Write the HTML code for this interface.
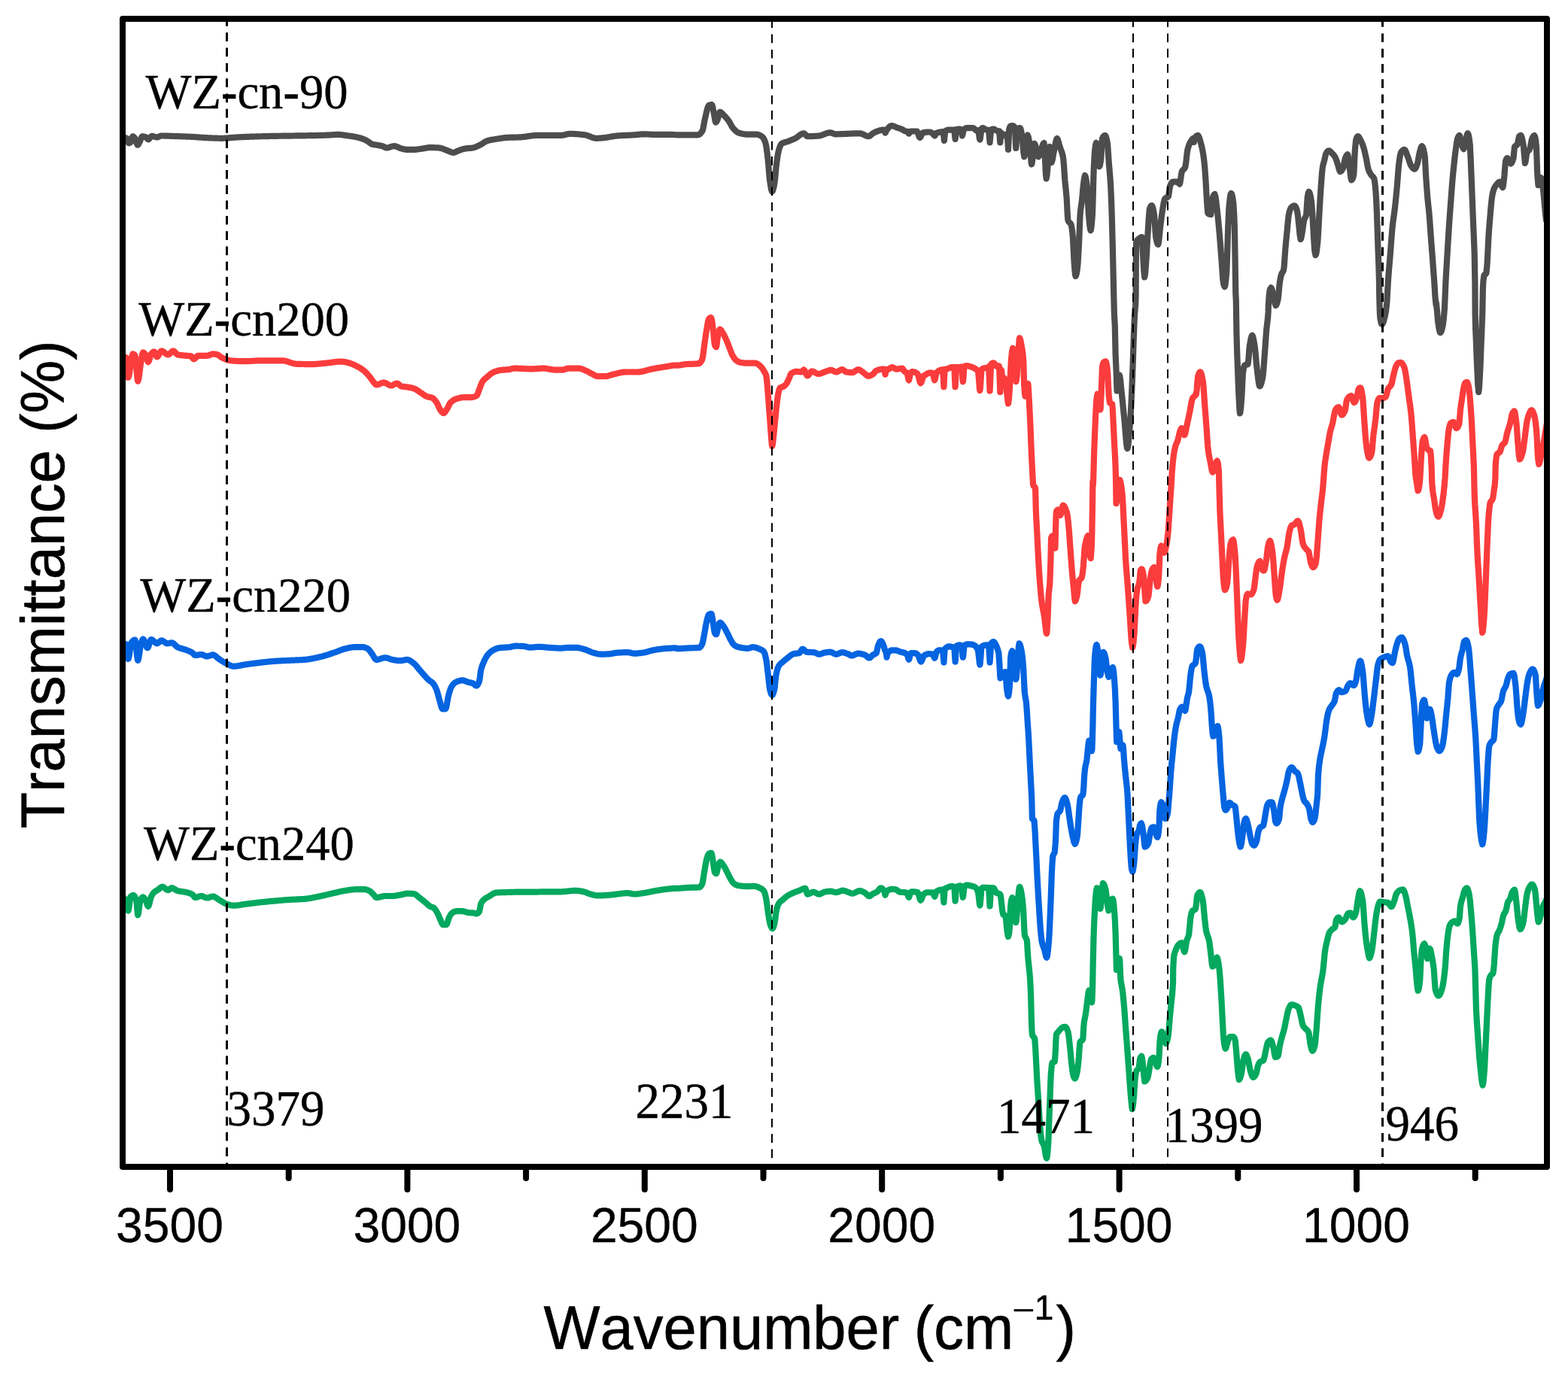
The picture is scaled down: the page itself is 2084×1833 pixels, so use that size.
<!DOCTYPE html>
<html lang="en"><head><meta charset="utf-8"><title>FTIR spectra</title>
<style>html,body{margin:0;padding:0;background:#fff}body{width:2084px;height:1833px;overflow:hidden}svg{display:block}text{font-kerning:none;white-space:pre}.sans{font-family:"Liberation Sans",Arial,Helvetica,sans-serif}.serif{font-family:"Liberation Serif","Times New Roman",Times,serif}</style></head><body>
<svg xmlns="http://www.w3.org/2000/svg" width="2084" height="1833" viewBox="0 0 2084 1833">
<rect x="0" y="0" width="2084" height="1833" fill="#ffffff"/>
<defs><clipPath id="plot"><rect x="163.0" y="25.0" width="1893.0" height="1526.0"/></clipPath></defs>
<g clip-path="url(#plot)" fill="none" stroke-width="8.2" stroke-linejoin="round" stroke-linecap="round">
<path stroke="#4d4d4d" d="M162.70 182.80 L163.50 182.82 L164.30 182.87 L165.10 182.95 L165.90 183.08 L166.70 183.24 L167.50 183.45 L168.60 183.80 L169.10 184.59 L169.90 187.35 L170.70 189.87 L171.10 190.30 L171.50 190.26 L172.30 189.96 L173.10 189.41 L173.90 188.70 L174.70 186.55 L175.50 183.29 L176.40 181.30 L177.10 181.49 L177.90 182.09 L178.70 182.95 L179.40 183.80 L180.30 185.86 L181.10 188.57 L181.90 191.11 L182.90 192.60 L183.50 192.28 L184.30 191.14 L185.10 189.62 L185.60 188.70 L185.90 188.12 L186.70 186.09 L187.50 183.85 L188.30 182.04 L189.10 181.30 L189.90 181.34 L190.70 181.44 L191.50 181.60 L192.30 181.81 L193.10 182.07 L194.00 182.40 L194.70 182.97 L195.50 184.04 L196.30 185.03 L197.00 185.40 L197.90 185.00 L198.70 184.15 L199.50 183.08 L200.30 182.03 L201.10 181.22 L201.90 180.90 L202.70 180.96 L203.50 181.11 L204.30 181.33 L205.10 181.58 L205.90 181.85 L206.70 182.09 L207.50 182.28 L208.30 182.39 L208.70 182.40 L209.10 182.37 L209.90 182.20 L210.70 181.89 L211.50 181.52 L212.30 181.14 L213.10 180.81 L213.90 180.57 L214.60 180.50 L215.50 180.50 L216.30 180.51 L217.10 180.52 L217.90 180.54 L218.70 180.56 L219.50 180.58 L220.30 180.61 L221.10 180.63 L221.90 180.66 L222.70 180.69 L223.50 180.72 L224.30 180.75 L225.10 180.78 L225.90 180.82 L226.70 180.84 L227.50 180.87 L228.30 180.90 L229.10 180.93 L229.90 180.95 L230.70 180.98 L231.50 181.00 L232.30 181.03 L233.10 181.05 L233.90 181.08 L234.70 181.10 L235.50 181.13 L236.30 181.16 L237.10 181.18 L237.90 181.21 L238.70 181.23 L239.50 181.26 L240.30 181.29 L241.10 181.31 L241.90 181.34 L242.70 181.37 L243.50 181.40 L244.30 181.43 L245.10 181.46 L245.90 181.49 L246.70 181.52 L247.50 181.55 L248.30 181.58 L249.10 181.61 L249.90 181.64 L250.70 181.68 L251.50 181.71 L252.30 181.74 L253.10 181.78 L253.90 181.82 L254.70 181.85 L255.70 181.90 L256.30 181.93 L257.10 181.97 L257.90 182.02 L258.70 182.07 L259.50 182.12 L260.30 182.18 L261.10 182.23 L261.90 182.29 L262.70 182.35 L263.50 182.41 L264.30 182.48 L265.10 182.54 L265.90 182.60 L266.70 182.66 L267.50 182.72 L268.30 182.78 L269.10 182.84 L269.90 182.90 L270.70 182.95 L271.50 183.00 L272.30 183.05 L273.10 183.10 L273.90 183.14 L274.70 183.18 L275.20 183.20 L275.50 183.21 L276.30 183.25 L277.10 183.28 L277.90 183.32 L278.70 183.35 L279.50 183.38 L280.30 183.42 L281.10 183.45 L281.90 183.48 L282.70 183.52 L283.50 183.55 L284.30 183.58 L285.10 183.61 L285.90 183.63 L286.70 183.66 L287.50 183.68 L288.30 183.71 L289.10 183.73 L289.90 183.74 L290.70 183.76 L291.50 183.77 L292.30 183.78 L293.10 183.79 L293.90 183.80 L294.80 183.80 L295.50 183.80 L296.30 183.79 L297.10 183.77 L297.90 183.74 L298.70 183.71 L299.50 183.67 L300.30 183.62 L301.10 183.57 L301.90 183.52 L302.70 183.46 L303.50 183.40 L304.30 183.33 L305.10 183.27 L305.90 183.20 L306.70 183.13 L307.50 183.06 L308.30 182.99 L309.10 182.92 L309.90 182.85 L310.70 182.78 L311.50 182.72 L312.30 182.66 L313.10 182.60 L313.90 182.54 L314.70 182.49 L315.50 182.44 L316.30 182.40 L317.10 182.36 L317.90 182.32 L318.70 182.29 L319.50 182.25 L320.30 182.21 L321.10 182.18 L321.90 182.14 L322.70 182.11 L323.50 182.07 L324.30 182.04 L325.10 182.00 L325.90 181.97 L326.70 181.94 L327.50 181.91 L328.30 181.87 L329.10 181.84 L329.90 181.81 L330.70 181.78 L331.50 181.75 L332.30 181.72 L333.10 181.69 L333.90 181.66 L334.70 181.64 L335.50 181.61 L336.30 181.58 L337.10 181.56 L337.90 181.53 L338.70 181.50 L339.50 181.48 L340.30 181.45 L341.10 181.43 L341.90 181.41 L342.70 181.38 L343.50 181.36 L344.30 181.34 L345.10 181.32 L345.70 181.30 L346.70 181.27 L347.50 181.25 L348.30 181.23 L349.10 181.21 L349.90 181.19 L350.70 181.17 L351.50 181.16 L352.30 181.14 L353.10 181.12 L353.90 181.10 L354.70 181.08 L355.50 181.06 L356.30 181.05 L357.10 181.03 L357.90 181.01 L358.70 181.00 L359.50 180.98 L360.30 180.96 L361.10 180.95 L361.90 180.93 L362.70 180.92 L363.50 180.90 L364.30 180.89 L365.10 180.87 L365.90 180.86 L366.70 180.84 L367.50 180.83 L368.30 180.81 L369.10 180.80 L369.90 180.79 L370.70 180.77 L371.50 180.76 L372.30 180.74 L373.10 180.73 L373.90 180.72 L375.00 180.70 L375.50 180.69 L376.30 180.68 L377.10 180.67 L377.90 180.65 L378.70 180.64 L379.50 180.63 L380.30 180.62 L381.10 180.61 L381.90 180.60 L382.70 180.59 L383.50 180.58 L384.30 180.57 L385.10 180.56 L385.90 180.55 L386.70 180.54 L387.50 180.53 L388.30 180.52 L389.10 180.51 L389.90 180.50 L390.70 180.49 L391.50 180.48 L392.30 180.47 L393.10 180.46 L393.90 180.45 L394.70 180.44 L395.50 180.43 L396.30 180.42 L397.10 180.41 L397.90 180.40 L398.70 180.39 L399.50 180.37 L400.30 180.36 L401.10 180.35 L401.90 180.34 L402.70 180.33 L403.50 180.31 L404.40 180.30 L405.10 180.29 L405.90 180.28 L406.70 180.26 L407.50 180.25 L408.30 180.24 L409.10 180.22 L409.90 180.21 L410.70 180.20 L411.50 180.18 L412.30 180.17 L413.10 180.16 L413.90 180.14 L414.70 180.13 L415.50 180.12 L416.30 180.10 L417.10 180.09 L417.90 180.07 L418.70 180.06 L419.50 180.04 L420.30 180.03 L421.10 180.01 L421.90 180.00 L422.70 179.98 L423.50 179.96 L424.30 179.95 L425.10 179.93 L425.90 179.91 L426.70 179.89 L427.50 179.87 L428.30 179.85 L429.10 179.83 L429.90 179.81 L430.70 179.79 L431.50 179.77 L432.30 179.74 L433.10 179.72 L433.80 179.70 L434.70 179.67 L435.50 179.63 L436.30 179.59 L437.10 179.55 L437.90 179.50 L438.70 179.44 L439.50 179.39 L440.30 179.33 L441.10 179.28 L441.90 179.22 L442.70 179.17 L443.50 179.11 L444.30 179.07 L445.10 179.02 L445.90 178.98 L446.70 178.95 L447.50 178.93 L448.30 178.91 L449.40 178.90 L449.90 178.90 L450.70 178.93 L451.50 178.96 L452.30 179.02 L453.10 179.09 L453.90 179.17 L454.70 179.26 L455.50 179.36 L456.30 179.47 L457.10 179.59 L457.90 179.71 L458.70 179.83 L459.50 179.96 L460.30 180.08 L461.10 180.21 L461.90 180.33 L462.70 180.44 L463.10 180.50 L463.50 180.56 L464.30 180.67 L465.10 180.78 L465.90 180.90 L466.70 181.02 L467.50 181.14 L468.30 181.27 L469.10 181.40 L469.90 181.53 L470.70 181.68 L471.50 181.82 L472.30 181.98 L472.90 182.10 L473.90 182.31 L474.70 182.49 L475.50 182.67 L476.30 182.87 L477.10 183.07 L477.90 183.29 L478.70 183.51 L479.50 183.74 L480.30 183.99 L481.10 184.25 L481.90 184.52 L482.70 184.80 L483.50 185.11 L484.30 185.45 L485.10 185.83 L485.90 186.22 L486.70 186.65 L487.50 187.08 L488.60 187.70 L489.10 188.01 L489.90 188.58 L490.70 189.21 L491.50 189.85 L492.30 190.46 L493.10 191.00 L493.90 191.42 L494.40 191.60 L494.70 191.68 L495.50 191.88 L496.30 192.05 L497.10 192.20 L497.90 192.33 L498.70 192.45 L499.50 192.56 L500.30 192.67 L501.10 192.79 L501.90 192.93 L502.30 193.00 L502.70 193.08 L503.50 193.22 L504.30 193.37 L505.10 193.52 L505.90 193.68 L506.70 193.86 L507.50 194.04 L508.10 194.20 L509.10 194.56 L509.90 194.95 L510.70 195.37 L511.50 195.78 L512.30 196.13 L513.10 196.39 L514.00 196.50 L514.70 196.47 L515.50 196.35 L516.30 196.18 L517.10 195.96 L517.90 195.70 L518.70 195.42 L519.50 195.14 L520.30 194.87 L521.10 194.63 L521.90 194.43 L522.70 194.28 L523.80 194.20 L524.30 194.22 L525.10 194.32 L525.90 194.51 L526.70 194.76 L527.50 195.05 L528.30 195.39 L529.10 195.75 L529.90 196.11 L530.70 196.47 L531.50 196.81 L532.30 197.11 L533.10 197.37 L533.60 197.50 L533.90 197.57 L534.70 197.76 L535.50 197.96 L536.30 198.15 L537.10 198.34 L537.90 198.51 L538.70 198.65 L539.50 198.77 L540.30 198.86 L541.40 198.90 L541.90 198.90 L542.70 198.90 L543.50 198.90 L544.30 198.90 L545.10 198.90 L545.90 198.90 L546.70 198.90 L547.50 198.90 L548.30 198.90 L549.10 198.90 L550.00 198.90 L550.70 198.89 L551.50 198.86 L552.30 198.81 L553.10 198.74 L553.90 198.65 L554.70 198.55 L555.50 198.44 L556.30 198.32 L557.10 198.20 L557.90 198.07 L558.70 197.95 L559.50 197.82 L560.30 197.70 L561.10 197.58 L561.70 197.50 L562.70 197.35 L563.50 197.22 L564.30 197.07 L565.10 196.92 L565.90 196.77 L566.70 196.62 L567.50 196.48 L568.30 196.36 L569.10 196.25 L569.90 196.17 L570.70 196.12 L571.50 196.10 L572.30 196.10 L573.10 196.11 L573.90 196.12 L574.70 196.13 L575.50 196.15 L576.30 196.17 L577.10 196.20 L577.90 196.23 L578.70 196.26 L579.50 196.29 L580.30 196.33 L581.10 196.37 L581.90 196.42 L582.70 196.46 L583.30 196.50 L584.30 196.61 L585.10 196.75 L585.90 196.95 L586.70 197.18 L587.50 197.44 L588.30 197.72 L589.10 198.02 L589.90 198.33 L590.70 198.64 L591.50 198.94 L592.30 199.23 L593.10 199.50 L593.90 199.78 L594.70 200.10 L595.50 200.44 L596.30 200.80 L597.10 201.17 L597.90 201.52 L598.70 201.85 L599.50 202.15 L600.30 202.41 L601.10 202.61 L601.90 202.74 L602.80 202.80 L603.50 202.74 L604.30 202.53 L605.10 202.21 L605.90 201.83 L606.70 201.42 L607.50 201.01 L608.30 200.65 L608.70 200.50 L609.10 200.36 L609.90 200.08 L610.70 199.79 L611.50 199.50 L612.30 199.21 L613.10 198.93 L613.90 198.66 L614.70 198.41 L615.50 198.17 L616.30 197.96 L617.10 197.76 L617.90 197.60 L618.50 197.50 L619.50 197.36 L620.30 197.27 L621.10 197.19 L621.90 197.13 L622.70 197.06 L623.50 197.00 L624.30 196.94 L625.10 196.88 L625.90 196.80 L626.70 196.72 L627.50 196.62 L628.30 196.50 L629.10 196.34 L629.90 196.14 L630.70 195.90 L631.50 195.62 L632.30 195.31 L633.10 194.97 L633.90 194.61 L634.70 194.24 L635.50 193.85 L636.30 193.46 L637.10 193.08 L638.10 192.60 L638.70 192.30 L639.50 191.86 L640.30 191.38 L641.10 190.87 L641.90 190.34 L642.70 189.81 L643.50 189.28 L644.30 188.78 L645.10 188.30 L645.90 187.87 L646.70 187.50 L647.80 187.10 L648.30 186.96 L649.10 186.74 L649.90 186.54 L650.70 186.35 L651.50 186.17 L652.30 186.01 L653.10 185.86 L653.90 185.71 L654.70 185.57 L655.50 185.44 L656.30 185.31 L657.10 185.19 L657.90 185.06 L658.70 184.94 L659.60 184.80 L660.30 184.69 L661.10 184.56 L661.90 184.43 L662.70 184.30 L663.50 184.18 L664.30 184.05 L665.10 183.92 L665.90 183.80 L666.70 183.68 L667.50 183.56 L668.30 183.45 L669.10 183.35 L669.90 183.25 L670.70 183.16 L671.50 183.07 L672.30 182.99 L673.10 182.93 L673.90 182.87 L674.70 182.82 L675.20 182.80 L675.50 182.79 L676.30 182.76 L677.10 182.73 L677.90 182.71 L678.70 182.68 L679.50 182.66 L680.30 182.65 L681.10 182.63 L681.90 182.61 L682.70 182.60 L683.50 182.59 L684.30 182.57 L685.10 182.56 L685.90 182.54 L686.70 182.52 L687.50 182.51 L688.30 182.49 L689.10 182.46 L689.90 182.44 L690.90 182.40 L691.50 182.37 L692.30 182.33 L693.10 182.27 L693.90 182.20 L694.70 182.12 L695.50 182.03 L696.30 181.94 L697.10 181.84 L697.90 181.73 L698.70 181.62 L699.50 181.50 L700.30 181.39 L701.10 181.27 L701.90 181.15 L702.70 181.03 L703.50 180.91 L704.30 180.79 L705.10 180.68 L705.90 180.57 L706.70 180.46 L707.50 180.36 L708.30 180.27 L709.10 180.19 L709.90 180.11 L710.70 180.05 L711.50 179.99 L712.30 179.95 L713.10 179.92 L713.90 179.90 L714.40 179.90 L714.70 179.90 L715.50 179.90 L716.30 179.90 L717.10 179.90 L717.90 179.90 L718.70 179.90 L719.50 179.90 L720.30 179.90 L721.10 179.90 L721.90 179.90 L722.70 179.90 L723.50 179.90 L724.30 179.90 L725.10 179.90 L725.90 179.90 L726.70 179.90 L727.50 179.90 L728.30 179.90 L729.10 179.90 L729.90 179.90 L730.70 179.90 L731.50 179.90 L732.30 179.90 L733.10 179.90 L733.90 179.90 L734.70 179.90 L735.50 179.90 L736.30 179.90 L737.10 179.90 L737.90 179.90 L738.70 179.90 L739.50 179.90 L740.30 179.90 L741.10 179.90 L741.90 179.90 L742.70 179.90 L743.50 179.90 L744.30 179.90 L745.10 179.90 L745.70 179.90 L746.70 179.86 L747.50 179.77 L748.30 179.65 L749.10 179.49 L749.90 179.31 L750.70 179.12 L751.50 178.91 L752.30 178.71 L753.10 178.51 L753.90 178.33 L754.70 178.17 L755.50 178.04 L756.30 177.95 L757.40 177.90 L757.90 177.90 L758.70 177.91 L759.50 177.92 L760.30 177.94 L761.10 177.96 L761.90 177.99 L762.70 178.03 L763.50 178.07 L764.30 178.11 L765.10 178.16 L765.90 178.22 L766.70 178.28 L767.50 178.34 L768.30 178.40 L769.10 178.47 L769.90 178.54 L770.70 178.62 L771.50 178.70 L772.30 178.78 L773.10 178.86 L773.90 178.95 L774.70 179.04 L775.50 179.13 L776.30 179.22 L777.00 179.30 L777.90 179.44 L778.70 179.60 L779.50 179.81 L780.30 180.05 L781.10 180.32 L781.90 180.61 L782.70 180.92 L783.50 181.24 L784.30 181.56 L785.10 181.88 L785.90 182.19 L786.70 182.50 L787.50 182.78 L788.30 183.04 L789.10 183.27 L789.90 183.47 L790.70 183.63 L791.50 183.74 L792.30 183.79 L792.70 183.80 L793.10 183.80 L793.90 183.79 L794.70 183.76 L795.50 183.73 L796.30 183.68 L797.10 183.63 L797.90 183.58 L798.70 183.51 L799.50 183.45 L800.30 183.38 L801.10 183.31 L801.90 183.24 L802.40 183.20 L802.70 183.17 L803.50 183.09 L804.30 183.00 L805.10 182.89 L805.90 182.78 L806.70 182.65 L807.50 182.52 L808.30 182.38 L809.10 182.24 L809.90 182.09 L810.70 181.94 L811.50 181.79 L812.30 181.64 L813.10 181.49 L813.90 181.35 L814.70 181.21 L815.50 181.08 L816.30 180.95 L817.10 180.83 L817.90 180.73 L818.70 180.63 L819.50 180.55 L820.10 180.50 L821.10 180.42 L821.90 180.37 L822.70 180.31 L823.50 180.26 L824.30 180.22 L825.10 180.17 L825.90 180.13 L826.70 180.09 L827.50 180.05 L828.30 180.01 L829.10 179.98 L829.90 179.94 L830.70 179.91 L831.50 179.87 L832.30 179.84 L833.10 179.81 L833.90 179.78 L834.70 179.74 L835.50 179.71 L836.30 179.68 L837.10 179.64 L837.90 179.61 L838.70 179.57 L839.50 179.53 L840.30 179.49 L841.10 179.44 L841.90 179.40 L842.70 179.35 L843.50 179.30 L844.30 179.24 L845.10 179.17 L845.90 179.09 L846.70 179.01 L847.50 178.92 L848.30 178.83 L849.10 178.74 L849.90 178.65 L850.70 178.57 L851.50 178.49 L852.30 178.42 L853.10 178.37 L853.90 178.33 L854.70 178.31 L855.30 178.30 L856.30 178.31 L857.10 178.32 L857.90 178.34 L858.70 178.37 L859.50 178.41 L860.30 178.45 L861.10 178.49 L861.90 178.53 L862.70 178.58 L863.50 178.62 L864.30 178.67 L865.10 178.71 L865.90 178.75 L866.70 178.79 L867.50 178.83 L868.30 178.86 L869.10 178.88 L869.90 178.89 L870.90 178.90 L871.50 178.90 L872.30 178.90 L873.10 178.90 L873.90 178.90 L874.70 178.90 L875.50 178.90 L876.30 178.90 L877.10 178.90 L877.90 178.90 L878.70 178.90 L879.50 178.90 L880.30 178.90 L881.10 178.90 L881.90 178.90 L882.70 178.90 L883.50 178.90 L884.30 178.90 L885.10 178.90 L885.90 178.90 L886.70 178.90 L887.50 178.90 L888.30 178.90 L889.10 178.90 L889.90 178.90 L890.70 178.90 L891.50 178.90 L892.50 178.90 L893.10 178.91 L893.90 178.94 L894.70 178.98 L895.50 179.04 L896.30 179.10 L897.10 179.17 L897.90 179.22 L898.70 179.27 L899.50 179.29 L900.00 179.30 L900.30 179.30 L901.10 179.30 L901.90 179.30 L902.70 179.30 L903.50 179.30 L904.30 179.30 L905.10 179.30 L905.90 179.30 L906.70 179.30 L907.50 179.30 L908.30 179.30 L909.10 179.30 L909.90 179.30 L910.70 179.30 L911.50 179.30 L912.30 179.30 L913.10 179.30 L913.90 179.30 L914.70 179.30 L915.50 179.30 L916.30 179.30 L917.10 179.30 L917.90 179.30 L918.70 179.30 L919.50 179.30 L920.30 179.30 L921.10 179.30 L921.90 179.30 L922.70 179.30 L923.50 179.30 L924.30 179.30 L925.10 179.30 L925.90 179.30 L926.70 179.30 L927.40 179.30 L928.30 179.16 L929.10 178.83 L929.90 178.30 L930.70 177.61 L931.50 176.77 L932.30 175.79 L933.30 174.40 L933.90 172.95 L934.70 169.64 L935.50 165.41 L936.30 161.02 L937.20 156.80 L937.90 153.91 L938.70 150.39 L939.50 146.95 L940.30 143.90 L941.10 141.56 L942.10 140.10 L942.70 139.84 L943.50 139.54 L944.30 139.31 L945.10 139.16 L946.00 139.10 L946.70 140.26 L947.50 143.64 L948.30 147.91 L948.90 150.90 L949.90 156.81 L950.70 161.27 L951.30 162.60 L952.30 161.73 L953.10 160.20 L953.80 158.70 L954.70 155.66 L955.50 152.16 L956.30 149.48 L956.80 148.90 L957.10 148.92 L957.90 149.20 L958.70 149.72 L959.50 150.44 L960.30 151.28 L961.10 152.18 L961.90 153.07 L962.60 153.80 L963.50 154.71 L964.30 155.55 L965.10 156.44 L965.90 157.37 L966.70 158.35 L967.50 159.36 L968.50 160.70 L969.10 161.59 L969.90 162.93 L970.70 164.40 L971.50 165.90 L972.30 167.37 L973.10 168.73 L973.90 169.90 L974.40 170.50 L974.70 170.83 L975.50 171.68 L976.30 172.51 L977.10 173.30 L977.90 174.03 L978.70 174.71 L979.50 175.31 L980.30 175.84 L981.10 176.27 L982.20 176.70 L982.70 176.85 L983.50 177.07 L984.30 177.29 L985.10 177.49 L985.90 177.68 L986.70 177.86 L987.50 178.03 L988.30 178.17 L989.10 178.31 L989.90 178.42 L990.70 178.52 L991.50 178.60 L992.30 178.65 L993.10 178.69 L993.90 178.70 L994.70 178.70 L995.50 178.70 L996.30 178.70 L997.10 178.70 L997.90 178.70 L998.70 178.70 L999.50 178.70 L1000.30 178.70 L1001.10 178.70 L1001.90 178.70 L1002.70 178.70 L1003.50 178.70 L1004.30 178.70 L1005.10 178.70 L1005.70 178.70 L1006.70 178.77 L1007.50 178.92 L1008.30 179.15 L1009.10 179.46 L1009.90 179.83 L1010.70 180.26 L1011.50 180.76 L1012.30 181.30 L1013.10 181.89 L1013.50 182.20 L1013.90 182.57 L1014.70 183.61 L1015.50 185.06 L1016.30 186.89 L1017.40 190.00 L1017.90 191.97 L1018.70 196.56 L1019.50 202.36 L1020.40 209.60 L1021.10 216.63 L1021.90 226.45 L1022.70 235.76 L1023.30 240.90 L1024.30 247.48 L1025.10 251.88 L1026.20 254.60 L1026.70 254.21 L1027.50 252.23 L1028.30 249.06 L1029.20 244.80 L1029.90 239.77 L1030.70 231.46 L1031.50 222.74 L1032.10 217.40 L1033.10 210.15 L1033.90 204.99 L1035.00 199.80 L1035.50 198.16 L1036.30 195.77 L1037.10 193.75 L1037.90 192.18 L1038.90 191.00 L1039.50 190.62 L1040.30 190.19 L1041.10 189.83 L1041.90 189.54 L1042.70 189.29 L1043.50 189.08 L1044.30 188.87 L1045.10 188.65 L1045.90 188.41 L1046.80 188.10 L1047.50 187.83 L1048.30 187.53 L1049.10 187.22 L1049.90 186.91 L1050.70 186.60 L1051.50 186.29 L1052.30 185.97 L1053.10 185.65 L1053.90 185.31 L1054.70 184.97 L1055.50 184.61 L1056.60 184.10 L1057.10 183.85 L1057.90 183.38 L1058.70 182.85 L1059.50 182.27 L1060.30 181.66 L1061.10 181.04 L1061.90 180.42 L1062.70 179.82 L1063.50 179.24 L1064.30 178.71 L1065.10 178.24 L1065.90 177.85 L1066.70 177.56 L1067.50 177.37 L1068.30 177.30 L1069.10 177.58 L1069.90 178.28 L1070.70 179.19 L1071.50 180.12 L1072.30 180.85 L1073.20 181.20 L1073.90 181.20 L1074.70 181.19 L1075.50 181.18 L1076.30 181.17 L1077.10 181.15 L1077.90 181.13 L1078.70 181.10 L1079.50 181.07 L1080.30 181.04 L1081.10 181.01 L1081.90 180.97 L1082.70 180.93 L1083.50 180.88 L1084.30 180.84 L1085.10 180.79 L1085.90 180.74 L1086.70 180.68 L1087.50 180.63 L1087.90 180.60 L1088.30 180.56 L1089.10 180.46 L1089.90 180.30 L1090.70 180.10 L1091.50 179.87 L1092.30 179.61 L1093.10 179.32 L1093.90 179.02 L1094.70 178.71 L1095.50 178.39 L1096.30 178.08 L1097.10 177.77 L1097.90 177.47 L1098.70 177.20 L1099.50 176.95 L1100.30 176.73 L1101.10 176.55 L1101.90 176.42 L1102.70 176.33 L1103.50 176.30 L1104.30 176.37 L1105.10 176.57 L1105.90 176.86 L1106.70 177.19 L1107.50 177.54 L1108.30 177.86 L1109.10 178.11 L1109.90 178.27 L1110.40 178.30 L1110.70 178.30 L1111.50 178.30 L1112.30 178.29 L1113.10 178.28 L1113.90 178.27 L1114.70 178.25 L1115.50 178.23 L1116.30 178.21 L1117.10 178.19 L1117.90 178.16 L1118.70 178.14 L1119.50 178.11 L1120.30 178.08 L1121.10 178.04 L1121.90 178.01 L1122.70 177.98 L1123.50 177.94 L1124.30 177.90 L1125.10 177.87 L1125.90 177.83 L1126.70 177.79 L1127.50 177.76 L1128.30 177.72 L1129.10 177.68 L1129.90 177.65 L1130.70 177.61 L1131.50 177.58 L1132.30 177.54 L1133.10 177.51 L1133.90 177.48 L1134.70 177.45 L1135.50 177.43 L1136.30 177.40 L1137.10 177.38 L1137.90 177.36 L1138.70 177.34 L1139.50 177.33 L1140.30 177.32 L1141.10 177.31 L1141.90 177.30 L1142.70 177.30 L1143.50 177.35 L1144.30 177.50 L1145.10 177.72 L1145.90 178.02 L1146.70 178.36 L1147.50 178.73 L1148.30 179.13 L1149.10 179.52 L1149.90 179.91 L1150.70 180.28 L1151.50 180.60 L1152.30 180.87 L1153.10 181.07 L1153.90 181.18 L1154.40 181.20 L1154.70 181.18 L1155.50 180.92 L1156.30 180.44 L1157.10 179.81 L1157.90 179.10 L1158.70 178.39 L1159.50 177.76 L1160.00 177.44 L1160.30 177.27 L1161.10 176.80 L1161.90 176.35 L1162.70 175.91 L1163.50 175.49 L1164.30 175.11 L1165.10 174.77 L1165.87 174.50 L1166.70 174.24 L1167.50 173.98 L1168.30 173.73 L1169.10 173.49 L1169.90 173.27 L1170.70 173.07 L1171.50 172.89 L1172.30 172.74 L1173.10 172.63 L1173.90 172.56 L1174.68 172.54 L1175.43 172.87 L1176.30 175.92 L1176.63 176.56 L1177.10 175.82 L1177.83 173.90 L1178.70 172.64 L1179.50 171.53 L1180.30 170.48 L1181.10 169.54 L1181.90 168.72 L1182.70 168.04 L1183.50 167.54 L1184.30 167.24 L1184.95 167.16 L1185.90 167.24 L1186.70 167.40 L1187.50 167.64 L1188.30 167.94 L1189.10 168.27 L1189.90 168.63 L1190.70 168.98 L1191.50 169.31 L1192.29 169.61 L1193.10 169.89 L1193.90 170.15 L1194.70 170.42 L1195.50 170.69 L1196.30 170.97 L1197.10 171.25 L1197.90 171.55 L1198.70 171.87 L1199.14 172.05 L1199.50 172.22 L1200.30 172.68 L1201.10 173.21 L1201.90 173.73 L1202.70 174.17 L1203.50 174.44 L1204.03 174.50 L1205.10 174.50 L1205.65 174.50 L1206.70 175.82 L1207.50 177.23 L1207.95 177.53 L1208.30 177.34 L1209.10 176.01 L1209.90 174.69 L1210.25 174.50 L1210.88 174.50 L1211.50 174.50 L1212.30 174.50 L1213.10 174.50 L1213.90 174.50 L1214.70 174.50 L1215.50 174.50 L1216.30 174.50 L1217.10 174.50 L1217.90 174.50 L1218.62 174.50 L1219.50 175.54 L1220.30 177.71 L1221.10 180.20 L1221.90 182.20 L1222.62 182.92 L1223.50 182.16 L1224.30 180.55 L1225.10 178.69 L1225.90 177.12 L1226.62 176.45 L1227.50 176.25 L1228.30 176.09 L1229.10 175.94 L1229.90 175.82 L1230.70 175.72 L1231.50 175.63 L1232.30 175.57 L1233.10 175.52 L1233.90 175.49 L1234.85 175.48 L1235.50 175.52 L1236.30 175.69 L1237.10 175.96 L1237.90 176.32 L1238.70 176.75 L1239.69 177.34 L1240.30 178.03 L1241.10 179.37 L1242.19 180.47 L1242.70 180.13 L1243.50 178.75 L1244.30 177.33 L1244.69 176.96 L1245.10 176.76 L1245.90 176.43 L1246.70 176.16 L1247.50 175.94 L1248.30 175.77 L1249.10 175.62 L1250.02 175.48 L1250.70 175.38 L1251.50 175.27 L1252.30 175.18 L1253.10 175.12 L1253.71 175.11 L1254.91 186.83 L1255.50 180.98 L1256.11 174.56 L1257.10 173.81 L1257.90 173.36 L1258.70 173.02 L1259.50 172.78 L1260.30 172.63 L1261.10 172.56 L1261.76 172.54 L1262.70 172.54 L1263.50 172.54 L1264.30 172.54 L1265.10 172.54 L1265.90 172.54 L1266.70 172.54 L1267.63 172.54 L1268.39 172.45 L1269.10 180.35 L1269.59 184.87 L1269.90 182.78 L1270.79 172.15 L1271.50 171.96 L1272.30 171.80 L1273.10 171.69 L1273.90 171.62 L1274.70 171.58 L1275.46 171.57 L1276.30 171.71 L1277.08 172.05 L1277.90 175.83 L1278.88 180.47 L1279.50 178.55 L1280.30 173.99 L1280.68 172.81 L1281.10 172.30 L1281.90 171.47 L1282.70 170.82 L1283.50 170.37 L1284.30 170.14 L1284.76 170.10 L1285.10 170.10 L1285.90 170.10 L1286.70 170.10 L1287.50 170.10 L1288.30 170.10 L1289.10 170.10 L1289.90 170.10 L1290.70 170.10 L1291.50 170.10 L1292.30 170.10 L1293.07 170.10 L1293.90 170.31 L1294.70 170.84 L1295.50 171.56 L1296.30 172.35 L1297.10 173.10 L1297.90 173.69 L1298.94 174.01 L1299.50 173.71 L1300.07 173.41 L1301.10 178.54 L1301.90 184.25 L1302.37 185.56 L1302.70 184.78 L1303.50 178.72 L1304.30 172.22 L1304.67 170.96 L1305.10 170.59 L1305.90 170.16 L1306.28 170.10 L1306.70 170.16 L1307.50 170.51 L1308.30 171.07 L1309.10 171.69 L1309.90 172.23 L1310.68 172.54 L1311.50 172.65 L1312.30 172.71 L1313.10 172.78 L1314.08 172.97 L1314.70 179.16 L1315.58 189.47 L1316.30 181.55 L1317.08 172.41 L1317.90 172.03 L1318.70 171.77 L1319.50 171.63 L1320.47 171.57 L1321.10 171.67 L1321.90 172.02 L1322.70 172.52 L1323.50 173.08 L1324.30 173.59 L1325.36 174.01 L1325.90 174.09 L1326.70 174.15 L1327.50 174.23 L1328.08 174.35 L1329.28 189.47 L1329.90 182.56 L1330.48 176.30 L1331.50 177.60 L1332.30 179.34 L1333.19 180.37 L1333.90 180.27 L1334.70 179.96 L1335.50 179.51 L1336.30 179.02 L1337.10 178.55 L1337.90 178.19 L1338.84 178.02 L1339.50 190.00 L1340.04 198.86 L1341.24 172.21 L1341.90 169.53 L1342.97 167.65 L1343.50 167.49 L1344.30 167.30 L1345.10 167.20 L1345.91 167.16 L1346.70 167.32 L1347.50 167.86 L1348.30 168.85 L1349.11 170.37 L1349.90 189.94 L1350.31 196.91 L1350.70 190.75 L1351.51 171.77 L1352.30 171.12 L1353.10 170.65 L1353.90 170.34 L1354.70 170.17 L1355.69 170.10 L1356.30 170.88 L1357.10 173.77 L1357.90 177.84 L1358.30 180.00 L1358.70 182.98 L1359.50 192.28 L1360.30 202.15 L1361.30 208.30 L1361.90 206.91 L1362.70 201.69 L1363.50 194.43 L1364.30 187.04 L1365.10 181.47 L1365.80 179.60 L1366.70 181.62 L1367.50 185.94 L1368.30 191.46 L1368.80 195.00 L1369.10 197.65 L1369.90 207.96 L1370.70 216.83 L1371.10 218.30 L1371.50 217.41 L1372.30 211.50 L1373.10 202.88 L1373.90 194.89 L1374.80 190.80 L1375.50 191.64 L1376.30 194.21 L1377.10 197.83 L1377.90 201.76 L1378.70 205.28 L1379.50 207.68 L1380.10 208.30 L1381.10 207.42 L1381.90 205.66 L1382.70 203.25 L1383.50 200.47 L1384.30 197.57 L1385.10 194.82 L1385.90 192.48 L1386.70 190.82 L1387.60 190.10 L1388.30 196.62 L1389.10 213.75 L1389.90 230.88 L1390.60 237.40 L1391.50 232.99 L1392.30 223.82 L1393.10 212.68 L1393.90 202.44 L1394.70 195.95 L1395.10 195.00 L1395.50 196.69 L1396.30 206.24 L1397.40 216.10 L1397.90 215.52 L1398.70 212.65 L1399.50 208.32 L1400.30 203.59 L1401.10 199.50 L1401.90 195.62 L1402.70 191.32 L1403.50 187.44 L1404.30 184.79 L1404.90 184.10 L1405.90 185.44 L1406.70 187.92 L1407.50 190.98 L1408.60 195.00 L1409.10 196.47 L1409.90 198.59 L1410.70 200.69 L1411.50 203.09 L1412.30 206.12 L1413.10 210.10 L1413.90 218.32 L1414.70 230.42 L1415.40 240.10 L1416.30 249.14 L1417.10 256.83 L1417.60 262.60 L1417.90 267.36 L1418.70 283.87 L1419.40 292.60 L1420.30 294.57 L1421.10 295.49 L1421.90 296.12 L1422.70 296.92 L1423.60 298.60 L1424.30 301.52 L1425.10 307.30 L1425.90 315.20 L1426.70 330.91 L1427.40 345.20 L1428.30 357.42 L1429.10 365.32 L1429.60 367.00 L1429.90 366.77 L1430.70 364.27 L1431.50 359.82 L1431.90 357.20 L1432.30 353.56 L1433.10 341.76 L1434.10 322.70 L1434.70 307.02 L1435.60 285.10 L1436.30 278.24 L1437.10 272.91 L1437.90 267.10 L1438.70 258.65 L1439.50 249.48 L1440.20 243.10 L1441.10 236.61 L1442.00 233.30 L1442.70 234.58 L1443.50 238.59 L1444.30 244.36 L1444.70 247.60 L1445.10 252.43 L1445.90 267.71 L1446.90 285.10 L1447.50 291.70 L1448.30 299.76 L1449.10 305.12 L1449.60 306.20 L1449.90 305.72 L1450.70 300.38 L1451.50 290.81 L1451.90 285.10 L1452.30 275.51 L1453.10 244.65 L1453.70 225.10 L1454.70 205.50 L1455.20 199.50 L1455.50 197.05 L1456.30 191.68 L1457.00 189.80 L1457.90 194.72 L1458.70 203.43 L1459.40 210.10 L1460.30 217.30 L1461.20 221.30 L1461.90 219.85 L1462.70 215.42 L1463.40 210.10 L1464.30 192.89 L1464.90 184.50 L1465.90 182.35 L1466.70 181.16 L1467.50 180.41 L1468.30 180.04 L1468.70 180.00 L1469.10 180.20 L1469.90 181.72 L1470.70 184.43 L1471.70 189.00 L1472.30 194.27 L1473.10 205.72 L1473.90 217.60 L1474.70 227.21 L1475.50 236.95 L1476.20 247.60 L1477.10 267.89 L1477.70 285.10 L1478.90 330.20 L1479.50 357.14 L1479.90 375.20 L1480.30 393.54 L1481.00 420.00 L1481.80 432.60 L1482.60 470.10 L1483.80 497.10 L1484.50 519.60 L1485.10 517.77 L1485.90 511.47 L1486.70 504.04 L1487.80 498.60 L1488.30 499.77 L1489.10 505.40 L1489.90 513.53 L1490.80 522.60 L1491.50 529.03 L1492.30 536.88 L1493.10 545.02 L1493.90 553.20 L1494.60 560.20 L1495.50 570.61 L1496.30 580.89 L1497.10 589.88 L1497.90 595.41 L1498.30 596.20 L1498.70 595.58 L1499.50 591.08 L1500.30 583.29 L1501.10 573.45 L1502.10 560.20 L1502.70 551.30 L1503.50 536.52 L1504.30 519.17 L1505.10 500.10 L1505.90 476.51 L1506.60 455.10 L1507.50 430.86 L1508.10 417.50 L1509.10 406.54 L1509.60 395.00 L1509.85 345.20 L1510.10 322.70 L1510.70 320.70 L1511.50 319.09 L1512.30 318.28 L1513.10 317.80 L1513.70 317.40 L1514.70 316.57 L1515.50 315.97 L1516.30 315.50 L1517.10 315.24 L1517.50 315.20 L1517.90 318.01 L1519.00 337.70 L1519.50 346.08 L1520.30 360.41 L1521.20 368.50 L1521.90 365.23 L1522.70 356.03 L1523.50 345.20 L1524.30 332.55 L1525.10 317.73 L1525.70 307.70 L1526.70 291.59 L1527.50 280.91 L1528.00 277.60 L1528.30 276.73 L1529.10 274.80 L1529.90 273.55 L1530.70 273.10 L1531.50 274.00 L1532.30 276.44 L1533.10 280.06 L1534.00 285.10 L1534.70 293.43 L1535.50 307.15 L1536.20 315.20 L1537.10 319.68 L1537.90 322.74 L1538.70 324.56 L1539.20 324.90 L1539.50 324.45 L1540.30 319.73 L1541.10 311.93 L1541.90 303.68 L1542.30 300.20 L1542.70 297.04 L1543.50 290.52 L1544.30 284.24 L1545.30 277.60 L1545.90 274.15 L1546.70 269.71 L1547.50 266.11 L1548.30 264.10 L1549.10 263.34 L1549.90 262.91 L1550.70 262.60 L1551.50 262.25 L1552.30 261.67 L1552.80 261.10 L1553.10 260.21 L1553.90 254.71 L1555.00 247.60 L1555.50 246.32 L1556.30 244.48 L1557.10 243.01 L1557.90 242.02 L1558.80 241.60 L1559.50 241.60 L1560.30 241.60 L1561.10 241.60 L1561.90 241.60 L1562.70 241.60 L1563.50 241.60 L1564.30 241.60 L1564.80 241.60 L1565.10 241.68 L1565.90 242.51 L1566.70 243.69 L1567.80 244.60 L1568.30 243.53 L1569.10 238.70 L1569.90 232.65 L1570.80 228.10 L1571.50 226.81 L1572.30 225.85 L1573.10 225.14 L1573.90 224.39 L1574.70 223.31 L1575.30 222.10 L1576.30 216.12 L1577.10 208.58 L1577.90 201.75 L1578.30 199.50 L1578.70 197.89 L1579.50 195.05 L1580.30 192.67 L1581.10 190.73 L1582.00 189.00 L1582.70 187.83 L1583.50 186.54 L1584.30 185.40 L1585.10 184.50 L1585.90 183.94 L1586.50 183.80 L1586.75 189.00 L1587.50 184.80 L1588.30 183.24 L1589.10 181.99 L1589.90 181.04 L1590.70 180.40 L1591.50 180.06 L1592.00 180.00 L1592.30 180.08 L1593.10 181.06 L1593.90 182.92 L1594.70 185.42 L1595.50 188.28 L1596.50 192.00 L1597.10 194.33 L1597.90 197.94 L1598.70 202.20 L1599.50 207.23 L1600.30 213.10 L1601.10 221.04 L1601.90 231.42 L1602.50 240.10 L1603.50 258.71 L1604.00 267.10 L1604.30 271.40 L1605.10 281.58 L1605.50 283.60 L1605.90 283.93 L1606.70 284.45 L1607.50 284.80 L1608.30 285.01 L1609.30 285.10 L1609.90 279.41 L1610.80 267.10 L1611.50 264.20 L1612.30 261.50 L1613.10 259.52 L1613.90 258.37 L1614.50 258.10 L1615.50 261.40 L1616.30 267.33 L1617.10 274.28 L1617.50 277.60 L1617.90 280.92 L1618.70 288.40 L1619.50 296.70 L1620.50 307.70 L1621.10 314.65 L1621.90 324.56 L1622.70 334.87 L1623.50 345.20 L1624.30 357.01 L1625.10 368.76 L1625.80 375.20 L1626.70 379.21 L1627.70 381.20 L1628.30 379.79 L1629.10 374.16 L1629.90 365.38 L1630.30 360.20 L1630.70 351.56 L1631.80 315.20 L1632.30 300.67 L1633.30 277.60 L1633.90 271.01 L1634.70 263.68 L1635.50 258.72 L1636.30 256.90 L1637.10 258.00 L1637.90 261.06 L1638.70 265.74 L1639.30 270.10 L1640.30 286.35 L1640.80 300.20 L1641.10 313.85 L1641.60 345.20 L1641.90 366.65 L1642.30 390.20 L1642.80 400.00 L1643.50 445.00 L1644.30 471.83 L1645.00 490.10 L1645.90 514.36 L1646.50 527.60 L1647.50 545.79 L1648.00 549.40 L1648.30 548.83 L1649.10 542.83 L1649.90 532.95 L1650.30 527.60 L1650.70 520.18 L1651.80 497.60 L1652.30 493.56 L1653.10 488.53 L1654.10 485.60 L1654.70 485.27 L1655.50 485.01 L1656.30 484.88 L1657.10 484.74 L1657.90 484.50 L1658.60 484.10 L1659.50 476.45 L1660.30 465.03 L1660.80 460.10 L1661.10 458.26 L1661.90 453.57 L1662.70 449.59 L1663.50 446.83 L1664.30 445.80 L1665.10 447.02 L1665.90 450.19 L1666.70 454.59 L1667.60 460.10 L1668.30 465.77 L1669.10 474.46 L1669.90 483.52 L1670.60 490.10 L1671.50 497.58 L1672.30 504.21 L1673.10 509.69 L1673.90 512.94 L1674.30 513.40 L1674.70 513.23 L1675.50 511.99 L1676.30 509.72 L1677.10 506.66 L1678.10 502.10 L1678.70 497.86 L1679.50 489.02 L1680.30 478.30 L1681.10 467.60 L1681.90 456.60 L1682.70 445.13 L1683.30 437.50 L1684.30 429.07 L1685.10 422.09 L1685.60 415.00 L1685.90 405.30 L1686.70 392.79 L1687.40 387.20 L1688.30 383.92 L1689.30 382.40 L1689.90 383.01 L1690.70 385.31 L1691.50 388.59 L1692.60 393.20 L1693.10 395.44 L1693.90 399.88 L1694.70 403.94 L1695.60 406.00 L1696.30 405.41 L1697.10 403.51 L1697.90 400.66 L1698.60 397.70 L1699.50 389.96 L1700.30 380.58 L1700.90 375.20 L1701.90 369.47 L1702.70 366.01 L1703.10 364.70 L1703.50 363.71 L1704.30 362.37 L1705.10 361.20 L1706.10 358.70 L1706.70 354.02 L1707.50 342.85 L1708.40 330.20 L1709.10 322.69 L1709.90 314.65 L1710.60 307.70 L1711.50 297.69 L1712.30 289.29 L1712.90 285.10 L1713.90 280.91 L1714.70 278.36 L1715.50 276.63 L1715.90 276.10 L1716.30 275.69 L1717.10 274.95 L1717.90 274.33 L1718.70 273.85 L1719.50 273.53 L1720.40 273.40 L1721.10 273.72 L1721.90 274.79 L1722.70 276.49 L1723.50 278.69 L1724.10 280.60 L1725.10 287.51 L1725.90 295.55 L1726.40 300.20 L1726.70 302.98 L1727.50 311.50 L1728.60 318.20 L1729.10 317.39 L1729.90 313.65 L1730.90 307.70 L1731.50 303.82 L1732.30 297.80 L1733.20 292.60 L1733.90 290.63 L1734.70 289.21 L1735.50 287.59 L1736.20 285.10 L1737.10 271.27 L1737.70 262.60 L1738.70 256.91 L1739.60 254.80 L1740.30 255.51 L1741.10 257.83 L1741.90 261.42 L1742.90 267.10 L1743.50 272.90 L1744.30 285.11 L1745.20 300.20 L1745.90 312.88 L1747.00 330.20 L1747.50 334.47 L1748.50 339.20 L1749.10 338.07 L1749.90 333.69 L1750.70 327.23 L1751.20 322.70 L1751.50 319.34 L1752.30 305.97 L1753.40 285.10 L1753.90 276.59 L1754.70 262.92 L1755.70 247.60 L1756.30 239.35 L1757.10 229.16 L1757.90 222.10 L1758.70 218.32 L1759.50 215.58 L1760.20 213.10 L1761.10 208.93 L1761.90 205.44 L1762.40 204.10 L1762.70 203.60 L1763.50 202.39 L1764.30 201.39 L1765.10 200.69 L1766.20 200.30 L1766.70 200.38 L1767.50 200.80 L1768.30 201.49 L1769.10 202.33 L1769.90 203.24 L1770.70 204.10 L1771.50 204.90 L1772.30 205.75 L1773.10 206.70 L1773.90 207.80 L1774.40 208.60 L1774.70 209.15 L1775.50 211.01 L1776.30 213.28 L1777.10 215.75 L1778.20 219.10 L1778.70 220.77 L1779.50 223.91 L1780.30 226.70 L1781.20 228.10 L1781.90 227.90 L1782.70 227.24 L1783.50 226.20 L1784.30 224.90 L1785.00 223.60 L1785.90 220.28 L1786.70 215.88 L1787.50 211.79 L1788.00 210.10 L1788.30 209.39 L1789.10 207.60 L1789.90 206.16 L1791.00 205.30 L1791.50 206.31 L1792.30 211.15 L1793.10 217.95 L1794.00 225.10 L1794.70 230.62 L1795.50 236.89 L1796.20 239.30 L1797.10 238.69 L1797.90 237.12 L1798.70 234.63 L1799.20 232.60 L1799.50 229.32 L1800.30 210.58 L1800.70 202.60 L1801.10 196.89 L1802.20 186.00 L1802.70 184.43 L1803.50 182.50 L1804.30 181.40 L1804.80 181.20 L1805.10 181.26 L1805.90 181.96 L1806.70 183.20 L1807.50 184.70 L1808.20 186.00 L1809.10 187.71 L1809.90 189.45 L1810.70 191.39 L1811.50 193.54 L1812.00 195.00 L1812.30 195.94 L1813.10 198.80 L1813.90 202.06 L1814.70 205.58 L1815.70 210.10 L1816.30 213.12 L1817.10 217.64 L1817.90 221.94 L1818.70 225.10 L1819.50 227.19 L1820.30 228.93 L1821.10 230.39 L1821.90 231.69 L1822.50 232.60 L1823.50 233.77 L1824.30 234.47 L1825.10 235.28 L1826.20 237.10 L1826.70 238.98 L1827.50 244.69 L1828.50 255.10 L1829.10 264.71 L1830.00 285.10 L1830.70 304.95 L1831.50 330.20 L1832.30 350.47 L1833.00 375.20 L1833.25 395.00 L1833.90 416.23 L1834.30 422.00 L1834.70 424.63 L1835.50 428.58 L1836.30 430.72 L1836.80 431.10 L1837.10 431.00 L1837.90 429.86 L1838.70 427.74 L1839.50 425.00 L1840.30 422.00 L1841.10 418.54 L1841.90 413.99 L1842.70 408.05 L1843.30 402.50 L1844.30 384.59 L1844.80 375.30 L1845.10 370.91 L1845.90 360.36 L1846.70 350.82 L1847.80 337.70 L1848.30 331.23 L1849.10 320.45 L1849.90 310.08 L1850.80 300.20 L1851.50 294.29 L1852.30 288.60 L1853.10 283.08 L1853.80 277.60 L1854.70 269.40 L1855.50 261.44 L1856.30 253.02 L1856.80 247.60 L1857.10 244.11 L1857.90 233.58 L1858.70 223.40 L1859.30 217.60 L1860.30 210.28 L1861.10 205.58 L1862.00 202.60 L1862.70 201.59 L1863.50 200.60 L1864.30 199.82 L1865.10 199.24 L1865.90 198.90 L1866.60 198.80 L1867.50 199.47 L1868.30 200.98 L1869.10 203.03 L1869.90 205.33 L1870.70 207.59 L1871.10 208.60 L1871.50 209.62 L1872.30 211.93 L1873.10 214.40 L1873.90 216.80 L1874.70 218.90 L1875.60 220.60 L1876.30 221.56 L1877.10 222.61 L1877.90 223.53 L1878.70 224.25 L1879.50 224.69 L1880.10 224.80 L1881.10 224.07 L1881.90 222.63 L1882.70 220.68 L1883.80 217.60 L1884.30 215.75 L1885.10 211.54 L1885.90 206.87 L1886.80 202.60 L1887.50 199.99 L1888.30 197.11 L1889.10 195.00 L1889.80 194.30 L1890.70 195.10 L1891.50 197.08 L1892.30 200.13 L1893.10 204.15 L1893.60 207.10 L1893.90 210.22 L1894.70 225.34 L1895.10 232.60 L1895.50 238.61 L1896.30 250.02 L1897.30 262.60 L1897.90 268.84 L1898.70 276.16 L1899.60 285.20 L1900.30 294.07 L1901.10 305.42 L1901.80 315.20 L1902.70 326.97 L1903.50 337.30 L1904.10 345.20 L1905.10 358.87 L1905.90 369.89 L1906.30 375.30 L1906.70 381.35 L1907.50 394.94 L1908.60 405.30 L1908.85 402.50 L1909.90 412.34 L1910.90 425.10 L1911.50 429.43 L1912.30 434.91 L1913.10 439.35 L1913.90 441.94 L1914.30 442.30 L1914.70 442.11 L1915.50 440.68 L1916.30 438.16 L1917.10 434.88 L1917.60 432.60 L1917.90 430.97 L1918.70 424.53 L1919.50 415.42 L1919.90 410.00 L1920.30 402.41 L1921.40 375.30 L1921.90 365.90 L1922.70 352.36 L1923.60 337.70 L1924.30 325.94 L1925.10 312.68 L1925.90 300.20 L1926.70 288.81 L1927.50 278.06 L1928.10 270.10 L1929.10 256.57 L1929.90 246.11 L1930.40 240.10 L1930.70 236.72 L1931.50 228.25 L1932.60 217.60 L1933.10 213.00 L1933.90 205.95 L1934.90 198.10 L1935.50 193.68 L1936.30 188.16 L1937.10 184.50 L1937.90 182.43 L1938.70 180.83 L1939.70 180.00 L1940.30 181.01 L1941.10 184.47 L1941.90 188.53 L1942.40 190.50 L1942.70 191.46 L1943.50 194.17 L1944.30 196.57 L1945.40 198.10 L1945.90 197.35 L1946.70 193.82 L1947.50 189.06 L1948.40 184.50 L1949.10 181.66 L1949.90 178.64 L1950.70 177.30 L1951.50 178.53 L1952.30 181.95 L1953.10 187.16 L1953.70 192.00 L1954.70 212.27 L1955.20 225.10 L1955.50 232.30 L1956.30 252.47 L1956.70 262.60 L1957.10 272.62 L1958.20 300.20 L1958.70 311.52 L1959.70 337.70 L1960.40 375.30 L1960.65 417.50 L1961.10 436.91 L1961.90 455.10 L1962.70 476.60 L1963.40 492.60 L1964.30 511.30 L1965.20 521.20 L1965.90 516.08 L1966.70 502.25 L1967.20 492.60 L1967.50 486.36 L1968.30 465.62 L1968.70 455.10 L1969.10 445.83 L1970.20 417.50 L1970.90 382.80 L1971.50 373.01 L1972.40 366.20 L1973.10 365.21 L1973.90 364.71 L1974.70 364.20 L1975.40 363.20 L1976.30 354.48 L1976.90 345.20 L1977.90 324.87 L1978.40 315.20 L1978.70 310.56 L1979.50 299.53 L1980.30 289.82 L1980.70 285.20 L1981.10 280.53 L1981.90 271.40 L1982.90 262.60 L1983.50 259.05 L1984.30 255.16 L1985.20 252.10 L1985.90 250.43 L1986.70 248.80 L1987.50 247.43 L1988.30 246.27 L1989.10 245.27 L1989.70 244.60 L1990.70 243.49 L1991.50 242.65 L1992.30 241.99 L1993.40 241.60 L1993.90 241.96 L1994.70 243.63 L1995.50 245.94 L1996.30 248.04 L1997.20 249.10 L1997.90 246.80 L1998.70 240.31 L1999.50 232.60 L2000.30 221.84 L2001.00 214.60 L2001.90 211.81 L2002.70 210.37 L2003.20 210.10 L2003.50 210.20 L2004.30 211.23 L2005.10 212.98 L2005.90 214.96 L2006.70 216.65 L2007.70 217.60 L2008.30 217.39 L2009.10 216.49 L2009.90 214.93 L2010.70 212.78 L2011.50 210.10 L2012.30 201.56 L2013.00 195.10 L2013.90 193.98 L2014.70 193.50 L2015.50 193.12 L2016.30 192.51 L2016.70 192.00 L2017.10 190.82 L2017.90 186.35 L2019.00 181.50 L2019.50 180.95 L2020.30 180.29 L2021.20 180.00 L2021.90 180.69 L2022.70 182.97 L2023.50 186.48 L2024.30 190.85 L2025.00 195.10 L2025.90 206.65 L2026.90 216.80 L2027.50 215.10 L2028.30 209.60 L2029.10 204.10 L2029.50 202.60 L2029.90 201.87 L2030.70 200.87 L2031.50 200.18 L2032.30 199.44 L2033.20 198.10 L2033.90 195.70 L2034.70 191.39 L2035.50 187.04 L2036.20 184.50 L2037.10 182.58 L2037.90 181.16 L2038.70 180.23 L2039.30 180.00 L2040.30 182.22 L2041.10 186.97 L2042.00 195.10 L2043.00 225.10 L2043.50 234.89 L2044.50 246.10 L2045.10 245.44 L2045.90 243.09 L2046.70 240.05 L2047.50 237.42 L2048.30 236.30 L2049.10 238.33 L2049.90 243.42 L2050.70 250.05 L2051.30 255.10 L2052.30 265.43 L2053.10 274.85 L2053.50 279.10 L2053.90 282.95 L2055.00 292.70"/>
<path stroke="#fa3c3c" d="M162.70 474.40 L163.50 474.42 L164.30 474.49 L165.10 474.60 L165.90 474.77 L166.70 474.98 L167.60 475.30 L168.30 479.34 L169.10 489.37 L169.90 498.90 L170.50 501.80 L171.50 499.02 L172.30 493.92 L173.10 487.72 L173.90 481.78 L174.50 478.30 L175.50 473.03 L176.40 470.50 L177.10 470.62 L177.90 471.02 L178.70 471.67 L179.40 472.40 L180.30 477.64 L181.10 486.89 L181.90 496.98 L182.70 504.60 L183.30 506.70 L184.30 503.71 L185.10 498.26 L185.90 491.65 L186.70 485.34 L187.20 482.20 L187.50 480.50 L188.30 475.51 L189.10 471.05 L190.10 468.50 L190.70 468.63 L191.50 469.16 L192.30 470.00 L193.10 471.06 L194.00 472.40 L194.70 474.24 L195.50 477.37 L196.30 480.18 L197.00 481.20 L197.90 479.95 L198.70 477.38 L199.50 474.34 L200.30 471.70 L200.90 470.50 L201.90 469.35 L202.70 468.55 L203.50 467.93 L204.30 467.57 L204.80 467.50 L205.10 467.62 L205.90 468.84 L206.70 470.82 L207.50 472.84 L208.30 474.20 L208.70 474.40 L209.10 474.30 L209.90 473.55 L210.70 472.29 L211.50 470.75 L212.30 469.17 L213.10 467.77 L213.90 466.81 L214.60 466.50 L215.50 466.64 L216.30 466.98 L217.10 467.46 L217.90 468.05 L218.70 468.70 L219.50 469.37 L220.30 470.00 L221.10 470.57 L221.90 471.02 L222.70 471.31 L223.40 471.40 L224.30 471.17 L225.10 470.63 L225.90 469.90 L226.70 469.06 L227.50 468.20 L228.30 467.43 L229.10 466.84 L230.20 466.50 L230.70 466.59 L231.50 467.06 L232.30 467.81 L233.10 468.72 L233.90 469.67 L234.70 470.52 L235.50 471.15 L236.10 471.40 L237.10 471.61 L237.90 471.76 L238.70 471.89 L239.50 472.00 L240.30 472.10 L241.10 472.19 L241.90 472.27 L242.70 472.34 L243.50 472.41 L244.30 472.48 L245.10 472.55 L245.90 472.61 L246.70 472.69 L247.80 472.80 L248.30 472.85 L249.10 472.92 L249.90 472.97 L250.70 473.03 L251.50 473.10 L252.30 473.18 L253.10 473.29 L253.70 473.40 L254.70 474.15 L255.50 475.23 L256.30 476.35 L257.10 477.14 L257.60 477.30 L257.90 477.27 L258.70 476.89 L259.50 476.20 L260.30 475.34 L261.10 474.43 L261.90 473.61 L262.70 473.03 L263.50 472.80 L264.30 472.80 L265.10 472.80 L265.90 472.80 L266.70 472.80 L267.50 472.80 L268.30 472.80 L269.10 472.80 L269.90 472.80 L270.70 472.80 L271.50 472.80 L272.30 472.80 L273.10 472.80 L273.90 472.80 L274.70 472.80 L275.20 472.80 L275.50 472.79 L276.30 472.68 L277.10 472.46 L277.90 472.18 L278.70 471.85 L279.50 471.50 L280.30 471.16 L281.10 470.87 L281.90 470.64 L282.70 470.52 L283.10 470.50 L283.50 470.51 L284.30 470.55 L285.10 470.63 L285.90 470.75 L286.70 470.90 L287.50 471.07 L288.30 471.25 L288.90 471.40 L289.90 471.81 L290.70 472.31 L291.50 472.91 L292.30 473.56 L293.10 474.20 L293.90 474.78 L294.80 475.30 L295.50 475.63 L296.30 475.99 L297.10 476.36 L297.90 476.71 L298.70 477.06 L299.50 477.39 L300.30 477.71 L301.10 478.00 L301.90 478.28 L302.70 478.53 L303.50 478.75 L304.30 478.94 L305.10 479.10 L305.90 479.22 L306.60 479.30 L307.50 479.38 L308.30 479.44 L309.10 479.51 L309.90 479.57 L310.70 479.62 L311.50 479.68 L312.30 479.73 L313.10 479.78 L313.90 479.83 L314.70 479.88 L315.50 479.92 L316.30 479.96 L317.10 480.00 L317.90 480.03 L318.70 480.06 L319.50 480.09 L320.30 480.11 L321.10 480.14 L321.90 480.15 L322.70 480.17 L323.50 480.18 L324.30 480.19 L325.10 480.20 L326.10 480.20 L326.70 480.20 L327.50 480.19 L328.30 480.17 L329.10 480.14 L329.90 480.11 L330.70 480.07 L331.50 480.03 L332.30 479.99 L333.10 479.94 L333.90 479.89 L334.70 479.83 L335.50 479.78 L336.30 479.72 L337.10 479.67 L337.90 479.61 L338.70 479.56 L339.50 479.51 L340.30 479.47 L341.10 479.43 L341.90 479.39 L342.70 479.36 L343.50 479.33 L344.30 479.31 L345.10 479.30 L345.70 479.30 L346.70 479.30 L347.50 479.30 L348.30 479.30 L349.10 479.30 L349.90 479.30 L350.70 479.30 L351.50 479.30 L352.30 479.30 L353.10 479.30 L353.90 479.30 L354.70 479.30 L355.50 479.30 L356.30 479.30 L357.10 479.30 L357.90 479.30 L358.70 479.30 L359.50 479.30 L360.30 479.30 L361.10 479.30 L361.90 479.30 L362.70 479.30 L363.50 479.30 L364.30 479.30 L365.10 479.30 L365.90 479.30 L366.70 479.30 L367.50 479.30 L368.30 479.30 L369.10 479.30 L369.90 479.30 L370.70 479.30 L371.50 479.30 L372.30 479.30 L373.10 479.30 L373.90 479.30 L375.00 479.30 L375.50 479.31 L376.30 479.35 L377.10 479.44 L377.90 479.56 L378.70 479.70 L379.50 479.88 L380.30 480.08 L381.10 480.30 L381.90 480.54 L382.70 480.79 L383.50 481.05 L384.30 481.31 L385.10 481.58 L385.90 481.85 L386.70 482.12 L387.50 482.37 L388.30 482.62 L389.10 482.85 L389.90 483.07 L390.70 483.26 L391.50 483.43 L392.30 483.58 L393.10 483.69 L393.90 483.76 L394.60 483.80 L395.50 483.83 L396.30 483.85 L397.10 483.87 L397.90 483.89 L398.70 483.91 L399.50 483.93 L400.30 483.94 L401.10 483.96 L401.90 483.98 L402.70 483.99 L403.50 484.01 L404.30 484.02 L405.10 484.03 L405.90 484.04 L406.70 484.05 L407.50 484.06 L408.30 484.07 L409.10 484.08 L409.90 484.08 L410.70 484.09 L411.50 484.09 L412.30 484.10 L413.10 484.10 L414.20 484.10 L414.70 484.10 L415.50 484.09 L416.30 484.07 L417.10 484.04 L417.90 484.01 L418.70 483.97 L419.50 483.92 L420.30 483.87 L421.10 483.81 L421.90 483.75 L422.70 483.68 L423.50 483.61 L424.30 483.54 L425.10 483.46 L425.90 483.38 L426.70 483.30 L427.50 483.22 L428.30 483.14 L429.10 483.06 L429.90 482.97 L430.70 482.89 L431.50 482.81 L432.30 482.74 L433.10 482.66 L433.80 482.60 L434.70 482.52 L435.50 482.43 L436.30 482.34 L437.10 482.25 L437.90 482.15 L438.70 482.04 L439.50 481.94 L440.30 481.83 L441.10 481.72 L441.90 481.61 L442.70 481.50 L443.50 481.39 L444.30 481.29 L445.10 481.19 L445.90 481.09 L446.70 481.00 L447.50 480.92 L448.30 480.84 L449.10 480.78 L449.90 480.72 L450.70 480.67 L451.50 480.63 L452.30 480.61 L453.30 480.60 L453.90 480.61 L454.70 480.65 L455.50 480.72 L456.30 480.81 L457.10 480.93 L457.90 481.06 L458.70 481.21 L459.50 481.38 L460.30 481.55 L461.10 481.73 L461.90 481.92 L462.70 482.11 L463.10 482.20 L463.50 482.30 L464.30 482.51 L465.10 482.76 L465.90 483.03 L466.70 483.32 L467.50 483.64 L468.30 483.97 L469.10 484.32 L469.90 484.68 L470.70 485.05 L471.50 485.43 L472.30 485.81 L472.90 486.10 L473.90 486.59 L474.70 486.99 L475.50 487.41 L476.30 487.85 L477.10 488.30 L477.90 488.77 L478.70 489.25 L479.50 489.76 L480.30 490.29 L481.10 490.83 L481.90 491.41 L482.70 492.00 L483.50 492.63 L484.30 493.32 L485.10 494.05 L485.90 494.82 L486.70 495.63 L487.50 496.46 L488.30 497.33 L489.10 498.21 L489.90 499.12 L490.50 499.80 L491.50 501.03 L492.30 502.10 L493.10 503.22 L493.90 504.35 L494.70 505.46 L495.50 506.52 L496.40 507.60 L497.10 508.46 L497.90 509.53 L498.70 510.51 L499.50 511.22 L500.30 511.50 L501.10 511.45 L501.90 511.29 L502.70 511.06 L503.50 510.77 L504.30 510.44 L505.10 510.09 L505.90 509.74 L506.70 509.40 L507.50 509.10 L508.30 508.86 L509.10 508.68 L510.10 508.60 L510.70 508.64 L511.50 508.82 L512.30 509.10 L513.10 509.47 L513.90 509.90 L514.70 510.37 L515.50 510.85 L516.30 511.31 L517.10 511.73 L517.90 512.08 L518.70 512.34 L519.50 512.48 L519.90 512.50 L520.30 512.48 L521.10 512.32 L521.90 512.03 L522.70 511.65 L523.50 511.22 L524.30 510.77 L525.10 510.35 L525.90 509.99 L526.70 509.73 L527.70 509.60 L528.30 509.70 L529.10 510.10 L529.90 510.71 L530.70 511.43 L531.50 512.18 L532.30 512.84 L533.10 513.33 L533.60 513.50 L533.90 513.56 L534.70 513.71 L535.50 513.83 L536.30 513.93 L537.10 514.02 L537.90 514.10 L538.70 514.17 L539.50 514.25 L540.30 514.34 L541.40 514.50 L541.90 514.58 L542.70 514.72 L543.50 514.85 L544.30 515.00 L545.10 515.16 L545.90 515.32 L546.70 515.50 L547.50 515.69 L548.30 515.90 L549.10 516.12 L550.00 516.40 L550.70 516.65 L551.50 517.00 L552.30 517.40 L553.10 517.85 L553.90 518.34 L554.70 518.86 L555.50 519.39 L556.30 519.95 L557.10 520.50 L557.90 521.06 L558.70 521.60 L559.80 522.30 L560.30 522.62 L561.10 523.16 L561.90 523.73 L562.70 524.31 L563.50 524.88 L564.30 525.44 L565.10 525.96 L565.90 526.43 L566.70 526.84 L567.60 527.20 L568.30 527.41 L569.10 527.60 L569.90 527.76 L570.70 527.90 L571.50 528.03 L572.30 528.18 L573.10 528.36 L573.90 528.59 L574.50 528.80 L575.50 529.35 L576.30 530.01 L577.10 530.82 L577.90 531.76 L578.70 532.79 L579.50 533.88 L580.30 535.00 L581.10 536.34 L581.90 538.01 L582.70 539.83 L583.50 541.66 L584.30 543.33 L585.20 544.80 L585.90 545.75 L586.70 546.85 L587.50 547.83 L588.30 548.60 L589.10 549.04 L589.50 549.10 L589.90 549.03 L590.70 548.50 L591.50 547.59 L592.30 546.43 L593.10 545.17 L594.00 543.80 L594.70 542.67 L595.50 541.11 L596.30 539.43 L597.10 537.79 L597.90 536.33 L598.90 535.00 L599.50 534.44 L600.30 533.75 L601.10 533.11 L601.90 532.52 L602.70 532.00 L603.50 531.52 L604.30 531.10 L605.10 530.73 L605.90 530.40 L606.80 530.10 L607.50 529.89 L608.30 529.65 L609.10 529.42 L609.90 529.21 L610.70 529.00 L611.50 528.82 L612.30 528.65 L613.10 528.50 L613.90 528.38 L614.70 528.29 L615.50 528.23 L616.50 528.20 L617.10 528.20 L617.90 528.20 L618.70 528.20 L619.50 528.20 L620.30 528.20 L621.10 528.20 L621.90 528.20 L622.70 528.20 L623.50 528.20 L624.40 528.20 L625.10 528.19 L625.90 528.14 L626.70 528.07 L627.50 527.96 L628.30 527.81 L629.10 527.64 L629.90 527.43 L630.70 527.18 L631.50 526.91 L632.30 526.59 L633.20 526.20 L633.90 525.48 L634.70 523.88 L635.50 521.77 L636.30 519.50 L637.10 517.40 L637.90 515.32 L638.70 513.06 L639.50 510.84 L640.30 508.89 L641.00 507.60 L641.90 506.35 L642.70 505.39 L643.50 504.53 L644.30 503.76 L645.10 503.04 L645.90 502.37 L646.70 501.72 L647.80 500.80 L648.30 500.37 L649.10 499.67 L649.90 498.98 L650.70 498.29 L651.50 497.63 L652.30 497.00 L653.10 496.41 L653.90 495.87 L654.70 495.39 L655.70 494.90 L656.30 494.65 L657.10 494.32 L657.90 494.01 L658.70 493.72 L659.50 493.44 L660.30 493.18 L661.10 492.94 L661.90 492.72 L662.70 492.52 L663.50 492.34 L664.30 492.19 L665.10 492.06 L665.50 492.00 L665.90 491.95 L666.70 491.85 L667.50 491.77 L668.30 491.70 L669.10 491.64 L669.90 491.59 L670.70 491.54 L671.50 491.49 L672.30 491.44 L673.10 491.39 L673.90 491.33 L674.70 491.27 L675.50 491.19 L676.30 491.11 L677.20 491.00 L677.90 490.87 L678.70 490.66 L679.50 490.41 L680.30 490.15 L681.10 489.91 L681.90 489.72 L682.70 489.62 L683.10 489.60 L683.50 489.60 L684.30 489.61 L685.10 489.62 L685.90 489.63 L686.70 489.65 L687.50 489.67 L688.30 489.70 L689.10 489.73 L689.90 489.76 L690.70 489.80 L691.50 489.83 L692.30 489.87 L693.10 489.91 L693.90 489.95 L694.70 489.99 L695.50 490.03 L696.30 490.07 L697.10 490.11 L697.90 490.15 L698.70 490.19 L699.50 490.23 L700.30 490.26 L701.10 490.29 L701.90 490.32 L702.70 490.34 L703.50 490.36 L704.30 490.38 L705.10 490.39 L705.90 490.40 L706.60 490.40 L707.50 490.39 L708.30 490.37 L709.10 490.34 L709.90 490.31 L710.70 490.26 L711.50 490.21 L712.30 490.16 L713.10 490.10 L713.90 490.04 L714.70 489.98 L715.50 489.92 L716.30 489.86 L717.10 489.80 L717.90 489.75 L718.70 489.70 L719.50 489.66 L720.30 489.63 L721.10 489.61 L722.20 489.60 L722.70 489.61 L723.50 489.64 L724.30 489.70 L725.10 489.78 L725.90 489.88 L726.70 490.00 L727.50 490.13 L728.30 490.27 L729.10 490.42 L729.90 490.57 L730.70 490.72 L731.50 490.87 L732.30 491.02 L733.10 491.15 L733.90 491.28 L734.70 491.38 L735.50 491.47 L736.30 491.54 L737.10 491.58 L737.90 491.60 L738.70 491.60 L739.50 491.60 L740.30 491.60 L741.10 491.60 L741.90 491.60 L742.70 491.60 L743.50 491.60 L744.30 491.60 L745.10 491.60 L745.90 491.60 L746.70 491.60 L747.70 491.60 L748.30 491.57 L749.10 491.43 L749.90 491.21 L750.70 490.94 L751.50 490.64 L752.30 490.33 L753.10 490.05 L753.90 489.82 L754.70 489.66 L755.50 489.60 L756.30 489.60 L757.10 489.60 L757.90 489.60 L758.70 489.60 L759.50 489.60 L760.30 489.60 L761.10 489.60 L761.90 489.60 L762.70 489.60 L763.50 489.60 L764.30 489.60 L765.10 489.60 L765.90 489.60 L766.70 489.60 L767.50 489.60 L768.30 489.60 L769.20 489.60 L769.90 489.63 L770.70 489.73 L771.50 489.90 L772.30 490.12 L773.10 490.38 L773.90 490.68 L774.70 491.01 L775.50 491.35 L776.30 491.69 L777.10 492.03 L778.00 492.40 L778.70 492.69 L779.50 493.05 L780.30 493.45 L781.10 493.87 L781.90 494.30 L782.70 494.74 L783.50 495.18 L784.30 495.62 L785.10 496.05 L785.90 496.47 L786.80 496.90 L787.50 497.24 L788.30 497.67 L789.10 498.12 L789.90 498.57 L790.70 499.00 L791.50 499.39 L792.30 499.73 L793.10 499.99 L793.90 500.15 L794.60 500.20 L795.50 500.20 L796.30 500.20 L797.10 500.20 L797.90 500.20 L798.70 500.20 L799.50 500.20 L800.30 500.20 L801.10 500.20 L801.90 500.20 L802.70 500.20 L803.50 500.20 L804.40 500.20 L805.10 500.18 L805.90 500.09 L806.70 499.95 L807.50 499.78 L808.30 499.56 L809.10 499.33 L809.90 499.07 L810.70 498.81 L811.50 498.55 L812.30 498.30 L813.10 498.07 L814.20 497.80 L814.70 497.69 L815.50 497.51 L816.30 497.32 L817.10 497.13 L817.90 496.93 L818.70 496.73 L819.50 496.53 L820.30 496.33 L821.10 496.13 L821.90 495.93 L822.70 495.75 L823.50 495.56 L824.30 495.39 L825.10 495.23 L825.90 495.08 L826.70 494.94 L827.50 494.82 L828.30 494.72 L829.10 494.63 L829.90 494.57 L830.70 494.52 L831.80 494.50 L832.30 494.50 L833.10 494.50 L833.90 494.50 L834.70 494.50 L835.50 494.50 L836.30 494.50 L837.10 494.50 L837.90 494.50 L838.70 494.50 L839.50 494.50 L840.30 494.50 L841.10 494.50 L841.90 494.50 L842.70 494.50 L843.50 494.50 L844.30 494.50 L845.10 494.50 L845.90 494.50 L846.70 494.50 L847.50 494.50 L848.30 494.49 L849.10 494.44 L849.90 494.38 L850.70 494.29 L851.50 494.18 L852.30 494.04 L853.10 493.89 L853.90 493.73 L854.70 493.55 L855.50 493.36 L856.30 493.16 L857.10 492.95 L857.90 492.73 L858.70 492.51 L859.50 492.28 L860.30 492.06 L861.10 491.84 L861.90 491.61 L862.70 491.40 L863.50 491.19 L864.30 490.99 L865.10 490.80 L865.90 490.62 L867.00 490.40 L867.50 490.31 L868.30 490.16 L869.10 490.01 L869.90 489.87 L870.70 489.72 L871.50 489.58 L872.30 489.44 L873.10 489.29 L873.90 489.15 L874.70 489.02 L875.50 488.88 L876.30 488.74 L877.10 488.61 L877.90 488.47 L878.70 488.34 L879.50 488.21 L880.30 488.08 L881.10 487.95 L881.90 487.82 L882.70 487.70 L883.50 487.57 L884.30 487.45 L885.10 487.33 L885.90 487.21 L886.60 487.10 L887.50 486.96 L888.30 486.82 L889.10 486.68 L889.90 486.54 L890.70 486.39 L891.50 486.25 L892.30 486.11 L893.10 485.98 L893.90 485.85 L894.70 485.75 L895.50 485.65 L896.30 485.58 L897.10 485.53 L897.90 485.50 L898.30 485.50 L898.70 485.53 L899.50 485.66 L900.00 485.70 L900.30 485.70 L901.10 485.67 L901.90 485.61 L902.70 485.52 L903.50 485.41 L904.30 485.28 L905.10 485.14 L905.90 485.00 L906.70 484.85 L907.50 484.70 L908.30 484.55 L909.10 484.42 L909.90 484.30 L910.70 484.19 L911.70 484.10 L912.30 484.06 L913.10 484.01 L913.90 483.97 L914.70 483.93 L915.50 483.90 L916.30 483.88 L917.10 483.85 L917.90 483.83 L918.70 483.81 L919.50 483.79 L920.30 483.77 L921.10 483.75 L921.90 483.72 L922.70 483.70 L923.50 483.66 L924.30 483.62 L925.10 483.58 L925.90 483.52 L926.70 483.46 L927.50 483.39 L928.40 483.30 L929.10 483.11 L929.90 482.64 L930.70 481.90 L931.50 480.91 L932.30 479.67 L933.30 477.80 L933.90 475.53 L934.70 470.14 L935.50 463.61 L936.20 458.30 L937.10 452.02 L937.90 446.37 L938.70 441.09 L939.10 438.70 L939.50 436.33 L940.30 431.40 L941.10 427.06 L942.10 424.00 L942.70 423.36 L943.50 422.67 L944.30 422.23 L945.00 422.10 L945.90 424.49 L946.70 429.50 L947.50 435.66 L947.90 438.70 L948.30 442.46 L949.10 452.08 L949.90 458.30 L950.70 460.05 L951.50 461.06 L951.90 461.20 L952.30 460.07 L953.10 453.74 L953.80 448.50 L954.70 444.06 L955.50 440.50 L956.30 438.17 L956.80 437.70 L957.10 437.75 L957.90 438.31 L958.70 439.33 L959.50 440.61 L960.30 441.96 L960.70 442.60 L961.10 443.23 L961.90 444.63 L962.70 446.16 L963.50 447.80 L964.30 449.51 L965.10 451.28 L965.60 452.40 L965.90 453.08 L966.70 455.01 L967.50 457.04 L968.30 459.11 L969.10 461.18 L969.50 462.20 L969.90 463.23 L970.70 465.40 L971.50 467.58 L972.30 469.64 L973.40 472.00 L973.90 472.89 L974.70 474.26 L975.50 475.52 L976.30 476.66 L977.10 477.66 L977.90 478.47 L978.30 478.80 L978.70 479.10 L979.50 479.68 L980.30 480.20 L981.10 480.68 L981.90 481.09 L982.70 481.42 L983.50 481.67 L984.10 481.80 L985.10 481.96 L985.90 482.08 L986.70 482.19 L987.50 482.29 L988.30 482.38 L989.10 482.46 L989.90 482.53 L990.70 482.59 L991.50 482.64 L992.30 482.67 L993.10 482.69 L993.90 482.70 L994.70 482.70 L995.50 482.70 L996.30 482.70 L997.10 482.70 L997.90 482.70 L998.70 482.70 L999.50 482.70 L1000.30 482.70 L1001.10 482.70 L1001.90 482.70 L1002.70 482.70 L1003.70 482.70 L1004.30 482.75 L1005.10 482.94 L1005.90 483.26 L1006.70 483.69 L1007.50 484.22 L1008.30 484.81 L1009.10 485.45 L1009.90 486.11 L1010.60 486.70 L1011.50 487.57 L1012.30 488.53 L1013.10 489.63 L1013.90 490.84 L1014.70 492.14 L1015.50 493.50 L1016.30 494.79 L1017.10 496.18 L1017.90 498.04 L1018.50 500.00 L1019.50 508.54 L1020.40 519.60 L1021.10 528.41 L1021.90 539.10 L1022.70 549.46 L1023.40 558.70 L1024.30 571.75 L1024.80 578.30 L1025.10 582.05 L1025.90 591.33 L1026.30 593.00 L1026.70 592.02 L1027.50 585.95 L1028.30 578.30 L1029.10 570.46 L1030.20 558.70 L1030.70 553.62 L1031.50 545.57 L1032.20 539.10 L1033.10 531.33 L1034.10 524.50 L1034.70 521.61 L1035.50 518.26 L1036.60 515.70 L1037.10 515.35 L1037.90 514.94 L1038.70 514.67 L1039.50 514.45 L1040.30 514.23 L1041.10 513.91 L1041.50 513.70 L1041.90 513.45 L1042.70 512.83 L1043.50 512.08 L1044.30 511.20 L1045.40 509.80 L1045.90 509.02 L1046.70 507.45 L1047.50 505.67 L1048.30 503.90 L1049.10 501.96 L1049.90 499.81 L1050.70 497.87 L1051.70 496.40 L1052.30 496.00 L1053.10 495.52 L1053.90 495.10 L1054.70 494.73 L1055.50 494.42 L1056.30 494.19 L1057.10 494.02 L1057.90 493.92 L1058.50 493.90 L1059.50 493.93 L1060.30 494.00 L1061.10 494.09 L1061.90 494.19 L1062.70 494.30 L1063.50 494.39 L1064.30 494.46 L1065.40 494.50 L1065.90 494.26 L1066.70 493.23 L1067.50 492.06 L1068.30 491.50 L1069.10 492.06 L1069.90 493.48 L1070.70 495.33 L1071.50 497.21 L1072.30 498.70 L1073.20 499.40 L1073.90 499.17 L1074.70 498.45 L1075.50 497.41 L1076.30 496.23 L1077.10 495.07 L1077.90 494.13 L1078.70 493.58 L1079.10 493.50 L1079.50 493.52 L1080.30 493.68 L1081.10 493.96 L1081.90 494.34 L1082.70 494.78 L1083.50 495.25 L1084.30 495.72 L1085.10 496.16 L1085.90 496.54 L1086.70 496.82 L1087.50 496.98 L1087.90 497.00 L1088.30 496.99 L1089.10 496.89 L1089.90 496.71 L1090.70 496.46 L1091.50 496.17 L1092.30 495.84 L1093.10 495.50 L1093.90 495.17 L1094.70 494.85 L1095.70 494.50 L1096.30 494.31 L1097.10 494.02 L1097.90 493.71 L1098.70 493.40 L1099.50 493.09 L1100.30 492.79 L1101.10 492.52 L1101.90 492.28 L1102.70 492.09 L1103.50 491.96 L1104.50 491.90 L1105.10 491.96 L1105.90 492.18 L1106.70 492.52 L1107.50 492.95 L1108.30 493.40 L1109.10 493.83 L1109.90 494.18 L1110.70 494.43 L1111.40 494.50 L1112.30 494.38 L1113.10 494.10 L1113.90 493.70 L1114.70 493.23 L1115.50 492.72 L1116.30 492.23 L1117.10 491.79 L1117.90 491.44 L1118.70 491.24 L1119.20 491.20 L1119.50 491.22 L1120.30 491.49 L1121.10 491.97 L1121.90 492.59 L1122.70 493.24 L1123.50 493.84 L1124.30 494.29 L1125.00 494.50 L1125.90 494.62 L1126.70 494.72 L1127.50 494.81 L1128.30 494.88 L1129.10 494.95 L1129.90 495.00 L1130.70 495.05 L1131.50 495.08 L1132.30 495.10 L1132.90 495.10 L1133.90 494.92 L1134.70 494.57 L1135.50 494.09 L1136.30 493.52 L1137.10 492.93 L1137.90 492.35 L1138.70 491.84 L1139.50 491.45 L1140.30 491.23 L1140.70 491.20 L1141.10 491.23 L1141.90 491.44 L1142.70 491.81 L1143.50 492.30 L1144.30 492.86 L1145.10 493.46 L1145.90 494.04 L1146.60 494.50 L1147.50 495.13 L1148.30 495.78 L1149.10 496.49 L1149.90 497.21 L1150.70 497.92 L1151.50 498.56 L1152.30 499.11 L1153.10 499.52 L1153.90 499.76 L1154.40 499.80 L1154.70 499.79 L1155.50 499.67 L1156.30 499.44 L1157.10 499.11 L1157.90 498.71 L1158.70 498.27 L1159.50 497.80 L1160.00 497.50 L1160.30 497.30 L1161.10 496.55 L1161.90 495.61 L1162.70 494.61 L1163.50 493.67 L1164.30 492.94 L1164.89 492.60 L1165.90 492.22 L1166.70 491.95 L1167.50 491.69 L1168.30 491.46 L1169.10 491.25 L1169.90 491.07 L1170.70 490.91 L1171.50 490.79 L1172.30 490.71 L1173.10 490.66 L1173.70 490.65 L1174.70 490.69 L1175.43 490.79 L1176.30 496.34 L1176.63 497.59 L1177.10 495.35 L1177.83 490.99 L1178.70 491.07 L1179.57 491.14 L1180.30 491.03 L1181.10 490.71 L1181.90 490.25 L1182.70 489.70 L1183.50 489.16 L1184.30 488.68 L1185.10 488.34 L1185.93 488.20 L1186.70 488.34 L1187.50 488.70 L1188.30 489.21 L1189.10 489.75 L1189.90 490.23 L1190.70 490.56 L1191.31 490.65 L1192.30 490.61 L1193.10 490.52 L1193.90 490.40 L1194.70 490.26 L1195.50 490.11 L1196.30 489.96 L1197.10 489.83 L1197.90 489.74 L1198.70 489.68 L1199.14 489.67 L1199.50 489.80 L1200.30 490.77 L1201.10 492.18 L1202.07 493.58 L1202.70 494.07 L1203.50 494.50 L1204.30 494.92 L1205.10 495.49 L1205.65 496.08 L1206.70 500.53 L1207.50 504.58 L1207.95 505.42 L1208.30 504.83 L1209.10 500.66 L1209.90 496.23 L1210.25 495.37 L1210.70 494.98 L1211.50 494.45 L1212.30 494.13 L1212.84 494.07 L1213.90 494.15 L1214.70 494.32 L1215.50 494.56 L1216.30 494.89 L1217.10 495.30 L1217.90 495.78 L1218.70 496.33 L1219.60 497.03 L1220.30 498.42 L1221.10 501.40 L1221.90 504.89 L1222.70 507.87 L1223.60 509.33 L1224.30 508.65 L1225.10 506.64 L1225.90 504.02 L1226.70 501.52 L1227.60 499.77 L1228.30 499.19 L1229.10 498.69 L1229.90 498.27 L1230.45 497.98 L1231.50 497.33 L1232.30 496.79 L1233.10 496.29 L1233.90 495.88 L1234.70 495.61 L1235.34 495.54 L1236.30 495.56 L1237.10 495.62 L1237.90 495.72 L1238.70 495.85 L1239.69 496.08 L1240.30 497.57 L1241.10 501.71 L1242.19 505.42 L1242.70 504.46 L1243.50 500.53 L1244.30 496.55 L1244.69 495.57 L1245.10 495.09 L1245.90 494.28 L1246.70 493.59 L1247.50 493.02 L1248.30 492.56 L1249.10 492.19 L1249.90 491.90 L1251.00 491.62 L1251.50 491.52 L1252.30 491.38 L1253.22 491.31 L1253.90 505.05 L1254.42 514.23 L1255.62 490.96 L1256.30 490.82 L1257.10 490.74 L1257.85 490.65 L1258.70 490.44 L1259.50 490.15 L1260.30 489.81 L1261.10 489.45 L1261.90 489.09 L1262.70 488.75 L1263.50 488.48 L1264.30 488.28 L1265.19 488.20 L1265.90 488.20 L1266.70 488.20 L1267.50 488.20 L1268.39 488.20 L1269.10 504.75 L1269.59 514.23 L1269.90 509.92 L1270.79 488.20 L1271.50 488.20 L1272.30 488.20 L1273.10 488.20 L1273.90 488.20 L1274.97 488.20 L1275.50 488.15 L1276.30 487.95 L1277.10 487.72 L1278.06 487.58 L1278.70 493.31 L1279.50 505.32 L1279.86 507.38 L1280.30 504.34 L1281.10 491.70 L1281.66 486.86 L1282.70 486.50 L1283.50 486.33 L1284.30 486.25 L1284.76 486.24 L1285.10 486.25 L1285.90 486.31 L1286.70 486.44 L1287.50 486.61 L1288.30 486.82 L1289.10 487.06 L1289.90 487.32 L1290.70 487.58 L1291.12 487.71 L1291.50 487.84 L1292.30 488.13 L1293.10 488.46 L1293.90 488.83 L1294.70 489.24 L1295.50 489.69 L1296.30 490.19 L1296.99 490.65 L1297.90 491.25 L1298.70 491.87 L1299.50 492.79 L1300.07 493.73 L1301.10 505.05 L1301.90 516.52 L1302.37 519.12 L1302.70 517.64 L1303.50 506.07 L1304.30 493.74 L1304.67 491.42 L1305.10 490.83 L1305.90 490.09 L1306.77 489.67 L1307.50 489.48 L1308.30 489.34 L1309.10 489.25 L1309.90 489.18 L1310.70 489.10 L1311.50 488.98 L1312.30 488.79 L1312.64 488.69 L1313.10 488.27 L1314.08 487.25 L1314.70 499.27 L1315.58 519.61 L1316.30 503.33 L1317.08 484.45 L1317.90 483.48 L1318.70 482.85 L1319.50 482.48 L1320.47 482.33 L1321.10 482.64 L1321.90 483.67 L1322.70 484.99 L1323.50 486.16 L1324.38 486.73 L1325.10 486.66 L1325.90 486.47 L1326.70 486.30 L1327.32 486.24 L1328.08 487.47 L1329.28 521.08 L1329.90 505.48 L1330.48 491.37 L1331.23 492.60 L1332.60 513.10 L1333.10 511.72 L1333.90 506.43 L1334.80 502.60 L1335.50 503.88 L1336.30 507.75 L1337.10 512.95 L1337.80 517.60 L1338.70 526.07 L1339.50 533.95 L1340.10 536.40 L1341.10 528.81 L1341.90 516.46 L1342.30 510.10 L1342.70 502.45 L1343.80 480.10 L1344.30 474.54 L1345.10 466.99 L1346.10 462.80 L1346.70 464.84 L1347.50 471.85 L1348.30 480.10 L1349.10 490.83 L1349.90 502.51 L1350.60 507.10 L1351.50 500.03 L1352.30 487.47 L1352.80 480.10 L1353.10 475.76 L1353.90 461.87 L1354.70 451.03 L1355.10 449.30 L1355.50 449.65 L1356.30 452.13 L1357.10 456.18 L1358.10 462.00 L1358.70 465.32 L1359.50 470.86 L1360.30 480.10 L1361.10 510.10 L1361.90 522.31 L1362.60 526.60 L1363.50 524.15 L1364.30 519.35 L1365.10 514.18 L1365.90 510.64 L1366.30 510.10 L1366.70 512.71 L1367.80 532.60 L1368.30 541.72 L1369.30 562.60 L1369.90 577.44 L1370.80 600.20 L1371.50 614.86 L1372.30 630.20 L1373.10 644.50 L1373.90 646.15 L1374.70 646.70 L1375.50 647.47 L1376.10 649.00 L1376.80 677.50 L1377.10 685.05 L1377.90 700.20 L1378.30 707.60 L1378.70 715.74 L1379.80 737.60 L1380.30 746.69 L1381.40 764.60 L1381.90 771.48 L1382.70 781.83 L1383.50 790.97 L1384.40 799.20 L1385.10 804.03 L1385.90 808.52 L1386.70 812.53 L1387.50 816.65 L1388.10 820.20 L1389.10 828.70 L1389.90 836.17 L1390.70 841.24 L1391.10 842.00 L1391.50 839.68 L1392.60 820.20 L1393.10 806.17 L1393.70 790.20 L1394.70 781.23 L1395.30 775.10 L1396.40 745.10 L1397.10 715.10 L1397.90 713.23 L1398.70 712.31 L1399.40 712.10 L1400.30 715.66 L1401.10 721.99 L1401.90 727.38 L1402.40 728.60 L1402.70 719.64 L1403.10 700.10 L1403.50 687.52 L1403.90 680.50 L1404.30 679.43 L1405.10 678.05 L1406.10 677.50 L1406.70 678.28 L1407.50 680.88 L1408.30 683.68 L1409.10 685.00 L1409.90 683.49 L1410.70 679.95 L1411.50 675.85 L1412.30 672.68 L1412.90 671.80 L1413.90 672.26 L1414.70 673.23 L1415.50 674.69 L1416.30 676.56 L1417.10 678.79 L1418.10 682.00 L1418.70 685.01 L1419.50 691.35 L1420.40 700.10 L1421.10 708.51 L1421.90 720.10 L1422.60 730.10 L1423.50 742.28 L1424.30 752.83 L1424.90 760.10 L1425.90 770.83 L1426.70 778.73 L1427.10 782.60 L1427.50 787.04 L1428.30 796.19 L1428.90 799.20 L1429.90 797.66 L1430.70 794.77 L1431.70 790.20 L1432.30 785.67 L1433.10 777.39 L1433.90 772.10 L1434.70 770.77 L1435.50 770.03 L1436.30 769.46 L1437.10 768.64 L1437.70 767.60 L1438.70 762.86 L1439.50 756.35 L1439.90 752.60 L1440.30 747.21 L1441.40 730.10 L1441.90 726.50 L1442.70 722.11 L1443.70 718.10 L1444.30 715.87 L1445.10 713.24 L1445.90 712.10 L1446.70 715.53 L1447.50 723.58 L1448.30 732.88 L1449.10 740.09 L1449.70 742.10 L1450.70 728.48 L1451.20 715.10 L1451.50 702.13 L1451.90 677.50 L1452.40 640.00 L1452.70 645.20 L1453.10 639.44 L1454.20 600.20 L1454.70 586.85 L1455.70 562.60 L1456.30 548.56 L1457.20 532.60 L1457.90 526.71 L1458.70 523.60 L1459.50 526.12 L1460.30 531.98 L1461.10 538.64 L1461.90 543.55 L1462.40 544.60 L1462.70 542.84 L1463.50 527.05 L1463.90 517.60 L1464.30 505.60 L1465.00 487.60 L1465.90 483.51 L1466.90 481.60 L1467.50 481.14 L1468.30 480.68 L1469.10 480.43 L1469.50 480.40 L1469.90 480.82 L1470.70 483.85 L1471.50 489.17 L1472.20 495.10 L1473.10 513.60 L1473.70 525.10 L1474.70 533.80 L1475.20 535.60 L1475.50 535.86 L1476.30 536.24 L1477.10 536.43 L1478.20 537.10 L1478.70 541.91 L1479.70 562.60 L1480.30 574.29 L1481.20 592.70 L1481.90 605.04 L1482.70 622.70 L1483.20 645.20 L1483.50 669.20 L1484.30 666.57 L1485.10 660.09 L1485.90 651.88 L1486.70 644.07 L1487.50 638.78 L1488.00 637.70 L1488.30 637.88 L1489.10 639.93 L1489.90 643.95 L1490.70 649.51 L1491.70 658.00 L1492.30 666.74 L1493.20 685.00 L1493.90 698.84 L1494.70 715.10 L1495.50 731.90 L1496.20 745.10 L1497.10 757.77 L1497.90 767.52 L1498.50 775.10 L1499.50 788.52 L1500.30 799.53 L1500.70 805.20 L1501.10 811.06 L1502.20 827.70 L1502.70 835.81 L1503.70 850.20 L1504.30 855.96 L1505.20 860.70 L1505.90 858.43 L1506.70 851.67 L1507.50 842.70 L1508.30 827.59 L1509.00 812.70 L1509.90 797.52 L1510.50 790.20 L1511.50 783.36 L1512.00 781.10 L1512.30 780.09 L1513.10 778.29 L1514.20 775.10 L1514.70 770.06 L1515.70 758.60 L1516.30 757.43 L1517.10 756.52 L1517.50 756.40 L1517.90 756.72 L1518.70 759.03 L1519.50 763.09 L1520.20 767.60 L1521.10 780.49 L1521.70 790.20 L1522.50 799.20 L1523.50 798.70 L1524.30 797.63 L1525.10 796.06 L1526.20 793.20 L1526.70 790.36 L1527.50 782.17 L1528.50 772.10 L1529.10 767.76 L1529.90 762.47 L1530.80 758.60 L1531.50 756.97 L1532.30 755.43 L1533.10 754.41 L1533.80 754.10 L1534.70 756.74 L1535.50 761.58 L1536.00 764.60 L1536.30 766.55 L1537.10 773.26 L1537.90 778.71 L1538.30 779.60 L1538.70 778.77 L1539.50 772.89 L1540.50 760.10 L1541.30 737.60 L1541.90 732.17 L1542.70 727.32 L1543.50 725.60 L1544.30 726.63 L1545.10 729.04 L1545.90 731.84 L1546.70 734.00 L1547.30 734.60 L1548.30 732.96 L1549.10 729.90 L1549.90 726.07 L1550.30 724.10 L1550.70 721.97 L1551.50 716.57 L1552.50 707.60 L1553.10 699.60 L1554.00 685.00 L1554.70 674.49 L1555.50 662.50 L1556.30 650.77 L1557.00 640.00 L1557.70 627.70 L1558.70 615.67 L1559.50 608.21 L1559.90 605.20 L1560.30 602.54 L1561.10 597.94 L1562.20 593.20 L1562.70 591.67 L1563.50 589.74 L1564.30 588.03 L1565.20 585.70 L1565.90 583.11 L1566.70 579.54 L1567.50 576.07 L1568.20 573.70 L1569.10 571.22 L1569.90 569.56 L1570.40 569.20 L1570.70 569.36 L1571.50 571.03 L1572.30 573.70 L1573.10 576.37 L1574.20 578.20 L1574.70 577.71 L1575.50 575.24 L1576.30 571.44 L1577.10 567.15 L1577.90 563.20 L1578.70 559.61 L1579.50 555.87 L1580.30 552.03 L1581.10 548.13 L1581.70 545.20 L1582.70 539.62 L1583.50 535.00 L1584.30 531.35 L1584.70 530.20 L1585.10 529.43 L1585.90 528.26 L1586.90 527.10 L1587.50 526.52 L1588.30 525.94 L1589.10 525.26 L1589.90 524.10 L1590.70 517.37 L1591.50 506.26 L1592.20 500.10 L1593.10 497.41 L1593.90 495.62 L1594.70 494.59 L1595.20 494.40 L1595.50 494.52 L1596.30 495.86 L1597.10 498.48 L1597.90 502.10 L1598.90 507.60 L1599.50 513.09 L1600.30 524.38 L1601.20 537.70 L1601.90 546.79 L1602.70 557.17 L1603.50 567.70 L1604.30 579.55 L1605.10 591.27 L1605.70 597.70 L1606.70 604.44 L1607.50 608.56 L1608.30 612.28 L1608.70 614.20 L1609.10 616.34 L1609.90 621.09 L1610.70 625.30 L1611.70 627.70 L1612.30 627.16 L1613.10 625.20 L1613.90 622.59 L1614.70 620.20 L1615.50 617.81 L1616.30 615.20 L1617.10 613.24 L1617.70 612.70 L1618.70 615.18 L1619.50 621.44 L1620.00 627.70 L1620.25 640.00 L1621.30 677.50 L1621.90 690.85 L1622.80 707.60 L1623.50 721.61 L1624.30 737.60 L1625.10 755.35 L1625.80 767.60 L1626.70 777.15 L1627.50 782.92 L1628.00 784.10 L1628.30 783.99 L1629.10 782.76 L1629.90 780.34 L1630.70 777.02 L1631.10 775.10 L1631.50 771.83 L1632.30 760.22 L1633.30 745.10 L1633.90 737.90 L1634.70 728.76 L1635.60 722.60 L1636.30 720.73 L1637.10 719.02 L1637.90 717.86 L1638.90 717.30 L1639.50 718.68 L1640.30 724.02 L1641.10 731.98 L1641.60 737.60 L1641.90 741.85 L1642.70 758.45 L1643.10 767.60 L1643.50 777.02 L1644.60 805.20 L1645.10 818.40 L1646.10 842.70 L1646.70 853.10 L1647.60 865.20 L1648.30 873.13 L1649.10 878.00 L1649.90 875.99 L1650.70 870.78 L1651.50 863.62 L1652.10 857.70 L1653.10 842.49 L1653.90 827.13 L1654.30 820.20 L1654.70 813.31 L1655.80 797.70 L1656.30 794.83 L1657.10 791.25 L1658.10 789.40 L1658.70 789.44 L1659.50 789.58 L1660.30 789.79 L1661.10 789.99 L1661.90 790.15 L1662.60 790.20 L1663.50 789.76 L1664.30 788.71 L1665.10 787.15 L1665.90 785.20 L1666.30 784.10 L1666.70 782.41 L1667.50 776.63 L1668.60 767.60 L1669.10 763.80 L1669.90 757.49 L1670.80 752.60 L1671.50 750.62 L1672.30 748.67 L1673.10 747.15 L1673.90 746.19 L1674.60 745.90 L1675.50 748.11 L1676.30 752.15 L1677.10 755.88 L1677.60 757.10 L1677.90 757.43 L1678.70 758.16 L1679.80 758.60 L1680.30 758.05 L1681.10 755.30 L1681.90 751.06 L1682.90 745.10 L1683.50 740.52 L1684.30 732.91 L1685.10 727.10 L1685.90 723.55 L1686.70 720.60 L1687.80 718.80 L1688.30 719.27 L1689.10 721.69 L1689.90 725.64 L1690.70 730.51 L1691.10 733.10 L1691.50 736.32 L1692.30 745.48 L1693.40 760.10 L1693.90 767.28 L1694.70 779.99 L1695.60 790.20 L1696.30 794.36 L1697.40 797.70 L1697.90 797.20 L1698.70 794.67 L1699.50 790.70 L1700.30 786.05 L1700.90 782.60 L1701.90 775.80 L1702.70 769.31 L1703.50 762.94 L1703.90 760.10 L1704.30 757.45 L1705.10 752.29 L1705.90 747.45 L1706.90 742.10 L1707.50 739.40 L1708.30 736.30 L1709.10 733.41 L1709.90 730.30 L1710.60 727.10 L1711.50 721.44 L1712.30 715.52 L1713.10 710.12 L1713.60 707.60 L1713.90 706.37 L1714.70 703.23 L1715.50 700.61 L1716.60 698.60 L1717.10 698.29 L1717.90 697.96 L1718.70 697.73 L1719.50 697.49 L1720.40 697.10 L1721.10 696.50 L1721.90 695.48 L1722.70 694.31 L1723.50 693.23 L1724.30 692.49 L1724.90 692.30 L1725.90 693.45 L1726.70 695.67 L1727.50 698.61 L1728.60 703.10 L1729.10 705.69 L1729.90 711.41 L1730.70 717.45 L1731.70 722.60 L1732.30 724.11 L1733.10 725.77 L1733.90 727.12 L1734.70 728.25 L1735.50 729.25 L1736.20 730.10 L1737.10 730.98 L1737.90 731.59 L1738.70 732.38 L1739.20 733.10 L1739.50 733.85 L1740.30 737.68 L1741.10 742.69 L1742.20 748.10 L1742.70 749.54 L1743.50 751.70 L1744.30 753.34 L1745.20 754.10 L1745.90 753.86 L1746.70 753.03 L1747.50 751.65 L1748.30 749.79 L1748.90 748.10 L1749.90 739.88 L1750.70 729.18 L1751.20 722.60 L1751.50 718.74 L1752.30 707.38 L1753.40 692.60 L1753.90 687.12 L1754.70 679.14 L1755.70 670.00 L1756.30 665.04 L1757.10 658.91 L1757.90 652.00 L1758.70 642.64 L1759.50 631.73 L1760.30 621.67 L1760.70 617.70 L1761.10 614.45 L1761.90 608.91 L1762.90 602.70 L1763.50 599.01 L1764.30 594.33 L1765.20 589.20 L1765.90 585.12 L1766.70 580.42 L1767.50 576.02 L1768.20 572.70 L1769.10 569.33 L1769.90 566.76 L1770.70 564.11 L1771.20 562.20 L1771.50 560.85 L1772.30 556.50 L1773.10 551.90 L1774.20 547.10 L1774.70 545.73 L1775.50 543.88 L1776.40 542.60 L1777.10 542.05 L1777.90 541.54 L1778.70 541.20 L1779.40 541.10 L1780.30 542.60 L1781.10 545.57 L1781.90 548.83 L1782.70 551.20 L1783.20 551.70 L1783.50 551.67 L1784.30 551.27 L1785.10 550.47 L1785.90 549.30 L1786.70 547.82 L1787.70 545.60 L1788.30 542.67 L1789.10 536.52 L1789.90 532.10 L1790.70 530.36 L1791.50 529.06 L1792.30 528.12 L1792.90 527.60 L1793.90 526.88 L1794.70 526.41 L1795.50 526.14 L1795.90 526.10 L1796.30 526.38 L1797.10 528.23 L1797.90 530.95 L1798.70 533.56 L1799.70 535.10 L1800.30 534.83 L1801.10 533.74 L1801.90 532.02 L1802.70 529.90 L1803.50 527.60 L1804.30 523.76 L1805.10 519.10 L1805.70 517.10 L1806.70 515.94 L1807.50 515.40 L1808.00 515.30 L1808.30 515.47 L1809.10 517.39 L1809.90 520.99 L1811.00 527.60 L1811.50 532.32 L1812.30 543.92 L1813.20 557.70 L1813.90 567.55 L1814.70 578.72 L1815.50 587.70 L1816.30 594.28 L1817.10 599.62 L1817.70 602.70 L1818.70 607.07 L1819.50 608.70 L1820.30 608.34 L1821.10 607.32 L1821.90 605.71 L1823.00 602.70 L1823.50 599.58 L1824.30 590.48 L1825.20 580.20 L1825.90 574.58 L1826.70 568.89 L1827.50 563.23 L1828.20 557.70 L1829.10 547.91 L1829.90 539.04 L1830.50 535.10 L1831.50 532.02 L1832.30 530.23 L1833.10 529.23 L1833.50 529.10 L1833.90 529.10 L1834.70 529.10 L1835.50 529.10 L1836.30 529.10 L1837.20 529.10 L1837.90 529.06 L1838.70 528.93 L1839.50 528.70 L1840.30 528.37 L1841.10 527.96 L1841.70 527.60 L1842.70 525.03 L1843.50 521.47 L1844.30 518.18 L1844.70 517.10 L1845.10 516.37 L1845.90 515.26 L1846.70 514.41 L1847.50 513.62 L1848.30 512.65 L1849.20 511.10 L1849.90 508.94 L1850.70 505.29 L1851.50 501.22 L1852.30 497.60 L1853.10 494.42 L1853.90 491.31 L1854.70 488.63 L1855.30 487.10 L1856.30 485.09 L1857.10 483.76 L1857.90 482.85 L1858.30 482.60 L1858.70 482.44 L1859.50 482.15 L1860.30 481.94 L1861.10 481.82 L1861.60 481.80 L1861.90 481.83 L1862.70 482.23 L1863.50 483.02 L1864.30 484.16 L1865.10 485.59 L1865.90 487.24 L1866.50 488.60 L1867.50 492.50 L1868.30 497.22 L1869.10 502.50 L1869.50 505.10 L1869.90 507.75 L1870.70 513.60 L1871.50 519.84 L1872.50 527.60 L1873.10 531.91 L1873.90 537.40 L1874.70 543.25 L1875.50 550.20 L1876.30 559.43 L1877.10 570.47 L1877.80 580.20 L1878.70 592.23 L1879.50 603.15 L1880.00 610.20 L1880.30 614.87 L1881.10 627.99 L1881.50 632.70 L1881.90 635.72 L1882.70 640.20 L1883.10 642.50 L1883.50 645.58 L1884.60 652.30 L1885.10 651.62 L1885.90 648.26 L1886.80 642.50 L1887.50 633.93 L1888.30 619.06 L1889.10 605.30 L1889.90 593.76 L1890.60 587.20 L1891.50 584.04 L1892.30 582.12 L1893.30 581.20 L1893.90 582.63 L1894.70 587.31 L1895.80 593.20 L1896.30 594.55 L1897.10 596.37 L1898.10 597.80 L1898.70 598.17 L1899.50 598.43 L1900.30 598.70 L1901.10 599.30 L1901.90 606.98 L1902.60 620.30 L1903.30 642.50 L1904.30 653.01 L1905.10 658.15 L1905.90 662.55 L1906.30 665.10 L1906.70 668.01 L1907.50 673.98 L1908.60 680.10 L1909.10 681.78 L1909.90 684.20 L1910.70 686.00 L1911.60 686.80 L1912.30 686.33 L1913.10 684.80 L1913.90 682.49 L1914.70 679.71 L1915.40 677.10 L1916.30 672.74 L1917.10 667.53 L1917.90 661.49 L1918.40 657.50 L1918.70 655.04 L1919.50 647.81 L1920.60 635.00 L1921.40 620.30 L1921.90 612.51 L1922.70 601.15 L1923.60 590.20 L1924.30 582.51 L1925.10 574.61 L1925.90 569.20 L1926.70 565.85 L1927.50 563.42 L1928.10 562.50 L1929.10 561.84 L1929.90 561.44 L1930.70 561.16 L1931.50 561.02 L1931.90 561.00 L1932.30 561.27 L1933.10 563.03 L1933.90 565.60 L1934.70 567.98 L1935.60 569.20 L1936.30 568.99 L1937.10 568.26 L1937.90 566.99 L1938.70 565.20 L1939.40 563.20 L1940.30 553.00 L1940.90 545.20 L1941.90 537.74 L1942.70 532.77 L1943.10 530.20 L1943.50 527.42 L1944.30 521.66 L1945.40 515.20 L1945.90 513.09 L1946.70 510.25 L1947.30 509.10 L1948.30 508.32 L1949.10 507.97 L1949.60 507.90 L1949.90 508.03 L1950.70 509.51 L1951.50 512.22 L1952.20 515.20 L1953.10 522.14 L1953.90 531.46 L1954.40 537.70 L1954.70 541.58 L1955.50 553.53 L1955.90 560.20 L1956.30 567.58 L1957.40 590.20 L1957.90 599.21 L1958.90 620.30 L1959.70 657.50 L1960.30 670.47 L1961.10 682.13 L1961.90 695.10 L1962.70 715.31 L1963.40 732.60 L1964.30 748.48 L1965.10 760.71 L1965.70 770.20 L1966.70 787.49 L1967.50 801.24 L1967.90 807.70 L1968.30 814.62 L1969.10 829.61 L1970.20 840.80 L1970.70 839.47 L1971.50 833.07 L1972.40 822.70 L1973.10 810.69 L1973.90 792.70 L1974.70 773.19 L1975.40 755.20 L1976.30 732.04 L1976.90 717.60 L1977.90 695.63 L1978.40 687.60 L1978.70 684.00 L1979.50 675.54 L1980.30 669.68 L1980.70 668.10 L1981.10 667.21 L1981.90 666.10 L1982.70 665.29 L1983.70 663.60 L1984.30 661.25 L1985.10 656.14 L1985.90 650.00 L1986.70 644.49 L1987.40 635.00 L1987.65 620.30 L1988.30 611.25 L1989.10 605.50 L1989.70 603.80 L1990.70 602.66 L1991.50 602.18 L1992.30 601.77 L1993.40 600.80 L1993.90 599.81 L1994.70 597.25 L1995.50 594.34 L1996.50 591.70 L1997.10 590.94 L1997.90 590.24 L1998.70 589.66 L1999.50 588.95 L2000.20 588.00 L2001.10 585.19 L2001.90 581.32 L2002.70 577.30 L2003.20 575.20 L2003.50 574.14 L2004.30 571.58 L2005.10 569.24 L2005.90 566.88 L2007.00 563.20 L2007.50 561.03 L2008.30 556.84 L2009.10 552.75 L2010.00 549.70 L2010.70 548.42 L2011.50 547.21 L2012.30 546.50 L2012.70 546.40 L2013.10 546.93 L2013.90 550.55 L2014.70 556.27 L2015.20 560.20 L2015.50 563.00 L2016.30 573.60 L2017.10 585.30 L2017.50 590.20 L2017.90 594.86 L2018.70 604.41 L2019.70 610.50 L2020.30 610.22 L2021.10 609.06 L2021.90 607.21 L2022.70 604.89 L2023.50 602.30 L2024.30 598.53 L2025.10 593.15 L2025.90 587.10 L2026.50 582.70 L2027.50 574.82 L2028.30 568.17 L2029.10 562.40 L2029.50 560.20 L2029.90 558.35 L2030.70 555.05 L2031.50 552.29 L2032.50 549.70 L2033.10 548.43 L2033.90 546.84 L2034.70 545.66 L2035.50 545.20 L2036.30 545.63 L2037.10 546.82 L2037.90 548.61 L2038.70 550.84 L2039.30 552.70 L2040.30 557.40 L2041.10 563.23 L2041.90 570.80 L2042.30 575.20 L2042.70 582.08 L2043.80 605.30 L2044.30 610.83 L2045.30 617.00 L2045.90 616.21 L2046.70 613.27 L2047.50 609.24 L2048.30 605.30 L2049.10 601.62 L2049.90 597.64 L2050.70 593.45 L2051.30 590.20 L2052.30 584.37 L2053.10 579.42 L2053.90 574.53 L2054.30 572.20 L2054.70 569.94 L2055.50 565.52 L2056.50 560.20"/>
<path stroke="#0564e0" d="M162.70 857.30 L163.50 856.89 L164.30 856.61 L165.10 856.43 L165.90 856.34 L166.70 856.31 L167.60 856.30 L168.30 859.17 L169.10 866.61 L169.90 873.73 L170.50 875.90 L171.50 872.81 L172.30 867.39 L173.10 861.30 L173.90 856.32 L174.50 854.40 L175.50 853.08 L176.30 852.18 L177.10 851.46 L177.90 850.92 L178.70 850.59 L179.40 850.50 L180.30 854.19 L181.10 861.54 L181.90 869.77 L182.70 876.06 L183.30 877.80 L184.30 874.90 L185.10 869.73 L185.90 863.74 L186.70 858.50 L187.20 856.30 L187.50 855.32 L188.30 852.74 L189.10 850.64 L190.10 849.50 L190.70 849.84 L191.50 851.16 L192.30 853.17 L193.10 855.50 L193.90 857.81 L194.70 859.75 L195.50 860.96 L196.00 861.20 L196.30 861.08 L197.10 859.77 L197.90 857.49 L198.70 854.80 L199.50 852.30 L200.30 850.56 L200.90 850.10 L201.90 850.33 L202.70 850.80 L203.50 851.45 L204.30 852.20 L205.10 853.00 L205.90 853.77 L206.70 854.45 L207.50 854.97 L208.30 855.26 L208.70 855.30 L209.10 855.25 L209.90 854.88 L210.70 854.26 L211.50 853.50 L212.30 852.72 L213.10 852.03 L213.90 851.55 L214.60 851.40 L215.50 851.54 L216.30 851.88 L217.10 852.35 L217.90 852.90 L218.70 853.50 L219.50 854.08 L220.30 854.60 L221.10 855.01 L221.90 855.25 L222.40 855.30 L222.70 855.29 L223.50 855.22 L224.30 855.08 L225.10 854.91 L225.90 854.73 L226.70 854.56 L227.50 854.45 L228.30 854.40 L229.10 854.54 L229.90 854.91 L230.70 855.47 L231.50 856.16 L232.30 856.94 L233.10 857.75 L233.90 858.54 L234.70 859.26 L235.50 859.86 L236.10 860.20 L237.10 860.65 L237.90 860.97 L238.70 861.26 L239.50 861.53 L240.30 861.79 L241.10 862.03 L241.90 862.26 L242.70 862.48 L243.50 862.71 L244.30 862.94 L245.10 863.18 L245.90 863.43 L246.70 863.70 L247.80 864.10 L248.30 864.29 L249.10 864.60 L249.90 864.92 L250.70 865.24 L251.50 865.57 L252.30 865.92 L253.10 866.29 L253.90 866.69 L254.70 867.12 L255.70 867.70 L256.30 868.17 L257.10 869.02 L257.90 869.92 L258.70 870.65 L259.60 871.00 L260.30 870.98 L261.10 870.90 L261.90 870.79 L262.70 870.65 L263.50 870.50 L264.30 870.35 L265.10 870.21 L265.90 870.10 L266.70 870.02 L267.40 870.00 L268.30 870.09 L269.10 870.29 L269.90 870.58 L270.70 870.93 L271.50 871.29 L272.30 871.65 L273.10 871.97 L273.90 872.22 L274.70 872.37 L275.20 872.40 L275.50 872.39 L276.30 872.29 L277.10 872.11 L277.90 871.86 L278.70 871.57 L279.50 871.27 L280.30 870.98 L281.10 870.72 L281.90 870.52 L282.70 870.41 L283.10 870.40 L283.50 870.43 L284.30 870.65 L285.10 871.05 L285.90 871.60 L286.70 872.25 L287.50 872.97 L288.30 873.72 L289.10 874.46 L289.90 875.16 L290.90 875.90 L291.50 876.29 L292.30 876.81 L293.10 877.34 L293.90 877.86 L294.70 878.37 L295.50 878.87 L296.30 879.37 L297.10 879.85 L297.90 880.32 L298.70 880.77 L299.50 881.20 L300.30 881.61 L300.70 881.80 L301.10 882.00 L301.90 882.40 L302.70 882.83 L303.50 883.26 L304.30 883.68 L305.10 884.09 L305.90 884.48 L306.70 884.83 L307.50 885.13 L308.30 885.38 L309.10 885.57 L309.90 885.67 L310.50 885.70 L311.50 885.68 L312.30 885.64 L313.10 885.57 L313.90 885.49 L314.70 885.39 L315.50 885.27 L316.30 885.14 L317.10 885.00 L317.90 884.85 L318.70 884.69 L319.50 884.53 L320.30 884.37 L321.10 884.20 L321.90 884.04 L322.70 883.88 L323.50 883.73 L324.30 883.59 L325.10 883.45 L326.10 883.30 L326.70 883.22 L327.50 883.11 L328.30 882.99 L329.10 882.89 L329.90 882.78 L330.70 882.67 L331.50 882.56 L332.30 882.45 L333.10 882.35 L333.90 882.24 L334.70 882.14 L335.50 882.04 L336.30 881.93 L337.10 881.83 L337.90 881.73 L338.70 881.63 L339.50 881.53 L340.30 881.44 L341.10 881.34 L341.90 881.24 L342.70 881.15 L343.50 881.05 L344.30 880.96 L345.10 880.87 L345.70 880.80 L346.70 880.69 L347.50 880.59 L348.30 880.50 L349.10 880.41 L349.90 880.32 L350.70 880.23 L351.50 880.13 L352.30 880.04 L353.10 879.95 L353.90 879.86 L354.70 879.78 L355.50 879.69 L356.30 879.60 L357.10 879.52 L357.90 879.44 L358.70 879.36 L359.50 879.28 L360.30 879.21 L361.10 879.13 L361.90 879.06 L362.70 879.00 L363.50 878.93 L364.30 878.87 L365.30 878.80 L365.90 878.76 L366.70 878.71 L367.50 878.66 L368.30 878.61 L369.10 878.56 L369.90 878.52 L370.70 878.47 L371.50 878.43 L372.30 878.39 L373.10 878.35 L373.90 878.31 L374.70 878.27 L375.50 878.23 L376.30 878.19 L377.10 878.16 L377.90 878.12 L378.70 878.08 L379.50 878.05 L380.30 878.01 L381.10 877.97 L381.90 877.94 L382.70 877.90 L383.50 877.86 L384.30 877.82 L384.80 877.80 L385.10 877.79 L385.90 877.75 L386.70 877.71 L387.50 877.68 L388.30 877.65 L389.10 877.62 L389.90 877.58 L390.70 877.55 L391.50 877.53 L392.30 877.50 L393.10 877.47 L393.90 877.44 L394.70 877.41 L395.50 877.37 L396.30 877.34 L397.10 877.31 L397.90 877.27 L398.70 877.24 L399.50 877.20 L400.30 877.15 L401.10 877.11 L401.90 877.06 L402.70 877.02 L403.50 876.96 L404.40 876.90 L405.10 876.85 L405.90 876.77 L406.70 876.69 L407.50 876.60 L408.30 876.50 L409.10 876.40 L409.90 876.28 L410.70 876.16 L411.50 876.03 L412.30 875.90 L413.10 875.76 L413.90 875.61 L414.70 875.46 L415.50 875.31 L416.30 875.15 L417.10 874.99 L417.90 874.82 L418.70 874.65 L419.50 874.48 L420.30 874.31 L421.10 874.14 L421.90 873.96 L422.70 873.79 L423.50 873.61 L424.00 873.50 L424.30 873.43 L425.10 873.25 L425.90 873.06 L426.70 872.86 L427.50 872.66 L428.30 872.44 L429.10 872.23 L429.90 872.00 L430.70 871.77 L431.50 871.54 L432.30 871.30 L433.10 871.05 L433.90 870.81 L434.70 870.55 L435.50 870.30 L436.30 870.05 L437.10 869.79 L437.90 869.53 L438.70 869.27 L439.50 869.00 L440.30 868.74 L441.10 868.48 L441.90 868.22 L442.70 867.96 L443.50 867.70 L444.30 867.43 L445.10 867.16 L445.90 866.87 L446.70 866.57 L447.50 866.27 L448.30 865.96 L449.10 865.64 L449.90 865.33 L450.70 865.01 L451.50 864.70 L452.30 864.39 L453.10 864.09 L453.90 863.80 L454.70 863.52 L455.50 863.25 L456.30 862.99 L457.10 862.75 L457.90 862.52 L458.70 862.32 L459.20 862.20 L459.50 862.13 L460.30 861.95 L461.10 861.76 L461.90 861.57 L462.70 861.38 L463.50 861.20 L464.30 861.02 L465.10 860.86 L465.90 860.71 L466.70 860.57 L467.50 860.45 L468.30 860.35 L469.10 860.27 L469.90 860.22 L470.90 860.20 L471.50 860.20 L472.30 860.20 L473.10 860.20 L473.90 860.20 L474.70 860.20 L475.50 860.20 L476.30 860.20 L477.10 860.20 L477.90 860.20 L478.70 860.20 L479.50 860.20 L480.30 860.20 L481.10 860.20 L481.90 860.20 L482.70 860.20 L483.50 860.25 L484.30 860.39 L485.10 860.62 L485.90 860.91 L486.70 861.25 L487.50 861.63 L488.60 862.20 L489.10 862.51 L489.90 863.20 L490.70 864.07 L491.50 865.08 L492.30 866.16 L493.10 867.27 L493.90 868.36 L494.40 869.00 L494.70 869.40 L495.50 870.63 L496.30 872.02 L497.10 873.44 L497.90 874.77 L498.70 875.87 L499.50 876.62 L500.30 876.90 L501.10 876.87 L501.90 876.77 L502.70 876.62 L503.50 876.42 L504.30 876.20 L505.10 875.95 L505.90 875.68 L506.70 875.42 L507.50 875.16 L508.30 874.92 L509.10 874.70 L509.90 874.52 L510.70 874.39 L511.50 874.31 L512.00 874.30 L512.30 874.31 L513.10 874.37 L513.90 874.50 L514.70 874.69 L515.50 874.92 L516.30 875.18 L517.10 875.45 L517.90 875.74 L518.70 876.03 L519.50 876.30 L520.30 876.55 L521.10 876.76 L521.80 876.90 L522.70 877.06 L523.50 877.21 L524.30 877.36 L525.10 877.50 L525.90 877.64 L526.70 877.77 L527.50 877.88 L528.30 877.99 L529.10 878.07 L529.90 878.14 L530.70 878.18 L531.60 878.20 L532.30 878.18 L533.10 878.12 L533.90 878.02 L534.70 877.89 L535.50 877.75 L536.30 877.59 L537.10 877.43 L537.90 877.28 L538.70 877.14 L539.50 877.03 L540.30 876.95 L541.40 876.90 L541.90 876.93 L542.70 877.08 L543.50 877.34 L544.30 877.70 L545.10 878.15 L545.90 878.67 L546.70 879.24 L547.50 879.84 L548.30 880.47 L549.10 881.10 L550.00 881.80 L550.70 882.38 L551.50 883.13 L552.30 883.97 L553.10 884.88 L553.90 885.83 L554.70 886.82 L555.50 887.82 L556.30 888.81 L557.10 889.78 L557.80 890.60 L558.70 891.63 L559.50 892.56 L560.30 893.50 L561.10 894.43 L561.90 895.36 L562.70 896.28 L563.70 897.40 L564.30 898.07 L565.10 898.97 L565.90 899.87 L566.70 900.76 L567.50 901.62 L568.30 902.45 L569.10 903.24 L569.60 903.70 L569.90 903.96 L570.70 904.59 L571.50 905.15 L572.30 905.67 L573.10 906.21 L573.90 906.81 L574.70 907.49 L575.40 908.20 L576.30 909.31 L577.10 910.51 L577.90 911.89 L578.70 913.44 L579.50 915.14 L580.30 917.00 L581.10 919.29 L581.90 922.13 L582.70 925.22 L583.50 928.28 L584.20 930.70 L585.10 933.94 L585.90 937.04 L586.70 939.82 L587.50 941.77 L588.20 942.40 L589.10 942.40 L589.90 942.40 L590.70 942.40 L591.50 942.40 L592.10 942.40 L593.10 940.21 L593.90 936.23 L594.70 931.45 L595.50 926.96 L596.00 924.80 L596.30 923.72 L597.10 920.85 L597.90 918.15 L598.70 915.76 L599.50 913.84 L599.90 913.10 L600.30 912.46 L601.10 911.28 L601.90 910.21 L602.70 909.26 L603.50 908.43 L604.30 907.74 L605.10 907.18 L605.80 906.80 L606.70 906.39 L607.50 906.04 L608.30 905.71 L609.10 905.41 L609.90 905.13 L610.70 904.89 L611.50 904.68 L612.30 904.52 L613.10 904.39 L613.90 904.32 L614.60 904.30 L615.50 904.37 L616.30 904.53 L617.10 904.76 L617.90 905.05 L618.70 905.37 L619.50 905.71 L620.30 906.05 L621.10 906.37 L621.90 906.65 L622.40 906.80 L622.70 906.88 L623.50 907.07 L624.30 907.23 L625.10 907.39 L625.90 907.55 L626.70 907.73 L627.50 907.94 L628.30 908.20 L629.10 908.63 L629.90 909.28 L630.70 910.02 L631.50 910.72 L632.30 911.25 L633.20 911.50 L633.90 911.26 L634.70 910.43 L635.50 909.10 L636.30 907.33 L637.10 905.20 L637.90 900.05 L639.00 891.50 L639.50 889.44 L640.30 886.65 L641.10 884.32 L641.90 882.32 L643.00 879.80 L643.50 878.68 L644.30 876.96 L645.10 875.34 L645.90 873.86 L646.70 872.53 L647.80 871.00 L648.30 870.40 L649.10 869.49 L649.90 868.63 L650.70 867.83 L651.50 867.08 L652.30 866.39 L653.10 865.76 L653.90 865.18 L654.70 864.67 L655.70 864.10 L656.30 863.79 L657.10 863.39 L657.90 863.01 L658.70 862.64 L659.50 862.31 L660.30 862.01 L661.10 861.74 L661.90 861.51 L662.70 861.33 L663.50 861.20 L664.30 861.10 L665.10 861.02 L665.90 860.94 L666.70 860.88 L667.50 860.82 L668.30 860.77 L669.10 860.73 L669.90 860.69 L670.70 860.65 L671.50 860.61 L672.30 860.57 L673.10 860.53 L673.90 860.48 L674.70 860.42 L675.50 860.36 L676.30 860.29 L677.20 860.20 L677.90 860.10 L678.70 859.95 L679.50 859.76 L680.30 859.55 L681.10 859.34 L681.90 859.14 L682.70 858.96 L683.50 858.82 L684.30 858.73 L685.00 858.70 L685.90 858.70 L686.70 858.71 L687.50 858.72 L688.30 858.73 L689.10 858.74 L689.90 858.76 L690.70 858.77 L691.50 858.79 L692.30 858.82 L693.10 858.84 L693.90 858.87 L694.80 858.90 L695.50 858.95 L696.30 859.05 L697.10 859.19 L697.90 859.36 L698.70 859.55 L699.50 859.74 L700.30 859.94 L701.10 860.13 L701.90 860.30 L702.70 860.44 L703.50 860.54 L704.60 860.60 L705.10 860.60 L705.90 860.57 L706.70 860.53 L707.50 860.48 L708.30 860.41 L709.10 860.34 L709.90 860.26 L710.70 860.17 L711.50 860.09 L712.30 860.02 L713.10 859.95 L713.90 859.89 L714.70 859.84 L715.50 859.81 L716.30 859.80 L717.10 859.81 L717.90 859.83 L718.70 859.86 L719.50 859.90 L720.30 859.96 L721.10 860.02 L721.90 860.08 L722.70 860.15 L723.50 860.23 L724.30 860.31 L725.10 860.39 L725.90 860.46 L726.70 860.54 L727.50 860.61 L728.30 860.68 L729.10 860.74 L730.00 860.80 L730.70 860.84 L731.50 860.89 L732.30 860.95 L733.10 861.00 L733.90 861.06 L734.70 861.11 L735.50 861.17 L736.30 861.22 L737.10 861.27 L737.90 861.32 L738.70 861.37 L739.50 861.41 L740.30 861.45 L741.10 861.49 L741.90 861.52 L742.70 861.55 L743.50 861.57 L744.30 861.59 L745.10 861.60 L745.70 861.60 L746.70 861.58 L747.50 861.53 L748.30 861.46 L749.10 861.38 L749.90 861.29 L750.70 861.19 L751.50 861.09 L752.30 861.00 L753.10 860.92 L753.90 860.86 L754.70 860.82 L755.50 860.80 L756.30 860.80 L757.10 860.80 L757.90 860.80 L758.70 860.80 L759.50 860.80 L760.30 860.80 L761.10 860.80 L761.90 860.80 L762.70 860.80 L763.50 860.80 L764.30 860.80 L765.30 860.80 L765.90 860.81 L766.70 860.86 L767.50 860.93 L768.30 861.04 L769.10 861.17 L769.90 861.33 L770.70 861.50 L771.50 861.69 L772.30 861.90 L773.10 862.11 L773.90 862.34 L774.70 862.56 L775.50 862.79 L776.30 863.01 L777.00 863.20 L777.90 863.46 L778.70 863.74 L779.50 864.03 L780.30 864.36 L781.10 864.70 L781.90 865.05 L782.70 865.40 L783.50 865.76 L784.30 866.11 L785.10 866.45 L785.90 866.77 L786.70 867.08 L787.50 867.35 L788.30 867.59 L788.70 867.70 L789.10 867.80 L789.90 868.01 L790.70 868.23 L791.50 868.44 L792.30 868.65 L793.10 868.85 L793.90 869.03 L794.70 869.19 L795.50 869.34 L796.30 869.45 L797.10 869.54 L797.90 869.59 L798.50 869.60 L799.50 869.60 L800.30 869.59 L801.10 869.58 L801.90 869.57 L802.70 869.56 L803.50 869.54 L804.30 869.52 L805.10 869.50 L805.90 869.48 L806.70 869.45 L807.50 869.43 L808.30 869.40 L809.10 869.36 L809.90 869.29 L810.70 869.19 L811.50 869.08 L812.30 868.95 L813.10 868.80 L813.90 868.66 L814.70 868.50 L815.50 868.35 L816.30 868.21 L817.10 868.07 L817.90 867.94 L818.70 867.84 L819.50 867.75 L820.10 867.70 L821.10 867.63 L821.90 867.58 L822.70 867.53 L823.50 867.48 L824.30 867.43 L825.10 867.38 L825.90 867.34 L826.70 867.30 L827.50 867.26 L828.30 867.22 L829.10 867.19 L829.90 867.16 L830.70 867.14 L831.50 867.12 L832.30 867.11 L833.10 867.10 L833.80 867.10 L834.70 867.14 L835.50 867.22 L836.30 867.35 L837.10 867.50 L837.90 867.68 L838.70 867.86 L839.50 868.05 L840.30 868.22 L841.10 868.37 L841.90 868.49 L842.70 868.57 L843.50 868.60 L844.30 868.59 L845.10 868.57 L845.90 868.54 L846.70 868.49 L847.50 868.43 L848.30 868.36 L849.10 868.28 L849.90 868.20 L850.70 868.11 L851.50 868.01 L852.30 867.91 L853.10 867.80 L853.90 867.69 L854.70 867.58 L855.30 867.50 L856.30 867.34 L857.10 867.18 L857.90 866.99 L858.70 866.79 L859.50 866.56 L860.30 866.33 L861.10 866.09 L861.90 865.85 L862.70 865.61 L863.50 865.37 L864.30 865.14 L865.10 864.93 L865.90 864.73 L867.00 864.50 L867.50 864.41 L868.30 864.26 L869.10 864.11 L869.90 863.96 L870.70 863.82 L871.50 863.68 L872.30 863.54 L873.10 863.41 L873.90 863.28 L874.70 863.15 L875.50 863.03 L876.30 862.91 L877.10 862.80 L877.90 862.70 L878.70 862.60 L879.50 862.50 L880.30 862.42 L881.10 862.34 L881.90 862.26 L882.70 862.20 L883.50 862.14 L884.30 862.08 L885.10 862.02 L885.90 861.96 L886.70 861.90 L887.50 861.84 L888.30 861.79 L889.10 861.74 L889.90 861.69 L890.70 861.64 L891.50 861.60 L892.30 861.56 L893.10 861.52 L893.90 861.49 L894.70 861.46 L895.50 861.44 L896.30 861.42 L897.10 861.41 L897.90 861.40 L898.30 861.40 L898.70 861.51 L899.50 862.03 L900.00 862.20 L900.30 862.20 L901.10 862.19 L901.90 862.18 L902.70 862.16 L903.50 862.13 L904.30 862.09 L905.10 862.05 L905.90 862.01 L906.70 861.96 L907.50 861.91 L908.30 861.86 L909.10 861.81 L909.90 861.76 L910.70 861.70 L911.50 861.65 L912.30 861.59 L913.10 861.54 L913.90 861.50 L914.70 861.45 L915.70 861.40 L916.30 861.37 L917.10 861.34 L917.90 861.32 L918.70 861.29 L919.50 861.27 L920.30 861.25 L921.10 861.23 L921.90 861.21 L922.70 861.19 L923.50 861.17 L924.30 861.14 L925.10 861.10 L925.90 861.06 L926.70 861.02 L927.50 860.97 L928.30 860.90 L929.40 860.80 L929.90 860.65 L930.70 860.06 L931.50 859.09 L932.30 857.81 L933.30 855.90 L933.90 854.11 L934.70 850.40 L935.50 845.98 L936.20 842.20 L937.10 837.22 L937.90 832.54 L938.70 828.28 L939.10 826.50 L939.50 824.84 L940.30 821.50 L941.10 818.66 L942.10 816.80 L942.70 816.49 L943.50 816.15 L944.30 815.92 L945.40 815.80 L945.90 816.67 L946.70 820.69 L947.50 826.03 L947.90 828.50 L948.30 831.16 L949.10 837.32 L949.90 841.20 L950.70 842.40 L951.50 843.10 L951.90 843.20 L952.30 842.77 L953.10 840.01 L953.90 836.33 L954.40 834.40 L954.70 833.38 L955.50 830.36 L956.30 828.01 L956.80 827.50 L957.10 827.53 L957.90 827.90 L958.70 828.60 L959.50 829.54 L960.30 830.62 L961.10 831.73 L961.60 832.40 L961.90 832.81 L962.70 834.03 L963.50 835.42 L964.30 836.91 L965.10 838.48 L965.90 840.05 L966.50 841.20 L967.50 843.18 L968.30 844.84 L969.10 846.52 L969.90 848.17 L970.70 849.74 L971.40 851.00 L972.30 852.57 L973.10 853.95 L973.90 855.22 L974.70 856.29 L975.30 856.90 L976.30 857.72 L977.10 858.30 L977.90 858.81 L978.70 859.24 L979.50 859.58 L980.20 859.80 L981.10 860.03 L981.90 860.22 L982.70 860.41 L983.50 860.58 L984.30 860.75 L985.10 860.91 L985.90 861.05 L986.70 861.19 L987.50 861.31 L988.30 861.42 L989.10 861.52 L989.90 861.60 L990.70 861.67 L991.50 861.73 L992.30 861.77 L993.10 861.79 L993.90 861.80 L994.70 861.74 L995.50 861.58 L996.30 861.35 L997.10 861.09 L997.90 860.81 L998.70 860.55 L999.50 860.35 L1000.30 860.22 L1000.80 860.20 L1001.10 860.20 L1001.90 860.26 L1002.70 860.37 L1003.50 860.53 L1004.30 860.73 L1005.10 860.97 L1005.90 861.23 L1006.70 861.53 L1007.50 861.84 L1008.30 862.16 L1009.10 862.49 L1009.60 862.70 L1009.90 862.82 L1010.70 863.16 L1011.50 863.52 L1012.30 863.94 L1013.10 864.44 L1013.90 865.05 L1014.70 865.79 L1015.50 866.70 L1016.30 868.41 L1017.10 871.27 L1017.90 874.91 L1018.40 877.40 L1018.70 879.10 L1019.50 885.02 L1020.30 891.94 L1020.90 897.00 L1021.90 906.13 L1022.70 913.10 L1023.30 916.60 L1024.30 920.33 L1025.10 922.64 L1026.20 924.00 L1026.70 923.72 L1027.50 922.29 L1028.30 919.93 L1029.20 916.60 L1029.90 911.67 L1030.70 903.45 L1031.50 897.00 L1032.30 893.29 L1033.10 890.14 L1033.90 887.61 L1035.00 885.20 L1035.50 884.45 L1036.30 883.42 L1037.10 882.56 L1037.90 881.83 L1038.70 881.18 L1039.50 880.55 L1040.30 879.92 L1040.90 879.40 L1041.90 878.51 L1042.70 877.81 L1043.50 877.13 L1044.30 876.47 L1045.10 875.82 L1045.90 875.19 L1046.80 874.50 L1047.50 873.96 L1048.30 873.31 L1049.10 872.65 L1049.90 872.00 L1050.70 871.36 L1051.50 870.77 L1052.30 870.24 L1053.10 869.78 L1053.90 869.42 L1054.60 869.20 L1055.50 869.01 L1056.30 868.88 L1057.10 868.78 L1057.90 868.70 L1058.70 868.62 L1059.50 868.54 L1060.30 868.44 L1061.10 868.31 L1061.90 868.14 L1062.40 868.00 L1062.70 867.85 L1063.50 866.96 L1064.30 865.64 L1065.10 864.24 L1065.90 863.15 L1066.70 862.70 L1067.50 862.92 L1068.30 863.48 L1069.10 864.26 L1069.90 865.11 L1070.70 865.89 L1071.50 866.47 L1072.20 866.70 L1073.10 866.78 L1073.90 866.84 L1074.70 866.88 L1075.50 866.91 L1076.30 866.94 L1077.10 866.96 L1077.90 866.98 L1078.70 867.01 L1079.50 867.04 L1080.30 867.08 L1081.10 867.13 L1082.00 867.20 L1082.70 867.32 L1083.50 867.58 L1084.30 867.93 L1085.10 868.33 L1085.90 868.73 L1086.70 869.10 L1087.50 869.39 L1088.30 869.57 L1088.80 869.60 L1089.10 869.59 L1089.90 869.49 L1090.70 869.29 L1091.50 869.03 L1092.30 868.72 L1093.10 868.41 L1093.90 868.10 L1094.70 867.84 L1095.70 867.60 L1096.30 867.50 L1097.10 867.37 L1097.90 867.24 L1098.70 867.11 L1099.50 867.00 L1100.30 866.90 L1101.10 866.82 L1101.90 866.75 L1102.70 866.71 L1103.50 866.70 L1104.30 866.78 L1105.10 867.01 L1105.90 867.34 L1106.70 867.74 L1107.50 868.18 L1108.30 868.61 L1109.10 869.01 L1109.90 869.33 L1110.70 869.54 L1111.40 869.60 L1112.30 869.51 L1113.10 869.31 L1113.90 869.02 L1114.70 868.67 L1115.50 868.31 L1116.30 867.95 L1117.10 867.63 L1117.90 867.38 L1118.70 867.23 L1119.20 867.20 L1119.50 867.20 L1120.30 867.26 L1121.10 867.38 L1121.90 867.55 L1122.70 867.75 L1123.50 867.99 L1124.30 868.26 L1125.10 868.53 L1125.90 868.82 L1127.00 869.20 L1127.50 869.40 L1128.30 869.84 L1129.10 870.34 L1129.90 870.83 L1130.70 871.23 L1131.50 871.47 L1131.90 871.50 L1132.30 871.48 L1133.10 871.35 L1133.90 871.12 L1134.70 870.81 L1135.50 870.44 L1136.30 870.05 L1137.10 869.66 L1137.90 869.29 L1138.70 868.98 L1139.50 868.75 L1140.30 868.62 L1140.70 868.60 L1141.10 868.61 L1141.90 868.65 L1142.70 868.74 L1143.50 868.87 L1144.30 869.03 L1145.10 869.22 L1145.90 869.43 L1146.70 869.67 L1147.50 869.92 L1148.30 870.19 L1149.10 870.46 L1149.50 870.60 L1149.90 870.77 L1150.70 871.28 L1151.50 871.95 L1152.30 872.67 L1153.10 873.38 L1153.90 873.97 L1154.70 874.37 L1155.40 874.50 L1156.30 874.21 L1157.10 873.59 L1157.90 872.76 L1158.70 871.87 L1159.50 871.05 L1160.00 870.65 L1160.30 870.45 L1161.10 870.04 L1161.90 869.70 L1162.70 869.37 L1163.50 868.94 L1164.30 868.33 L1164.89 867.71 L1165.90 863.49 L1166.85 858.90 L1167.50 857.20 L1168.30 855.25 L1169.10 853.63 L1169.90 852.51 L1170.76 852.05 L1171.50 852.42 L1172.30 853.53 L1173.10 855.13 L1173.90 857.02 L1174.68 858.90 L1175.50 861.85 L1176.30 864.75 L1176.63 865.26 L1177.39 865.55 L1177.90 868.82 L1178.59 873.68 L1179.79 866.45 L1180.55 866.73 L1181.10 866.63 L1181.90 866.18 L1182.70 865.55 L1183.50 864.91 L1184.30 864.43 L1184.95 864.29 L1185.90 864.29 L1186.70 864.29 L1187.50 864.29 L1188.30 864.29 L1189.10 864.29 L1189.90 864.29 L1190.33 864.29 L1190.70 864.31 L1191.50 864.43 L1192.30 864.67 L1193.10 864.97 L1193.90 865.31 L1194.70 865.67 L1195.50 866.00 L1196.20 866.24 L1197.10 866.50 L1197.90 866.70 L1198.70 866.89 L1199.50 867.07 L1200.30 867.27 L1201.10 867.49 L1201.90 867.75 L1202.70 868.05 L1203.05 868.20 L1203.50 868.41 L1204.30 868.89 L1205.10 869.55 L1205.65 870.14 L1206.70 873.32 L1207.50 876.05 L1207.95 876.61 L1208.30 876.17 L1209.10 872.97 L1209.90 869.46 L1210.25 868.68 L1210.88 868.20 L1211.50 868.20 L1212.30 868.20 L1213.10 868.20 L1213.90 868.20 L1214.70 868.20 L1215.77 868.20 L1216.30 868.25 L1217.10 868.48 L1217.90 868.88 L1218.70 869.41 L1219.50 870.04 L1220.09 870.55 L1221.10 872.48 L1221.90 874.89 L1222.70 877.32 L1223.50 879.09 L1224.09 879.55 L1225.10 878.38 L1225.90 876.35 L1226.70 874.06 L1227.50 872.17 L1228.09 871.42 L1229.10 870.81 L1229.90 870.38 L1230.70 870.01 L1231.50 869.70 L1232.30 869.46 L1233.10 869.29 L1233.90 869.19 L1234.36 869.18 L1234.70 869.18 L1235.50 869.20 L1236.30 869.23 L1237.10 869.29 L1237.90 869.36 L1238.70 869.46 L1239.69 869.62 L1240.30 870.44 L1241.10 872.67 L1242.19 874.66 L1242.70 873.89 L1243.50 870.72 L1244.30 867.45 L1244.69 866.60 L1245.10 866.14 L1245.90 865.34 L1246.70 864.73 L1247.50 864.37 L1248.06 864.29 L1249.10 864.29 L1249.90 864.29 L1250.70 864.29 L1251.50 864.29 L1252.30 864.29 L1253.22 864.29 L1253.90 874.02 L1254.42 880.53 L1255.62 863.23 L1256.30 862.29 L1257.10 861.38 L1257.90 860.67 L1258.70 860.15 L1259.50 859.77 L1260.30 859.54 L1261.10 859.42 L1261.76 859.39 L1262.70 859.46 L1263.50 859.60 L1264.30 859.78 L1265.10 859.98 L1265.90 860.16 L1266.70 860.30 L1267.63 860.37 L1268.39 860.09 L1269.10 872.47 L1269.59 879.55 L1269.90 876.23 L1270.79 859.19 L1271.50 858.62 L1272.30 858.13 L1273.10 857.80 L1273.90 857.58 L1274.70 857.47 L1275.46 857.44 L1276.30 857.55 L1277.10 857.85 L1278.06 858.48 L1278.70 863.09 L1279.50 872.15 L1279.86 873.68 L1280.30 871.51 L1281.10 862.36 L1281.66 858.52 L1282.70 857.37 L1283.50 856.80 L1284.30 856.51 L1284.76 856.46 L1285.10 856.46 L1285.90 856.46 L1286.70 856.46 L1287.50 856.46 L1288.30 856.46 L1289.10 856.46 L1290.14 856.46 L1290.70 856.48 L1291.50 856.59 L1292.30 856.77 L1293.10 857.02 L1293.90 857.33 L1294.70 857.70 L1295.50 858.12 L1296.01 858.41 L1297.10 859.34 L1297.90 860.42 L1298.70 861.88 L1299.50 863.74 L1300.07 865.32 L1301.10 873.91 L1301.90 881.72 L1302.37 883.46 L1302.70 882.17 L1303.50 872.11 L1304.30 861.54 L1304.67 859.67 L1305.10 859.33 L1305.90 858.78 L1306.70 858.34 L1307.50 857.99 L1308.30 857.74 L1309.10 857.57 L1309.90 857.47 L1310.68 857.44 L1311.50 857.44 L1312.30 857.44 L1313.10 857.44 L1314.08 857.44 L1314.70 866.01 L1315.58 880.53 L1316.30 869.39 L1317.08 856.09 L1317.90 854.73 L1318.70 853.81 L1319.50 853.26 L1320.47 853.03 L1321.10 853.27 L1321.90 854.15 L1322.70 855.48 L1323.50 857.08 L1324.38 858.90 L1325.10 860.61 L1325.90 862.93 L1326.34 864.29 L1326.70 865.32 L1327.30 867.60 L1328.30 881.39 L1328.80 890.10 L1329.10 896.08 L1329.50 901.40 L1329.90 901.21 L1330.70 899.95 L1331.50 898.14 L1332.60 896.10 L1333.10 895.53 L1333.90 894.64 L1334.70 893.86 L1335.50 893.31 L1336.30 893.10 L1337.10 902.23 L1337.80 912.60 L1338.70 919.62 L1339.50 924.17 L1340.10 925.40 L1341.10 920.68 L1341.90 911.25 L1342.30 905.10 L1342.70 889.37 L1343.10 875.10 L1343.50 871.82 L1344.30 867.28 L1345.30 865.30 L1345.90 866.38 L1346.70 870.48 L1347.50 876.34 L1348.30 882.60 L1349.10 891.90 L1349.90 901.27 L1350.30 902.90 L1350.70 901.59 L1351.50 893.15 L1352.30 881.53 L1352.80 875.10 L1353.10 871.33 L1353.90 860.11 L1354.60 855.30 L1355.50 856.39 L1356.30 858.88 L1357.10 862.39 L1358.10 867.60 L1358.70 871.79 L1359.50 879.87 L1360.30 890.10 L1361.10 906.97 L1361.80 920.10 L1362.70 926.59 L1363.50 930.68 L1364.10 935.10 L1365.10 949.54 L1365.60 957.70 L1365.90 962.10 L1366.70 973.74 L1367.10 980.20 L1367.50 987.59 L1368.60 1010.20 L1369.10 1020.28 L1370.10 1040.20 L1370.70 1050.18 L1371.30 1062.50 L1371.90 1088.00 L1372.30 1088.88 L1373.10 1089.64 L1373.90 1090.06 L1374.60 1091.10 L1375.50 1103.15 L1376.10 1115.10 L1377.10 1134.85 L1377.60 1145.10 L1377.90 1151.18 L1378.70 1167.47 L1379.10 1175.10 L1379.50 1182.22 L1380.30 1195.61 L1380.90 1205.20 L1381.90 1221.32 L1382.90 1235.20 L1383.50 1241.85 L1384.30 1249.22 L1384.70 1251.70 L1385.10 1253.48 L1385.90 1256.25 L1386.70 1258.38 L1387.50 1260.42 L1388.10 1262.20 L1389.10 1266.38 L1389.90 1269.95 L1390.70 1272.34 L1391.10 1272.70 L1391.50 1272.14 L1392.30 1268.09 L1393.10 1261.14 L1394.10 1250.20 L1394.70 1240.37 L1395.60 1220.20 L1396.30 1203.22 L1396.80 1190.20 L1397.10 1181.73 L1397.90 1160.10 L1398.70 1145.05 L1399.40 1137.60 L1400.30 1135.56 L1401.10 1134.45 L1401.60 1133.10 L1401.90 1131.37 L1402.70 1121.74 L1403.10 1115.10 L1403.50 1103.30 L1403.90 1092.60 L1404.30 1088.33 L1405.40 1082.00 L1405.90 1081.03 L1406.70 1080.06 L1407.50 1079.43 L1408.30 1078.72 L1409.10 1077.50 L1409.90 1074.38 L1410.70 1069.94 L1411.40 1067.00 L1412.30 1064.62 L1413.10 1062.72 L1413.90 1061.25 L1414.70 1060.41 L1415.10 1060.30 L1415.50 1060.45 L1416.30 1061.59 L1417.10 1063.60 L1417.90 1066.24 L1418.90 1070.00 L1419.50 1073.17 L1420.30 1079.04 L1421.10 1085.00 L1421.90 1090.45 L1422.70 1095.81 L1423.40 1100.10 L1424.30 1105.15 L1425.10 1109.35 L1425.90 1113.09 L1426.40 1115.10 L1426.70 1116.28 L1427.50 1119.48 L1428.60 1121.80 L1429.10 1121.49 L1429.90 1119.83 L1430.70 1116.97 L1431.70 1112.10 L1432.30 1106.07 L1433.20 1092.60 L1433.90 1081.31 L1434.70 1070.00 L1435.50 1062.94 L1436.20 1059.50 L1437.10 1058.39 L1437.90 1057.94 L1438.70 1057.29 L1439.20 1056.50 L1439.50 1055.29 L1440.40 1046.20 L1441.00 1032.70 L1442.20 1020.70 L1442.70 1017.90 L1443.50 1014.65 L1444.40 1010.20 L1445.10 1003.57 L1445.90 995.20 L1446.70 987.99 L1447.40 984.70 L1448.30 986.61 L1449.10 990.39 L1449.90 994.54 L1450.70 997.56 L1451.20 998.20 L1451.50 995.11 L1452.40 965.20 L1453.00 935.10 L1453.90 905.10 L1454.90 875.10 L1455.50 868.27 L1456.30 861.37 L1457.10 857.60 L1457.50 857.10 L1457.90 857.76 L1458.70 862.20 L1459.50 868.98 L1460.20 875.10 L1461.10 885.87 L1461.90 895.36 L1462.40 897.60 L1462.70 897.16 L1463.50 892.66 L1464.30 885.86 L1464.70 882.60 L1465.10 878.78 L1465.90 869.89 L1466.50 866.80 L1467.50 868.01 L1468.30 870.34 L1469.10 873.42 L1469.50 875.10 L1469.90 877.51 L1470.70 884.63 L1471.40 890.10 L1472.30 895.24 L1473.10 898.81 L1473.70 899.80 L1474.70 897.70 L1475.50 894.33 L1476.30 891.14 L1476.70 890.10 L1477.10 889.34 L1477.90 887.93 L1478.90 887.10 L1479.50 888.79 L1480.30 895.12 L1481.20 905.10 L1481.90 916.22 L1482.70 935.10 L1483.50 965.20 L1484.20 986.20 L1485.10 983.28 L1485.90 978.11 L1486.70 973.70 L1487.20 972.70 L1487.50 973.75 L1488.30 983.22 L1489.10 993.40 L1489.50 995.20 L1489.90 994.98 L1490.70 993.62 L1491.50 991.87 L1492.50 990.70 L1493.10 995.90 L1494.00 1010.20 L1494.70 1017.82 L1495.50 1025.81 L1496.20 1032.70 L1497.10 1040.65 L1497.90 1047.96 L1498.50 1055.30 L1499.20 1070.00 L1499.50 1076.12 L1500.30 1092.12 L1500.70 1100.10 L1501.10 1108.33 L1502.20 1130.10 L1502.70 1139.04 L1503.70 1152.60 L1504.30 1156.08 L1505.20 1158.60 L1505.90 1156.90 L1506.70 1151.83 L1507.50 1145.10 L1508.30 1133.12 L1509.00 1122.60 L1509.90 1114.58 L1510.70 1109.39 L1511.20 1107.60 L1511.50 1107.03 L1512.30 1106.13 L1513.10 1105.30 L1513.50 1104.60 L1513.90 1103.00 L1515.00 1097.10 L1515.50 1096.02 L1516.30 1094.74 L1516.90 1094.40 L1517.90 1097.26 L1518.70 1102.20 L1519.50 1107.60 L1520.30 1115.05 L1521.10 1123.06 L1521.70 1125.60 L1522.70 1125.35 L1523.50 1124.82 L1524.30 1124.00 L1525.10 1122.94 L1526.20 1121.10 L1526.70 1119.25 L1527.50 1113.92 L1528.50 1107.60 L1529.10 1105.02 L1529.90 1101.92 L1530.80 1100.10 L1531.50 1099.78 L1532.30 1099.51 L1533.10 1099.35 L1533.80 1099.30 L1534.70 1101.71 L1535.50 1105.66 L1536.00 1107.60 L1536.30 1108.48 L1537.10 1110.88 L1537.90 1112.55 L1538.30 1112.80 L1538.70 1112.33 L1539.50 1108.77 L1540.50 1100.10 L1541.30 1077.50 L1541.90 1072.39 L1542.70 1067.88 L1543.50 1066.30 L1544.30 1066.99 L1545.10 1068.87 L1545.90 1071.60 L1546.70 1074.87 L1547.30 1077.50 L1548.30 1085.77 L1548.80 1088.00 L1549.10 1087.93 L1549.90 1087.09 L1550.70 1085.41 L1551.80 1082.00 L1552.30 1078.55 L1553.10 1068.84 L1553.60 1062.50 L1553.90 1058.99 L1554.80 1047.70 L1555.50 1037.03 L1556.30 1025.20 L1557.10 1016.30 L1557.90 1008.52 L1558.50 1002.70 L1559.50 992.42 L1560.30 984.53 L1560.80 980.20 L1561.10 977.82 L1561.90 971.90 L1563.00 965.20 L1563.50 962.84 L1564.30 959.63 L1565.10 956.72 L1566.00 953.20 L1566.70 949.65 L1567.50 945.35 L1568.30 942.60 L1569.10 941.35 L1569.90 940.36 L1570.70 939.75 L1571.30 939.60 L1572.30 940.55 L1573.10 942.14 L1573.90 943.77 L1575.00 944.90 L1575.50 943.93 L1576.30 939.40 L1577.10 933.31 L1578.00 927.60 L1578.70 925.02 L1579.50 922.36 L1580.00 920.10 L1580.30 918.07 L1581.10 909.89 L1581.90 901.00 L1582.30 897.60 L1582.70 894.79 L1583.50 889.60 L1584.50 885.60 L1585.10 884.69 L1585.90 883.93 L1586.70 883.43 L1587.50 882.94 L1588.30 882.19 L1589.00 881.10 L1589.90 874.79 L1590.70 866.60 L1591.30 863.10 L1592.30 861.24 L1593.10 860.16 L1593.90 859.49 L1594.60 859.30 L1595.50 860.02 L1596.30 861.72 L1597.10 864.19 L1598.00 867.60 L1598.70 872.69 L1599.50 881.66 L1600.30 890.10 L1601.10 897.00 L1601.90 903.62 L1602.70 909.32 L1603.30 912.60 L1604.30 916.27 L1605.10 918.41 L1605.90 920.53 L1607.00 924.60 L1607.50 927.34 L1608.30 933.15 L1609.30 942.60 L1609.90 951.21 L1610.80 965.20 L1611.50 973.52 L1612.30 978.70 L1613.10 978.28 L1613.90 977.18 L1614.70 975.62 L1615.50 973.83 L1616.00 972.70 L1616.30 971.85 L1617.10 968.53 L1617.90 965.67 L1618.30 965.20 L1618.70 965.88 L1619.50 970.60 L1620.50 980.20 L1621.10 990.72 L1622.00 1010.20 L1622.70 1020.44 L1623.50 1030.53 L1624.30 1040.20 L1625.10 1049.99 L1625.80 1058.00 L1626.70 1068.41 L1627.30 1073.00 L1628.30 1076.26 L1628.80 1076.80 L1629.10 1076.74 L1629.90 1076.08 L1630.70 1074.92 L1631.80 1073.00 L1632.30 1071.74 L1633.10 1068.99 L1634.10 1067.00 L1634.70 1067.15 L1635.50 1067.74 L1636.30 1068.55 L1637.10 1069.40 L1637.80 1070.00 L1638.70 1070.48 L1639.50 1070.79 L1640.30 1071.15 L1641.10 1071.74 L1641.60 1072.30 L1641.90 1073.43 L1642.70 1080.89 L1643.10 1085.00 L1643.50 1088.92 L1644.60 1100.10 L1645.10 1104.70 L1645.90 1111.79 L1646.80 1118.10 L1647.50 1122.05 L1648.60 1125.60 L1649.10 1124.86 L1649.90 1121.28 L1650.70 1116.10 L1651.30 1112.10 L1652.30 1103.04 L1653.10 1095.45 L1653.60 1092.60 L1653.90 1091.62 L1654.70 1089.38 L1655.80 1088.00 L1656.30 1088.41 L1657.10 1090.44 L1657.90 1093.47 L1658.80 1097.10 L1659.50 1100.18 L1660.30 1104.38 L1661.10 1108.71 L1661.80 1112.10 L1662.70 1116.26 L1663.50 1119.56 L1664.10 1121.10 L1665.10 1122.58 L1665.90 1123.42 L1666.80 1123.80 L1667.50 1123.46 L1668.30 1122.35 L1669.10 1120.67 L1670.10 1118.10 L1670.70 1115.47 L1671.50 1110.35 L1672.30 1106.10 L1673.10 1103.43 L1673.90 1101.29 L1674.60 1100.10 L1675.50 1099.32 L1676.30 1098.91 L1677.10 1098.59 L1677.90 1098.19 L1678.70 1097.56 L1679.10 1097.10 L1679.50 1096.07 L1680.30 1091.84 L1681.40 1085.00 L1681.90 1082.24 L1682.70 1077.48 L1683.50 1073.14 L1684.40 1070.00 L1685.10 1068.68 L1685.90 1067.41 L1686.70 1066.56 L1687.40 1066.30 L1688.30 1066.30 L1689.10 1066.30 L1689.90 1066.30 L1690.40 1066.30 L1690.70 1066.50 L1691.50 1068.70 L1692.30 1072.59 L1693.40 1079.00 L1693.90 1083.09 L1694.90 1091.10 L1695.50 1092.70 L1696.30 1094.12 L1696.80 1094.40 L1697.10 1094.34 L1697.90 1093.61 L1698.70 1092.12 L1699.50 1089.98 L1700.10 1088.00 L1701.10 1077.93 L1701.60 1073.00 L1701.90 1071.19 L1702.70 1067.26 L1703.50 1064.06 L1703.90 1062.50 L1704.30 1060.96 L1705.10 1058.16 L1705.90 1055.49 L1706.90 1052.00 L1707.50 1049.76 L1708.30 1046.74 L1709.10 1043.60 L1709.90 1040.29 L1710.60 1037.20 L1711.50 1032.10 L1712.30 1027.45 L1712.90 1025.20 L1713.90 1023.03 L1714.70 1021.61 L1715.50 1020.57 L1716.60 1020.00 L1717.10 1020.13 L1717.90 1020.80 L1718.70 1021.85 L1719.50 1023.08 L1720.30 1024.26 L1721.10 1025.20 L1721.90 1025.83 L1722.70 1026.32 L1723.50 1026.83 L1724.30 1027.50 L1724.90 1028.20 L1725.90 1030.91 L1726.70 1034.41 L1727.50 1038.32 L1727.90 1040.20 L1728.30 1042.12 L1729.10 1046.37 L1730.20 1052.00 L1730.70 1054.33 L1731.50 1058.09 L1732.30 1061.42 L1733.20 1064.00 L1733.90 1065.13 L1734.70 1066.08 L1735.50 1066.86 L1736.30 1067.70 L1736.90 1068.50 L1737.90 1070.06 L1738.70 1071.51 L1739.50 1073.36 L1739.90 1074.50 L1740.30 1076.25 L1741.10 1081.64 L1742.20 1088.00 L1742.70 1089.46 L1743.50 1091.48 L1744.30 1092.72 L1744.70 1092.90 L1745.10 1092.76 L1745.90 1091.74 L1746.70 1089.97 L1747.40 1088.00 L1748.30 1082.79 L1749.10 1075.59 L1749.70 1070.00 L1750.70 1061.52 L1751.20 1055.00 L1751.50 1045.85 L1751.90 1032.70 L1752.30 1026.77 L1753.10 1018.19 L1754.20 1010.20 L1754.70 1007.11 L1755.50 1002.98 L1756.30 999.38 L1757.20 995.20 L1757.90 991.83 L1758.70 988.07 L1759.50 984.11 L1760.20 980.20 L1761.10 973.76 L1761.90 967.16 L1762.70 960.91 L1763.20 957.70 L1763.50 956.01 L1764.30 951.68 L1765.10 947.87 L1766.20 944.10 L1766.70 942.99 L1767.50 941.54 L1768.30 940.37 L1769.10 939.28 L1769.90 938.10 L1770.70 936.95 L1771.50 935.92 L1772.30 934.81 L1773.10 933.43 L1773.70 932.10 L1774.70 927.32 L1775.50 922.90 L1775.90 921.60 L1776.30 920.82 L1777.10 919.41 L1777.90 918.27 L1778.70 917.48 L1779.70 917.10 L1780.30 917.41 L1781.10 918.45 L1781.90 919.57 L1782.70 920.10 L1783.50 920.06 L1784.30 919.95 L1785.10 919.77 L1785.90 919.52 L1786.70 919.21 L1787.50 918.85 L1788.00 918.60 L1788.30 918.36 L1789.10 917.03 L1789.90 915.09 L1790.70 913.05 L1791.70 911.10 L1792.30 910.28 L1793.10 909.22 L1793.90 908.42 L1794.70 908.10 L1795.50 908.35 L1796.30 908.97 L1797.10 909.75 L1797.90 910.49 L1798.70 911.00 L1799.20 911.10 L1799.50 911.02 L1800.30 910.07 L1801.10 908.31 L1802.20 905.10 L1802.70 902.71 L1803.50 896.84 L1804.50 890.10 L1805.10 887.27 L1805.90 883.56 L1806.70 880.48 L1807.50 878.66 L1807.90 878.40 L1808.30 878.71 L1809.10 880.97 L1809.90 884.88 L1810.70 889.80 L1811.20 893.10 L1811.50 895.49 L1812.30 904.71 L1813.10 915.33 L1813.50 920.10 L1813.90 924.55 L1814.70 933.42 L1815.70 942.60 L1816.30 946.78 L1817.10 951.72 L1817.90 955.88 L1818.70 959.20 L1819.50 962.11 L1820.00 962.90 L1820.30 962.69 L1821.10 960.41 L1821.90 956.46 L1823.00 950.20 L1823.50 947.20 L1824.30 941.43 L1825.10 934.98 L1826.00 927.60 L1826.70 921.82 L1827.50 914.91 L1828.30 907.96 L1829.00 902.10 L1829.90 894.11 L1830.70 887.47 L1831.30 884.10 L1832.30 880.65 L1833.10 878.55 L1833.90 877.08 L1834.30 876.60 L1834.70 876.22 L1835.50 875.57 L1836.30 875.04 L1837.10 874.60 L1837.90 874.23 L1838.70 873.91 L1839.50 873.60 L1840.30 873.29 L1841.10 872.98 L1841.90 872.68 L1842.70 872.43 L1843.50 872.23 L1844.30 872.12 L1844.80 872.10 L1845.10 872.22 L1845.90 873.48 L1846.70 875.55 L1847.50 877.75 L1848.50 879.60 L1849.10 880.16 L1849.90 880.79 L1850.80 881.10 L1851.50 879.77 L1852.30 875.94 L1853.10 871.20 L1853.80 867.60 L1854.70 863.69 L1855.50 860.26 L1856.30 857.20 L1856.80 855.60 L1857.10 854.73 L1857.90 852.45 L1858.70 850.47 L1859.80 848.80 L1860.30 848.43 L1861.10 847.92 L1861.90 847.54 L1862.70 847.33 L1863.10 847.30 L1863.50 847.41 L1864.30 848.21 L1865.10 849.66 L1865.90 851.59 L1866.70 853.82 L1867.30 855.60 L1868.30 860.18 L1869.10 865.15 L1869.90 870.05 L1870.30 872.10 L1870.70 873.83 L1871.50 876.74 L1872.30 879.38 L1873.10 882.28 L1874.10 887.10 L1874.70 891.67 L1875.50 899.85 L1876.30 908.10 L1877.10 915.17 L1877.90 921.96 L1878.70 929.14 L1879.30 935.20 L1880.30 947.27 L1881.10 958.18 L1881.60 965.20 L1881.90 969.75 L1882.70 982.69 L1883.10 987.70 L1883.50 991.84 L1884.60 999.00 L1885.10 998.54 L1885.90 996.06 L1886.70 991.81 L1887.30 987.70 L1888.30 968.47 L1888.80 957.70 L1889.10 952.25 L1889.90 938.60 L1890.30 935.20 L1890.70 933.82 L1891.50 931.69 L1892.30 930.51 L1892.80 930.30 L1893.10 930.66 L1893.90 934.30 L1894.70 939.92 L1895.10 942.70 L1895.50 946.21 L1896.60 954.70 L1897.10 954.10 L1897.90 951.30 L1898.70 947.49 L1899.50 944.14 L1900.30 942.70 L1901.10 943.99 L1901.90 947.04 L1902.60 950.20 L1903.50 955.62 L1904.30 961.63 L1904.80 965.20 L1905.10 967.21 L1905.90 972.62 L1906.70 977.80 L1907.10 980.20 L1907.50 982.60 L1908.30 987.41 L1909.40 992.20 L1909.90 993.46 L1910.70 995.31 L1911.50 996.82 L1912.30 997.83 L1913.10 998.20 L1913.90 997.86 L1914.70 996.92 L1915.50 995.50 L1916.30 993.71 L1916.90 992.20 L1917.90 987.77 L1918.70 982.29 L1919.50 975.94 L1919.90 972.70 L1920.30 969.18 L1921.10 960.91 L1922.10 950.20 L1922.70 944.41 L1923.50 936.89 L1924.40 927.60 L1925.10 917.60 L1925.90 908.10 L1926.70 903.97 L1927.50 900.90 L1928.30 898.74 L1928.90 897.60 L1929.90 896.09 L1930.70 895.07 L1931.50 894.32 L1932.60 893.90 L1933.10 894.00 L1933.90 894.50 L1934.70 895.17 L1935.50 895.79 L1936.40 896.10 L1937.10 895.43 L1937.90 893.32 L1938.70 890.23 L1939.40 887.10 L1940.30 879.86 L1940.90 875.10 L1941.90 870.50 L1942.70 867.62 L1943.50 864.74 L1943.90 863.10 L1944.30 861.08 L1945.10 856.36 L1946.10 852.60 L1946.70 852.04 L1947.50 851.48 L1948.30 851.16 L1948.80 851.10 L1949.10 851.23 L1949.90 852.68 L1950.70 855.48 L1951.50 859.26 L1952.20 863.10 L1953.10 872.00 L1953.90 883.28 L1954.40 890.10 L1954.70 893.91 L1955.50 904.24 L1956.30 914.77 L1956.70 920.10 L1957.10 925.51 L1957.90 936.53 L1958.90 950.20 L1959.50 957.78 L1960.30 967.53 L1961.20 980.20 L1961.90 993.40 L1962.70 1010.20 L1963.50 1025.93 L1964.20 1040.30 L1965.10 1063.17 L1965.90 1083.47 L1966.40 1092.60 L1966.70 1096.59 L1967.50 1105.55 L1968.30 1112.38 L1968.70 1115.10 L1969.10 1117.72 L1970.20 1122.30 L1970.70 1121.20 L1971.50 1115.94 L1972.40 1107.60 L1973.10 1098.51 L1973.90 1085.10 L1974.70 1070.49 L1975.50 1054.44 L1976.20 1040.30 L1977.10 1021.19 L1977.70 1010.20 L1978.70 996.03 L1979.20 992.20 L1979.50 991.16 L1980.30 989.07 L1981.10 987.67 L1982.20 986.20 L1982.70 985.65 L1983.50 985.06 L1984.30 984.44 L1985.20 983.20 L1985.90 978.09 L1986.70 966.99 L1987.40 957.70 L1988.30 947.22 L1988.90 942.70 L1989.90 939.92 L1990.70 938.50 L1991.50 937.33 L1991.90 936.70 L1992.30 936.08 L1993.10 935.07 L1993.90 934.08 L1995.00 932.20 L1995.50 930.62 L1996.30 926.74 L1997.10 922.37 L1998.00 918.60 L1998.70 916.88 L1999.50 915.39 L2000.30 914.06 L2001.10 912.55 L2001.70 911.10 L2002.70 907.26 L2003.50 903.78 L2004.00 902.10 L2004.30 901.29 L2005.10 899.21 L2005.90 897.46 L2007.00 896.10 L2007.50 895.86 L2008.30 895.53 L2009.10 895.26 L2009.90 895.07 L2010.70 894.94 L2011.50 894.90 L2012.30 896.69 L2013.10 901.28 L2013.90 907.53 L2014.50 912.60 L2015.50 925.77 L2016.30 938.05 L2016.70 942.70 L2017.10 946.44 L2017.90 953.27 L2019.00 959.20 L2019.50 960.50 L2020.30 962.14 L2021.20 962.90 L2021.90 961.83 L2022.70 958.58 L2023.50 954.18 L2024.20 950.20 L2025.10 944.38 L2025.90 938.13 L2026.70 931.57 L2027.20 927.60 L2027.50 925.22 L2028.30 918.47 L2029.10 912.18 L2029.50 909.60 L2029.90 907.31 L2030.70 903.02 L2031.50 899.34 L2032.50 896.10 L2033.10 894.73 L2033.90 893.02 L2034.70 891.53 L2035.50 890.37 L2036.30 889.62 L2037.00 889.40 L2037.90 889.87 L2038.70 891.08 L2039.50 893.00 L2040.30 895.62 L2040.80 897.60 L2041.10 900.18 L2041.90 913.90 L2042.30 920.10 L2042.70 925.25 L2043.50 934.88 L2044.10 937.90 L2045.10 937.00 L2045.90 935.29 L2046.70 933.07 L2047.50 930.70 L2048.30 927.65 L2049.10 923.70 L2049.90 919.67 L2050.50 917.10 L2051.50 913.57 L2052.30 911.01 L2053.10 908.60 L2053.90 906.26 L2054.30 905.10 L2054.70 903.95 L2055.50 901.74 L2056.50 899.10"/>
<path stroke="#04a85e" d="M162.70 1193.90 L163.50 1193.95 L164.30 1194.11 L165.10 1194.38 L165.90 1194.75 L166.70 1195.23 L167.60 1195.90 L168.30 1198.38 L169.10 1203.91 L169.90 1209.05 L170.50 1210.60 L171.50 1206.00 L172.30 1198.97 L173.10 1193.20 L173.50 1192.00 L173.90 1191.62 L174.70 1190.98 L175.50 1190.49 L176.30 1190.17 L177.40 1190.00 L177.90 1190.15 L178.70 1191.00 L179.50 1192.50 L180.30 1194.57 L181.30 1197.80 L181.90 1202.86 L182.70 1212.83 L183.30 1216.40 L184.30 1211.82 L185.10 1204.79 L186.20 1197.80 L186.70 1196.66 L187.50 1195.04 L188.30 1193.74 L189.10 1192.83 L190.10 1192.40 L190.70 1192.61 L191.50 1193.43 L192.30 1194.67 L193.10 1196.14 L194.00 1197.80 L194.70 1199.47 L195.50 1201.91 L196.30 1203.97 L197.00 1204.70 L197.90 1203.31 L198.70 1200.43 L199.50 1196.92 L200.30 1193.70 L200.90 1192.00 L201.90 1190.07 L202.70 1188.73 L203.50 1187.58 L204.30 1186.61 L204.80 1186.10 L205.10 1185.83 L205.90 1185.17 L206.70 1184.61 L207.50 1184.11 L208.30 1183.64 L209.10 1183.19 L209.90 1182.72 L210.70 1182.20 L211.50 1181.57 L212.30 1180.83 L213.10 1180.07 L213.90 1179.41 L214.70 1178.92 L215.60 1178.70 L216.30 1178.80 L217.10 1179.14 L217.90 1179.64 L218.70 1180.27 L219.50 1180.95 L220.30 1181.63 L221.10 1182.26 L221.90 1182.76 L222.70 1183.10 L223.40 1183.20 L224.30 1182.93 L225.10 1182.37 L225.90 1181.65 L226.70 1180.95 L227.50 1180.41 L228.30 1180.20 L229.10 1180.30 L229.90 1180.56 L230.70 1180.95 L231.50 1181.43 L232.30 1181.96 L233.10 1182.51 L233.90 1183.05 L234.70 1183.52 L235.50 1183.90 L236.10 1184.10 L237.10 1184.34 L237.90 1184.51 L238.70 1184.66 L239.50 1184.79 L240.30 1184.91 L241.10 1185.02 L241.90 1185.13 L242.70 1185.23 L243.50 1185.34 L244.30 1185.45 L245.10 1185.57 L245.90 1185.71 L246.70 1185.86 L247.80 1186.10 L248.30 1186.22 L249.10 1186.42 L249.90 1186.64 L250.70 1186.88 L251.50 1187.14 L252.30 1187.42 L253.10 1187.73 L253.90 1188.08 L254.70 1188.46 L255.70 1189.00 L256.30 1189.50 L257.10 1190.50 L257.90 1191.62 L258.70 1192.55 L259.60 1193.00 L260.30 1192.95 L261.10 1192.81 L261.90 1192.58 L262.70 1192.30 L263.50 1192.00 L264.30 1191.70 L265.10 1191.42 L265.90 1191.19 L266.70 1191.05 L267.40 1191.00 L268.30 1191.09 L269.10 1191.30 L269.90 1191.61 L270.70 1191.96 L271.50 1192.35 L272.30 1192.72 L273.10 1193.05 L273.90 1193.31 L274.70 1193.47 L275.20 1193.50 L275.50 1193.49 L276.30 1193.40 L277.10 1193.22 L277.90 1192.99 L278.70 1192.71 L279.50 1192.42 L280.30 1192.15 L281.10 1191.90 L281.90 1191.72 L282.70 1191.61 L283.10 1191.60 L283.50 1191.62 L284.30 1191.79 L285.10 1192.09 L285.90 1192.51 L286.70 1193.00 L287.50 1193.56 L288.30 1194.14 L289.10 1194.73 L289.90 1195.28 L290.90 1195.90 L291.50 1196.24 L292.30 1196.72 L293.10 1197.22 L293.90 1197.72 L294.70 1198.23 L295.50 1198.74 L296.30 1199.23 L297.10 1199.71 L297.90 1200.15 L298.70 1200.57 L299.50 1200.94 L300.30 1201.26 L300.70 1201.40 L301.10 1201.53 L301.90 1201.80 L302.70 1202.07 L303.50 1202.33 L304.30 1202.58 L305.10 1202.82 L305.90 1203.03 L306.70 1203.23 L307.50 1203.40 L308.30 1203.53 L309.10 1203.63 L309.90 1203.69 L310.50 1203.70 L311.50 1203.68 L312.30 1203.65 L313.10 1203.60 L313.90 1203.54 L314.70 1203.46 L315.50 1203.37 L316.30 1203.27 L317.10 1203.16 L317.90 1203.05 L318.70 1202.93 L319.50 1202.80 L320.30 1202.67 L321.10 1202.54 L321.90 1202.41 L322.70 1202.29 L323.50 1202.16 L324.30 1202.04 L325.10 1201.93 L326.10 1201.80 L326.70 1201.73 L327.50 1201.63 L328.30 1201.53 L329.10 1201.43 L329.90 1201.33 L330.70 1201.23 L331.50 1201.12 L332.30 1201.02 L333.10 1200.92 L333.90 1200.82 L334.70 1200.72 L335.50 1200.62 L336.30 1200.52 L337.10 1200.42 L337.90 1200.32 L338.70 1200.22 L339.50 1200.12 L340.30 1200.02 L341.10 1199.93 L341.90 1199.83 L342.70 1199.74 L343.50 1199.64 L344.30 1199.55 L345.10 1199.47 L345.70 1199.40 L346.70 1199.29 L347.50 1199.21 L348.30 1199.12 L349.10 1199.04 L349.90 1198.96 L350.70 1198.88 L351.50 1198.80 L352.30 1198.72 L353.10 1198.64 L353.90 1198.56 L354.70 1198.48 L355.50 1198.40 L356.30 1198.33 L357.10 1198.25 L357.90 1198.17 L358.70 1198.10 L359.50 1198.03 L360.30 1197.95 L361.10 1197.88 L361.90 1197.81 L362.70 1197.73 L363.50 1197.66 L364.30 1197.59 L365.30 1197.50 L365.90 1197.45 L366.70 1197.38 L367.50 1197.30 L368.30 1197.23 L369.10 1197.16 L369.90 1197.09 L370.70 1197.02 L371.50 1196.95 L372.30 1196.88 L373.10 1196.81 L373.90 1196.74 L374.70 1196.67 L375.50 1196.60 L376.30 1196.53 L377.10 1196.47 L377.90 1196.40 L378.70 1196.34 L379.50 1196.27 L380.30 1196.21 L381.10 1196.15 L381.90 1196.10 L382.70 1196.04 L383.50 1195.98 L384.30 1195.93 L384.80 1195.90 L385.10 1195.88 L385.90 1195.83 L386.70 1195.79 L387.50 1195.75 L388.30 1195.71 L389.10 1195.67 L389.90 1195.63 L390.70 1195.60 L391.50 1195.56 L392.30 1195.53 L393.10 1195.50 L393.90 1195.47 L394.70 1195.43 L395.50 1195.40 L396.30 1195.37 L397.10 1195.33 L397.90 1195.29 L398.70 1195.26 L399.50 1195.21 L400.30 1195.17 L401.10 1195.13 L401.90 1195.08 L402.70 1195.02 L403.50 1194.97 L404.40 1194.90 L405.10 1194.84 L405.90 1194.77 L406.70 1194.68 L407.50 1194.59 L408.30 1194.49 L409.10 1194.38 L409.90 1194.26 L410.70 1194.14 L411.50 1194.01 L412.30 1193.87 L413.10 1193.73 L413.90 1193.59 L414.70 1193.44 L415.50 1193.29 L416.30 1193.14 L417.10 1192.98 L417.90 1192.82 L418.70 1192.66 L419.50 1192.50 L420.30 1192.34 L421.10 1192.18 L421.90 1192.02 L422.70 1191.86 L423.50 1191.70 L424.00 1191.60 L424.30 1191.54 L425.10 1191.38 L425.90 1191.22 L426.70 1191.05 L427.50 1190.87 L428.30 1190.69 L429.10 1190.51 L429.90 1190.33 L430.70 1190.14 L431.50 1189.95 L432.30 1189.76 L433.10 1189.57 L433.90 1189.37 L434.70 1189.18 L435.50 1188.98 L436.30 1188.79 L437.10 1188.60 L437.90 1188.40 L438.70 1188.21 L439.50 1188.02 L440.30 1187.83 L441.10 1187.64 L441.90 1187.46 L442.70 1187.28 L443.50 1187.10 L444.30 1186.92 L445.10 1186.74 L445.90 1186.56 L446.70 1186.38 L447.50 1186.19 L448.30 1186.01 L449.10 1185.82 L449.90 1185.64 L450.70 1185.46 L451.50 1185.28 L452.30 1185.10 L453.10 1184.93 L453.90 1184.76 L454.70 1184.60 L455.50 1184.44 L456.30 1184.29 L457.10 1184.14 L457.90 1184.01 L458.70 1183.88 L459.20 1183.80 L459.50 1183.75 L460.30 1183.63 L461.10 1183.51 L461.90 1183.38 L462.70 1183.25 L463.50 1183.12 L464.30 1183.00 L465.10 1182.88 L465.90 1182.77 L466.70 1182.66 L467.50 1182.56 L468.30 1182.47 L469.10 1182.39 L469.90 1182.32 L470.70 1182.27 L471.50 1182.23 L472.30 1182.21 L472.90 1182.20 L473.90 1182.20 L474.70 1182.20 L475.50 1182.20 L476.30 1182.20 L477.10 1182.20 L477.90 1182.20 L478.70 1182.20 L479.50 1182.20 L480.30 1182.20 L481.10 1182.20 L481.90 1182.20 L482.70 1182.20 L483.50 1182.20 L484.60 1182.20 L485.10 1182.22 L485.90 1182.31 L486.70 1182.49 L487.50 1182.72 L488.30 1183.01 L489.10 1183.35 L489.90 1183.71 L490.70 1184.10 L491.50 1184.50 L492.30 1185.00 L493.10 1185.65 L493.90 1186.41 L494.70 1187.24 L495.50 1188.09 L496.40 1189.00 L497.10 1189.80 L497.90 1190.87 L498.70 1191.91 L499.50 1192.69 L500.30 1193.00 L501.10 1192.97 L501.90 1192.90 L502.70 1192.78 L503.50 1192.63 L504.30 1192.46 L505.10 1192.27 L505.90 1192.06 L506.70 1191.86 L507.50 1191.66 L508.30 1191.47 L509.10 1191.31 L509.90 1191.17 L510.70 1191.07 L511.50 1191.01 L512.00 1191.00 L512.30 1191.00 L513.10 1191.00 L513.90 1191.00 L514.70 1191.00 L515.50 1191.00 L516.30 1191.00 L517.10 1191.00 L517.90 1191.00 L518.70 1191.00 L519.50 1191.00 L520.30 1191.00 L521.10 1191.00 L521.80 1191.00 L522.70 1190.98 L523.50 1190.93 L524.30 1190.85 L525.10 1190.75 L525.90 1190.63 L526.70 1190.50 L527.50 1190.36 L528.30 1190.21 L529.10 1190.06 L529.90 1189.90 L530.70 1189.76 L531.60 1189.60 L532.30 1189.47 L533.10 1189.30 L533.90 1189.11 L534.70 1188.91 L535.50 1188.70 L536.30 1188.50 L537.10 1188.30 L537.90 1188.12 L538.70 1187.96 L539.50 1187.84 L540.30 1187.75 L541.40 1187.70 L541.90 1187.70 L542.70 1187.71 L543.50 1187.73 L544.30 1187.75 L545.10 1187.78 L545.90 1187.81 L546.70 1187.86 L547.50 1187.91 L548.30 1187.96 L549.10 1188.02 L550.00 1188.10 L550.70 1188.23 L551.50 1188.54 L552.30 1188.98 L553.10 1189.53 L553.90 1190.16 L554.70 1190.85 L555.50 1191.56 L556.30 1192.27 L557.10 1192.95 L557.80 1193.50 L558.70 1194.18 L559.50 1194.79 L560.30 1195.41 L561.10 1196.05 L561.90 1196.69 L562.70 1197.34 L563.50 1197.99 L564.30 1198.65 L565.10 1199.31 L565.70 1199.80 L566.70 1200.67 L567.50 1201.42 L568.30 1202.17 L569.10 1202.91 L569.90 1203.59 L570.70 1204.20 L571.50 1204.70 L572.30 1205.08 L573.10 1205.37 L573.90 1205.63 L574.70 1205.90 L575.50 1206.22 L576.40 1206.70 L577.10 1207.25 L577.90 1208.12 L578.70 1209.20 L579.50 1210.44 L580.30 1211.77 L581.30 1213.50 L581.90 1214.65 L582.70 1216.45 L583.50 1218.39 L584.30 1220.33 L585.20 1222.30 L585.90 1223.82 L586.70 1225.70 L587.50 1227.44 L588.30 1228.71 L589.10 1229.20 L589.90 1229.20 L590.70 1229.20 L591.50 1229.20 L592.30 1229.20 L593.10 1229.20 L593.90 1228.38 L594.70 1226.34 L595.50 1223.71 L596.30 1221.12 L597.00 1219.40 L597.90 1217.70 L598.70 1216.26 L599.50 1215.00 L600.30 1214.01 L600.90 1213.50 L601.90 1212.88 L602.70 1212.43 L603.50 1212.03 L604.30 1211.69 L605.10 1211.44 L605.90 1211.27 L606.80 1211.20 L607.50 1211.20 L608.30 1211.20 L609.10 1211.20 L609.90 1211.20 L610.70 1211.20 L611.50 1211.20 L612.30 1211.20 L613.10 1211.20 L613.90 1211.20 L614.60 1211.20 L615.50 1211.26 L616.30 1211.40 L617.10 1211.61 L617.90 1211.86 L618.70 1212.13 L619.50 1212.40 L620.30 1212.66 L621.10 1212.88 L621.90 1213.04 L622.40 1213.10 L622.70 1213.13 L623.50 1213.18 L624.30 1213.23 L625.10 1213.26 L625.90 1213.30 L626.70 1213.33 L627.50 1213.37 L628.30 1213.42 L629.30 1213.50 L629.90 1213.61 L630.70 1213.85 L631.50 1214.14 L632.30 1214.38 L633.20 1214.50 L633.90 1214.40 L634.70 1214.03 L635.50 1213.41 L636.30 1212.57 L637.10 1211.50 L637.90 1207.87 L639.00 1201.80 L639.50 1200.66 L640.30 1199.15 L641.10 1197.95 L641.90 1196.99 L643.00 1195.90 L643.50 1195.46 L644.30 1194.82 L645.10 1194.26 L645.90 1193.75 L646.70 1193.29 L647.50 1192.85 L648.30 1192.42 L649.10 1191.99 L649.80 1191.60 L650.70 1191.06 L651.50 1190.54 L652.30 1190.01 L653.10 1189.47 L653.90 1188.94 L654.70 1188.43 L655.50 1187.95 L656.30 1187.52 L657.10 1187.14 L657.90 1186.84 L658.70 1186.63 L659.60 1186.50 L660.30 1186.46 L661.10 1186.41 L661.90 1186.37 L662.70 1186.34 L663.50 1186.31 L664.30 1186.28 L665.10 1186.26 L665.90 1186.23 L666.70 1186.21 L667.50 1186.20 L668.30 1186.18 L669.10 1186.16 L669.90 1186.14 L670.70 1186.12 L671.30 1186.10 L672.30 1186.07 L673.10 1186.04 L673.90 1186.02 L674.70 1185.99 L675.50 1185.96 L676.30 1185.94 L677.10 1185.91 L677.90 1185.88 L678.70 1185.86 L679.50 1185.83 L680.30 1185.81 L681.10 1185.79 L681.90 1185.77 L682.70 1185.75 L683.50 1185.73 L684.30 1185.72 L685.10 1185.71 L685.90 1185.70 L687.00 1185.70 L687.50 1185.70 L688.30 1185.70 L689.10 1185.70 L689.90 1185.70 L690.70 1185.70 L691.50 1185.70 L692.30 1185.70 L693.10 1185.70 L693.90 1185.70 L694.70 1185.70 L695.50 1185.70 L696.30 1185.70 L697.10 1185.70 L697.90 1185.70 L698.70 1185.70 L699.50 1185.70 L700.30 1185.70 L701.10 1185.70 L701.90 1185.70 L702.70 1185.70 L703.50 1185.70 L704.30 1185.70 L705.10 1185.70 L705.90 1185.70 L706.60 1185.70 L707.50 1185.70 L708.30 1185.69 L709.10 1185.68 L709.90 1185.67 L710.70 1185.65 L711.50 1185.64 L712.30 1185.62 L713.10 1185.60 L713.90 1185.57 L714.70 1185.55 L715.50 1185.53 L716.30 1185.50 L717.10 1185.48 L717.90 1185.45 L718.70 1185.43 L719.50 1185.41 L720.30 1185.39 L721.10 1185.37 L721.90 1185.35 L722.70 1185.33 L723.50 1185.32 L724.30 1185.31 L725.10 1185.30 L726.10 1185.30 L726.70 1185.30 L727.50 1185.30 L728.30 1185.30 L729.10 1185.30 L729.90 1185.30 L730.70 1185.30 L731.50 1185.30 L732.30 1185.30 L733.10 1185.30 L733.90 1185.30 L734.70 1185.30 L735.50 1185.30 L736.30 1185.30 L737.10 1185.30 L737.90 1185.30 L738.70 1185.30 L739.50 1185.30 L740.30 1185.30 L741.10 1185.30 L741.90 1185.30 L742.70 1185.30 L743.50 1185.30 L744.30 1185.30 L745.10 1185.30 L745.70 1185.30 L746.70 1185.28 L747.50 1185.25 L748.30 1185.20 L749.10 1185.14 L749.90 1185.07 L750.70 1184.99 L751.50 1184.90 L752.30 1184.82 L753.10 1184.73 L753.90 1184.65 L754.70 1184.57 L755.50 1184.50 L756.30 1184.43 L757.10 1184.35 L757.90 1184.27 L758.70 1184.19 L759.50 1184.10 L760.30 1184.02 L761.10 1183.95 L761.90 1183.89 L762.70 1183.84 L763.50 1183.81 L764.30 1183.80 L765.10 1183.81 L765.90 1183.84 L766.70 1183.89 L767.50 1183.96 L768.30 1184.04 L769.10 1184.13 L769.90 1184.24 L770.70 1184.36 L771.50 1184.49 L772.30 1184.62 L773.10 1184.76 L773.90 1184.90 L775.00 1185.10 L775.50 1185.20 L776.30 1185.40 L777.10 1185.65 L777.90 1185.93 L778.70 1186.23 L779.50 1186.55 L780.30 1186.88 L781.10 1187.21 L781.90 1187.53 L782.70 1187.84 L783.50 1188.12 L784.30 1188.37 L784.80 1188.50 L785.10 1188.58 L785.90 1188.78 L786.70 1188.99 L787.50 1189.21 L788.30 1189.41 L789.10 1189.61 L789.90 1189.80 L790.70 1189.97 L791.50 1190.12 L792.30 1190.24 L793.10 1190.33 L793.90 1190.38 L794.60 1190.40 L795.50 1190.40 L796.30 1190.39 L797.10 1190.38 L797.90 1190.36 L798.70 1190.34 L799.50 1190.31 L800.30 1190.28 L801.10 1190.25 L801.90 1190.22 L802.70 1190.18 L803.50 1190.14 L804.30 1190.11 L805.10 1190.07 L805.90 1190.03 L806.40 1190.00 L806.70 1189.98 L807.50 1189.93 L808.30 1189.87 L809.10 1189.80 L809.90 1189.73 L810.70 1189.64 L811.50 1189.55 L812.30 1189.46 L813.10 1189.36 L813.90 1189.26 L814.70 1189.16 L815.50 1189.06 L816.30 1188.95 L817.10 1188.85 L817.90 1188.75 L818.70 1188.66 L819.50 1188.57 L820.10 1188.50 L821.10 1188.39 L821.90 1188.29 L822.70 1188.19 L823.50 1188.08 L824.30 1187.97 L825.10 1187.86 L825.90 1187.76 L826.70 1187.65 L827.50 1187.55 L828.30 1187.46 L829.10 1187.37 L829.90 1187.29 L830.70 1187.23 L831.50 1187.17 L832.30 1187.13 L833.10 1187.11 L833.80 1187.10 L834.70 1187.13 L835.50 1187.21 L836.30 1187.33 L837.10 1187.48 L837.90 1187.64 L838.70 1187.81 L839.50 1187.98 L840.30 1188.14 L841.10 1188.29 L841.90 1188.40 L842.70 1188.47 L843.50 1188.50 L844.30 1188.49 L845.10 1188.46 L845.90 1188.41 L846.70 1188.34 L847.50 1188.26 L848.30 1188.16 L849.10 1188.06 L849.90 1187.94 L850.70 1187.82 L851.50 1187.70 L852.30 1187.57 L853.10 1187.44 L853.90 1187.31 L854.70 1187.19 L855.30 1187.10 L856.30 1186.95 L857.10 1186.82 L857.90 1186.68 L858.70 1186.53 L859.50 1186.38 L860.30 1186.22 L861.10 1186.06 L861.90 1185.89 L862.70 1185.73 L863.50 1185.56 L864.30 1185.39 L865.10 1185.22 L865.90 1185.05 L866.70 1184.89 L867.50 1184.73 L868.30 1184.57 L869.10 1184.42 L869.90 1184.27 L870.90 1184.10 L871.50 1184.00 L872.30 1183.87 L873.10 1183.73 L873.90 1183.60 L874.70 1183.47 L875.50 1183.34 L876.30 1183.21 L877.10 1183.09 L877.90 1182.96 L878.70 1182.84 L879.50 1182.72 L880.30 1182.60 L881.10 1182.49 L881.90 1182.38 L882.70 1182.27 L883.50 1182.16 L884.30 1182.06 L885.10 1181.97 L885.90 1181.88 L886.60 1181.80 L887.50 1181.70 L888.30 1181.61 L889.10 1181.52 L889.90 1181.42 L890.70 1181.33 L891.50 1181.24 L892.30 1181.16 L893.10 1181.08 L893.90 1181.01 L894.70 1180.94 L895.50 1180.89 L896.30 1180.85 L897.10 1180.82 L897.90 1180.80 L898.30 1180.80 L898.70 1180.80 L899.50 1180.80 L900.00 1180.80 L900.30 1180.80 L901.10 1180.79 L901.90 1180.77 L902.70 1180.74 L903.50 1180.70 L904.30 1180.65 L905.10 1180.60 L905.90 1180.54 L906.70 1180.47 L907.50 1180.41 L908.30 1180.34 L909.10 1180.27 L909.90 1180.20 L910.70 1180.13 L911.50 1180.07 L912.30 1180.00 L913.10 1179.95 L913.90 1179.89 L914.70 1179.85 L915.70 1179.80 L916.30 1179.78 L917.10 1179.75 L917.90 1179.73 L918.70 1179.71 L919.50 1179.70 L920.30 1179.69 L921.10 1179.67 L921.90 1179.66 L922.70 1179.65 L923.50 1179.63 L924.30 1179.62 L925.10 1179.60 L925.90 1179.57 L926.70 1179.54 L927.50 1179.51 L928.30 1179.47 L929.40 1179.40 L929.90 1179.28 L930.70 1178.77 L931.50 1177.90 L932.30 1176.72 L933.30 1174.90 L933.90 1172.86 L934.70 1168.23 L935.50 1162.72 L936.20 1158.30 L937.10 1153.00 L937.90 1148.27 L938.70 1144.20 L939.10 1142.60 L939.50 1141.19 L940.30 1138.49 L941.10 1136.28 L942.10 1134.80 L942.70 1134.49 L943.50 1134.16 L944.30 1133.92 L945.40 1133.80 L945.90 1134.67 L946.70 1138.69 L947.50 1144.02 L947.90 1146.50 L948.30 1149.18 L949.10 1155.41 L949.90 1159.30 L950.70 1160.45 L951.50 1161.11 L951.90 1161.20 L952.30 1160.75 L953.10 1157.95 L953.90 1154.26 L954.40 1152.40 L954.70 1151.47 L955.50 1148.80 L956.30 1146.55 L957.10 1145.60 L957.90 1145.85 L958.70 1146.52 L959.50 1147.49 L960.30 1148.62 L961.10 1149.80 L961.60 1150.50 L961.90 1150.92 L962.70 1152.16 L963.50 1153.56 L964.30 1155.05 L965.10 1156.60 L965.90 1158.15 L966.50 1159.30 L967.50 1161.28 L968.30 1162.95 L969.10 1164.64 L969.90 1166.27 L970.70 1167.80 L971.40 1169.00 L972.30 1170.44 L973.10 1171.68 L973.90 1172.81 L974.70 1173.75 L975.30 1174.30 L976.30 1175.04 L977.10 1175.58 L977.90 1176.05 L978.70 1176.43 L979.50 1176.73 L980.20 1176.90 L981.10 1177.06 L981.90 1177.19 L982.70 1177.32 L983.50 1177.43 L984.30 1177.54 L985.10 1177.65 L985.90 1177.74 L986.70 1177.82 L987.50 1177.90 L988.30 1177.97 L989.10 1178.03 L989.90 1178.08 L990.70 1178.12 L991.50 1178.16 L992.30 1178.18 L993.10 1178.20 L993.90 1178.20 L994.70 1178.19 L995.50 1178.16 L996.30 1178.11 L997.10 1178.06 L997.90 1178.00 L998.70 1177.94 L999.50 1177.88 L1000.30 1177.84 L1001.10 1177.81 L1001.80 1177.80 L1002.70 1177.85 L1003.50 1177.96 L1004.30 1178.14 L1005.10 1178.36 L1005.90 1178.63 L1006.70 1178.94 L1007.50 1179.27 L1008.30 1179.62 L1009.10 1179.98 L1009.60 1180.20 L1009.90 1180.33 L1010.70 1180.71 L1011.50 1181.12 L1012.30 1181.60 L1013.10 1182.17 L1013.90 1182.86 L1014.70 1183.70 L1015.50 1184.70 L1016.30 1186.50 L1017.10 1189.43 L1017.90 1193.06 L1018.40 1195.50 L1018.70 1197.14 L1019.50 1202.73 L1020.30 1208.92 L1020.90 1213.10 L1021.90 1219.60 L1022.70 1224.46 L1023.70 1228.70 L1024.30 1230.30 L1025.10 1232.20 L1025.90 1233.58 L1026.80 1234.20 L1027.50 1233.49 L1028.30 1231.33 L1029.10 1228.37 L1029.50 1226.80 L1029.90 1224.76 L1030.70 1218.81 L1031.50 1212.54 L1032.10 1209.20 L1033.10 1205.67 L1033.90 1203.38 L1034.70 1201.57 L1035.40 1200.40 L1036.30 1199.28 L1037.10 1198.47 L1037.90 1197.78 L1038.70 1197.17 L1039.50 1196.59 L1040.30 1195.99 L1040.90 1195.50 L1041.90 1194.62 L1042.70 1193.90 L1043.50 1193.19 L1044.30 1192.49 L1045.10 1191.83 L1045.90 1191.22 L1046.80 1190.60 L1047.50 1190.17 L1048.30 1189.71 L1049.10 1189.27 L1049.90 1188.85 L1050.70 1188.46 L1051.50 1188.08 L1052.30 1187.71 L1053.10 1187.36 L1053.90 1187.00 L1054.60 1186.70 L1055.50 1186.32 L1056.30 1185.99 L1057.10 1185.68 L1057.90 1185.37 L1058.70 1185.07 L1059.50 1184.77 L1060.30 1184.48 L1061.10 1184.18 L1061.90 1183.89 L1062.40 1183.70 L1062.70 1183.58 L1063.50 1183.24 L1064.30 1182.87 L1065.10 1182.48 L1065.90 1182.09 L1066.70 1181.72 L1067.50 1181.39 L1068.30 1181.12 L1069.10 1180.92 L1069.90 1180.81 L1070.30 1180.80 L1070.70 1181.20 L1071.50 1183.70 L1072.30 1186.81 L1073.20 1188.60 L1073.90 1188.53 L1074.70 1188.32 L1075.50 1187.99 L1076.30 1187.59 L1077.10 1187.15 L1077.90 1186.71 L1078.70 1186.31 L1079.50 1185.98 L1080.30 1185.77 L1081.00 1185.70 L1081.90 1185.81 L1082.70 1186.05 L1083.50 1186.40 L1084.30 1186.82 L1085.10 1187.26 L1085.90 1187.70 L1086.70 1188.08 L1087.50 1188.39 L1088.30 1188.57 L1088.80 1188.60 L1089.10 1188.59 L1089.90 1188.43 L1090.70 1188.14 L1091.50 1187.74 L1092.30 1187.29 L1093.10 1186.83 L1093.90 1186.38 L1094.70 1186.01 L1095.70 1185.70 L1096.30 1185.58 L1097.10 1185.43 L1097.90 1185.28 L1098.70 1185.14 L1099.50 1185.02 L1100.30 1184.91 L1101.10 1184.82 L1101.90 1184.76 L1102.70 1184.71 L1103.50 1184.70 L1104.30 1184.74 L1105.10 1184.85 L1105.90 1185.01 L1106.70 1185.20 L1107.50 1185.41 L1108.30 1185.62 L1109.10 1185.81 L1109.90 1185.97 L1110.70 1186.07 L1111.40 1186.10 L1112.30 1186.03 L1113.10 1185.87 L1113.90 1185.63 L1114.70 1185.34 L1115.50 1185.02 L1116.30 1184.70 L1117.10 1184.38 L1117.90 1184.11 L1118.70 1183.89 L1119.50 1183.74 L1120.20 1183.70 L1121.10 1183.76 L1121.90 1183.91 L1122.70 1184.13 L1123.50 1184.40 L1124.30 1184.70 L1125.10 1185.02 L1125.90 1185.32 L1127.00 1185.70 L1127.50 1185.87 L1128.30 1186.18 L1129.10 1186.52 L1129.90 1186.86 L1130.70 1187.16 L1131.50 1187.41 L1132.30 1187.56 L1132.90 1187.60 L1133.90 1187.50 L1134.70 1187.29 L1135.50 1186.99 L1136.30 1186.63 L1137.10 1186.22 L1137.90 1185.80 L1138.70 1185.37 L1139.50 1184.98 L1140.30 1184.63 L1141.10 1184.35 L1141.90 1184.17 L1142.70 1184.10 L1143.50 1184.16 L1144.30 1184.32 L1145.10 1184.56 L1145.90 1184.88 L1146.70 1185.24 L1147.50 1185.65 L1148.30 1186.07 L1149.10 1186.49 L1149.50 1186.70 L1149.90 1186.94 L1150.70 1187.57 L1151.50 1188.35 L1152.30 1189.18 L1153.10 1189.96 L1153.90 1190.62 L1154.70 1191.06 L1155.40 1191.20 L1156.30 1190.98 L1157.10 1190.50 L1157.90 1189.86 L1158.70 1189.16 L1159.50 1188.52 L1160.00 1188.20 L1160.30 1188.03 L1161.10 1187.63 L1161.90 1187.26 L1162.70 1186.91 L1163.50 1186.55 L1164.30 1186.17 L1165.10 1185.74 L1165.87 1185.26 L1166.70 1184.50 L1167.50 1183.50 L1168.30 1182.42 L1169.10 1181.43 L1169.90 1180.69 L1170.76 1180.37 L1171.50 1180.51 L1172.30 1180.94 L1173.10 1181.66 L1173.90 1182.61 L1174.70 1183.79 L1175.43 1185.04 L1176.30 1189.01 L1176.63 1189.77 L1177.10 1188.42 L1177.83 1185.34 L1178.70 1184.39 L1179.50 1183.83 L1180.55 1183.31 L1181.10 1183.05 L1181.90 1182.67 L1182.70 1182.33 L1183.50 1182.06 L1184.30 1181.89 L1184.95 1181.84 L1185.90 1181.86 L1186.70 1181.90 L1187.50 1181.97 L1188.30 1182.05 L1189.10 1182.15 L1189.90 1182.26 L1190.33 1182.33 L1190.70 1182.42 L1191.50 1182.78 L1192.30 1183.31 L1193.10 1183.93 L1193.90 1184.56 L1194.70 1185.13 L1195.50 1185.56 L1196.20 1185.75 L1197.10 1185.85 L1197.90 1185.91 L1198.70 1185.95 L1199.50 1185.98 L1200.30 1186.01 L1201.10 1186.05 L1201.90 1186.11 L1202.70 1186.19 L1203.05 1186.24 L1203.50 1186.33 L1204.30 1186.64 L1205.10 1187.12 L1205.65 1187.54 L1206.70 1190.04 L1207.50 1192.24 L1207.95 1192.70 L1208.30 1192.34 L1209.10 1189.74 L1209.90 1186.87 L1210.25 1186.23 L1210.70 1185.82 L1211.50 1185.32 L1211.86 1185.26 L1212.30 1185.26 L1213.10 1185.28 L1213.90 1185.31 L1214.70 1185.37 L1215.50 1185.44 L1216.30 1185.53 L1217.10 1185.64 L1217.90 1185.77 L1218.70 1185.92 L1219.60 1186.12 L1220.30 1187.08 L1221.10 1189.58 L1221.90 1192.63 L1222.70 1195.29 L1223.60 1196.61 L1224.30 1196.05 L1225.10 1194.38 L1225.90 1192.20 L1226.70 1190.12 L1227.60 1188.65 L1228.30 1188.09 L1229.10 1187.51 L1229.90 1187.01 L1230.70 1186.62 L1231.50 1186.35 L1232.41 1186.24 L1233.10 1186.24 L1233.90 1186.24 L1234.70 1186.24 L1235.50 1186.24 L1236.30 1186.24 L1237.10 1186.24 L1237.90 1186.24 L1238.70 1186.24 L1239.69 1186.24 L1240.30 1187.06 L1241.10 1189.50 L1242.19 1191.72 L1242.70 1191.07 L1243.50 1188.40 L1244.30 1185.67 L1244.69 1184.99 L1245.10 1184.66 L1245.90 1184.13 L1246.70 1183.75 L1247.50 1183.47 L1248.06 1183.31 L1249.10 1183.05 L1249.90 1182.86 L1250.70 1182.70 L1251.50 1182.57 L1252.30 1182.49 L1253.22 1182.45 L1253.90 1192.70 L1254.42 1199.55 L1255.62 1181.48 L1256.30 1180.94 L1257.10 1180.62 L1257.85 1180.37 L1258.70 1180.00 L1259.50 1179.65 L1260.30 1179.29 L1261.10 1178.94 L1261.90 1178.62 L1262.70 1178.35 L1263.50 1178.13 L1264.30 1177.99 L1265.19 1177.93 L1265.90 1177.99 L1266.70 1178.20 L1267.50 1178.61 L1268.39 1179.35 L1269.10 1191.07 L1269.59 1197.59 L1269.90 1194.64 L1270.79 1179.45 L1271.50 1178.89 L1272.30 1178.39 L1273.10 1178.01 L1273.90 1177.74 L1274.70 1177.57 L1275.50 1177.47 L1276.44 1177.44 L1277.10 1177.62 L1278.06 1178.45 L1278.70 1182.88 L1279.50 1191.28 L1279.86 1192.70 L1280.30 1190.75 L1281.10 1182.45 L1281.66 1178.86 L1282.70 1177.53 L1283.50 1176.87 L1284.30 1176.51 L1284.76 1176.46 L1285.10 1176.47 L1285.90 1176.53 L1286.70 1176.65 L1287.50 1176.80 L1288.30 1176.99 L1289.10 1177.19 L1290.14 1177.44 L1290.70 1177.57 L1291.50 1177.75 L1292.30 1177.95 L1293.10 1178.17 L1293.90 1178.43 L1294.70 1178.74 L1295.50 1179.11 L1296.01 1179.39 L1297.10 1180.30 L1297.90 1181.35 L1298.70 1182.76 L1299.50 1184.55 L1300.07 1186.08 L1301.10 1194.32 L1301.90 1201.80 L1302.37 1203.46 L1302.70 1202.28 L1303.50 1193.08 L1304.30 1183.12 L1304.67 1181.10 L1305.10 1180.41 L1305.79 1179.88 L1306.70 1179.88 L1307.50 1179.88 L1308.30 1179.88 L1309.10 1179.88 L1309.90 1179.88 L1310.70 1179.88 L1311.50 1179.88 L1312.30 1179.88 L1312.64 1179.88 L1313.10 1179.89 L1314.08 1179.97 L1314.70 1189.08 L1315.58 1204.44 L1316.30 1193.03 L1317.08 1180.16 L1317.90 1180.17 L1318.70 1180.21 L1319.50 1180.27 L1320.47 1180.37 L1321.10 1180.81 L1321.90 1182.15 L1322.70 1183.91 L1323.50 1185.58 L1324.38 1186.73 L1325.10 1187.12 L1325.90 1187.40 L1326.70 1187.60 L1327.50 1187.81 L1328.30 1188.10 L1329.28 1188.69 L1329.90 1190.69 L1330.70 1196.59 L1331.50 1204.16 L1332.30 1211.16 L1333.30 1215.70 L1333.90 1216.10 L1334.70 1216.38 L1335.50 1216.64 L1336.30 1217.20 L1337.10 1222.53 L1337.90 1231.66 L1338.30 1235.20 L1338.70 1238.07 L1339.50 1243.36 L1340.10 1245.00 L1341.10 1240.87 L1341.90 1232.81 L1342.30 1227.70 L1342.70 1216.12 L1343.10 1205.20 L1343.50 1201.42 L1344.30 1195.85 L1345.30 1193.20 L1345.90 1193.87 L1346.70 1196.52 L1347.50 1200.53 L1348.30 1205.20 L1349.10 1214.31 L1349.90 1224.40 L1350.30 1226.20 L1350.70 1224.76 L1351.50 1215.65 L1352.30 1203.70 L1352.80 1197.70 L1353.10 1194.67 L1353.90 1186.07 L1354.70 1179.86 L1355.10 1178.90 L1355.50 1179.19 L1356.30 1181.25 L1357.10 1184.76 L1358.10 1190.20 L1358.70 1194.45 L1359.50 1202.51 L1360.30 1212.70 L1361.10 1230.64 L1361.80 1242.70 L1362.70 1245.59 L1363.50 1246.81 L1364.30 1248.37 L1364.80 1250.20 L1365.10 1252.86 L1365.90 1266.53 L1366.30 1272.70 L1366.70 1277.05 L1367.50 1284.15 L1368.60 1295.30 L1369.10 1302.26 L1370.10 1322.50 L1370.80 1352.60 L1371.50 1370.36 L1371.90 1375.10 L1372.30 1376.36 L1373.10 1377.75 L1373.90 1378.45 L1374.70 1379.49 L1375.30 1381.10 L1376.30 1395.32 L1376.80 1405.10 L1377.10 1410.80 L1377.90 1427.51 L1378.30 1435.10 L1378.70 1441.64 L1379.50 1453.37 L1380.30 1465.20 L1381.10 1479.26 L1382.10 1495.20 L1382.70 1502.26 L1383.50 1510.50 L1384.40 1516.20 L1385.10 1518.07 L1385.90 1519.43 L1386.70 1520.66 L1387.40 1522.20 L1388.30 1526.20 L1389.10 1531.17 L1389.90 1535.95 L1390.70 1539.04 L1391.10 1539.50 L1391.50 1538.64 L1392.30 1532.52 L1393.40 1517.70 L1393.90 1504.19 L1394.40 1487.70 L1394.70 1479.81 L1395.60 1457.70 L1396.30 1438.08 L1396.80 1427.60 L1397.10 1423.83 L1397.90 1415.74 L1398.60 1412.60 L1399.50 1412.06 L1400.30 1411.88 L1401.10 1411.66 L1401.90 1411.10 L1402.70 1398.68 L1403.10 1390.10 L1403.50 1381.08 L1403.90 1375.10 L1404.30 1374.13 L1405.10 1373.05 L1406.10 1372.10 L1406.70 1371.33 L1407.50 1370.31 L1408.30 1369.32 L1409.10 1368.40 L1409.90 1367.60 L1410.70 1366.84 L1411.50 1366.10 L1412.30 1365.54 L1412.90 1365.30 L1413.90 1365.10 L1414.70 1364.98 L1415.50 1364.91 L1415.90 1364.90 L1416.30 1365.01 L1417.10 1365.82 L1417.90 1367.31 L1418.70 1369.34 L1419.60 1372.10 L1420.30 1375.88 L1421.10 1382.66 L1421.90 1390.10 L1422.70 1398.17 L1423.50 1406.87 L1424.10 1412.60 L1425.10 1421.16 L1425.90 1426.85 L1426.40 1429.10 L1426.70 1430.04 L1427.50 1432.22 L1428.60 1433.60 L1429.10 1433.28 L1429.90 1431.60 L1430.70 1428.87 L1431.70 1424.60 L1432.30 1420.88 L1433.10 1413.58 L1433.90 1405.10 L1434.70 1393.01 L1435.40 1385.60 L1436.30 1384.07 L1437.10 1383.47 L1437.90 1383.00 L1438.70 1382.11 L1439.20 1381.10 L1439.50 1378.83 L1440.30 1365.34 L1440.70 1360.10 L1441.10 1357.25 L1441.90 1353.13 L1442.90 1348.00 L1443.50 1343.64 L1444.30 1337.02 L1445.20 1330.00 L1445.90 1324.53 L1446.70 1318.69 L1447.40 1316.50 L1448.30 1318.74 L1449.10 1323.16 L1449.90 1328.02 L1450.70 1331.55 L1451.20 1332.30 L1451.50 1329.19 L1452.20 1307.50 L1452.70 1280.20 L1453.40 1250.20 L1453.90 1234.96 L1454.50 1220.20 L1455.70 1197.70 L1456.30 1190.88 L1457.10 1183.46 L1457.90 1180.40 L1458.70 1180.65 L1459.50 1181.43 L1460.30 1182.74 L1460.90 1184.10 L1461.90 1202.01 L1462.40 1207.90 L1462.70 1207.00 L1463.50 1198.51 L1464.40 1187.10 L1465.10 1179.37 L1465.90 1174.10 L1466.70 1174.64 L1467.50 1176.12 L1468.30 1178.34 L1469.10 1181.09 L1469.50 1182.60 L1469.90 1184.82 L1470.70 1191.72 L1471.40 1197.70 L1472.30 1205.02 L1473.40 1210.40 L1473.90 1209.59 L1474.70 1205.87 L1475.50 1201.01 L1476.30 1197.12 L1476.70 1196.20 L1477.10 1195.77 L1477.90 1195.07 L1478.90 1194.70 L1479.50 1196.39 L1480.30 1202.72 L1481.20 1212.70 L1481.90 1223.82 L1482.70 1242.70 L1483.50 1272.70 L1483.90 1289.20 L1484.30 1288.80 L1485.10 1286.10 L1485.90 1281.97 L1486.70 1277.77 L1487.50 1274.81 L1488.00 1274.20 L1488.30 1276.75 L1489.10 1295.87 L1489.50 1302.80 L1489.90 1305.83 L1490.70 1309.83 L1491.70 1315.00 L1492.30 1319.79 L1493.10 1327.57 L1494.00 1337.50 L1494.70 1346.39 L1495.50 1357.79 L1496.20 1367.60 L1497.10 1379.38 L1497.90 1389.71 L1498.50 1397.60 L1499.50 1411.22 L1500.30 1422.20 L1500.70 1427.60 L1501.10 1433.06 L1501.90 1444.19 L1503.00 1457.70 L1503.50 1463.34 L1504.30 1471.65 L1504.90 1474.20 L1505.90 1469.16 L1507.00 1457.70 L1507.50 1450.48 L1508.50 1435.10 L1509.10 1430.16 L1509.90 1425.12 L1510.50 1423.10 L1511.50 1421.95 L1512.30 1421.48 L1513.10 1420.75 L1513.50 1420.10 L1513.90 1417.83 L1515.00 1408.10 L1515.50 1406.59 L1516.30 1404.74 L1517.20 1403.90 L1517.90 1406.28 L1518.70 1412.80 L1519.50 1420.10 L1520.30 1429.33 L1521.30 1437.40 L1521.90 1437.27 L1522.70 1436.71 L1523.50 1435.76 L1524.30 1434.49 L1525.10 1432.95 L1525.50 1432.10 L1525.90 1430.78 L1526.70 1426.33 L1527.70 1420.10 L1528.30 1416.48 L1529.10 1411.47 L1530.00 1408.10 L1530.70 1407.25 L1531.50 1406.50 L1532.30 1406.04 L1533.00 1405.90 L1533.90 1406.92 L1534.70 1408.97 L1535.50 1411.32 L1536.00 1412.60 L1536.30 1413.36 L1537.10 1415.76 L1537.90 1417.61 L1538.30 1417.90 L1538.70 1417.36 L1539.50 1413.50 L1540.50 1405.10 L1541.10 1392.36 L1541.60 1382.60 L1541.90 1380.21 L1542.70 1374.98 L1543.50 1371.88 L1544.00 1371.30 L1544.30 1371.42 L1545.10 1372.74 L1545.90 1375.03 L1546.70 1377.70 L1547.30 1379.60 L1548.30 1383.71 L1549.10 1386.62 L1549.50 1387.10 L1549.90 1386.89 L1550.70 1385.33 L1551.50 1382.59 L1552.50 1378.10 L1553.10 1373.44 L1553.90 1363.77 L1554.80 1352.60 L1555.50 1345.35 L1556.30 1337.29 L1557.00 1330.00 L1557.90 1322.96 L1559.00 1307.50 L1559.25 1287.70 L1560.00 1272.70 L1560.30 1270.79 L1561.10 1267.09 L1561.90 1264.75 L1563.00 1262.20 L1563.50 1260.94 L1564.30 1259.06 L1565.10 1257.47 L1566.00 1256.20 L1566.70 1255.49 L1567.50 1254.73 L1568.30 1254.08 L1569.10 1253.58 L1569.90 1253.27 L1570.50 1253.20 L1571.50 1255.26 L1572.30 1258.73 L1573.10 1262.37 L1573.90 1264.83 L1574.30 1265.20 L1574.70 1264.64 L1575.50 1260.94 L1576.30 1255.67 L1577.30 1250.20 L1577.90 1248.42 L1578.70 1246.62 L1579.50 1244.57 L1580.00 1242.70 L1580.30 1240.85 L1581.10 1232.45 L1581.90 1223.32 L1582.30 1220.20 L1582.70 1217.95 L1583.50 1214.03 L1584.50 1211.20 L1585.10 1210.58 L1585.90 1210.09 L1586.70 1209.77 L1587.50 1209.46 L1588.30 1208.95 L1589.00 1208.20 L1589.90 1202.10 L1590.70 1193.78 L1591.30 1190.20 L1592.30 1188.28 L1593.10 1187.12 L1593.90 1186.32 L1595.00 1185.90 L1595.50 1186.17 L1596.30 1187.63 L1597.10 1190.13 L1597.90 1193.41 L1598.80 1197.70 L1599.50 1203.36 L1600.30 1212.69 L1601.00 1220.20 L1601.90 1228.26 L1602.70 1234.64 L1603.30 1238.20 L1604.30 1241.94 L1605.10 1244.08 L1605.90 1246.16 L1607.00 1250.20 L1607.50 1253.18 L1608.30 1259.67 L1609.30 1268.20 L1609.90 1273.64 L1610.70 1281.16 L1611.50 1284.70 L1612.30 1284.43 L1613.10 1283.69 L1613.90 1282.61 L1614.70 1281.28 L1615.30 1280.20 L1616.30 1276.41 L1617.10 1273.24 L1617.50 1272.70 L1617.90 1273.09 L1618.70 1275.85 L1619.50 1280.53 L1620.50 1287.70 L1621.10 1293.31 L1621.90 1303.79 L1622.70 1316.47 L1623.50 1330.00 L1624.30 1346.08 L1625.00 1360.10 L1625.90 1375.51 L1626.50 1382.60 L1627.50 1389.55 L1628.30 1393.09 L1628.80 1393.80 L1629.10 1393.60 L1629.90 1391.48 L1630.70 1388.15 L1631.80 1384.10 L1632.30 1382.80 L1633.10 1380.66 L1633.90 1378.93 L1634.80 1378.10 L1635.50 1378.10 L1636.30 1378.10 L1637.10 1378.10 L1637.90 1378.10 L1638.70 1378.10 L1639.30 1378.10 L1640.30 1379.07 L1641.10 1381.00 L1641.60 1382.60 L1641.90 1384.29 L1642.70 1392.86 L1643.10 1397.60 L1643.50 1402.45 L1644.30 1413.16 L1644.90 1420.10 L1645.90 1430.37 L1646.80 1435.10 L1647.50 1434.52 L1648.30 1432.70 L1649.10 1430.12 L1649.80 1427.60 L1650.70 1422.42 L1651.50 1416.15 L1652.30 1410.45 L1652.80 1408.10 L1653.10 1407.10 L1653.90 1404.59 L1654.70 1402.59 L1655.80 1401.40 L1656.30 1401.68 L1657.10 1403.10 L1657.90 1405.29 L1658.80 1408.10 L1659.50 1411.03 L1660.30 1415.54 L1661.10 1420.08 L1661.80 1423.10 L1662.70 1426.08 L1663.50 1428.58 L1664.30 1430.61 L1665.10 1431.86 L1665.60 1432.10 L1665.90 1432.06 L1666.70 1431.58 L1667.50 1430.66 L1668.30 1429.42 L1669.30 1427.60 L1669.90 1425.83 L1670.70 1422.20 L1671.50 1418.35 L1672.30 1415.60 L1673.10 1413.97 L1673.90 1412.62 L1674.70 1411.60 L1675.30 1411.10 L1676.30 1410.64 L1677.10 1410.42 L1677.90 1410.21 L1678.70 1409.86 L1679.10 1409.60 L1679.50 1408.98 L1680.30 1406.21 L1681.10 1402.32 L1682.10 1397.60 L1682.70 1394.95 L1683.50 1391.08 L1684.30 1387.66 L1685.10 1385.60 L1685.90 1384.58 L1686.70 1383.73 L1687.50 1383.08 L1688.30 1382.69 L1688.90 1382.60 L1689.90 1383.74 L1690.70 1385.95 L1691.50 1388.82 L1692.60 1393.10 L1693.10 1395.71 L1693.90 1401.19 L1694.90 1405.10 L1695.50 1405.06 L1696.30 1404.89 L1697.10 1404.57 L1697.90 1404.12 L1698.60 1403.60 L1699.50 1399.77 L1700.30 1393.86 L1700.90 1390.10 L1701.90 1385.69 L1702.70 1382.56 L1703.50 1379.58 L1703.90 1378.10 L1704.30 1376.66 L1705.10 1373.98 L1705.90 1371.32 L1706.90 1367.60 L1707.50 1364.89 L1708.30 1360.76 L1709.10 1356.51 L1709.90 1352.60 L1710.70 1348.89 L1711.50 1345.23 L1712.30 1342.14 L1712.90 1340.50 L1713.90 1338.44 L1714.70 1337.00 L1715.50 1335.92 L1716.60 1335.30 L1717.10 1335.32 L1717.90 1335.43 L1718.70 1335.62 L1719.50 1335.87 L1720.30 1336.17 L1721.10 1336.48 L1721.90 1336.80 L1722.70 1337.12 L1723.50 1337.47 L1724.30 1337.92 L1725.10 1338.52 L1725.60 1339.00 L1725.90 1339.44 L1726.70 1341.67 L1727.50 1344.85 L1728.60 1349.50 L1729.10 1351.68 L1729.90 1355.76 L1730.70 1359.73 L1731.70 1363.10 L1732.30 1364.13 L1733.10 1365.20 L1733.90 1366.04 L1734.70 1366.83 L1735.40 1367.60 L1736.30 1368.52 L1737.10 1369.21 L1737.90 1370.02 L1738.70 1371.14 L1739.20 1372.10 L1739.50 1373.18 L1740.30 1378.96 L1741.40 1387.10 L1741.90 1389.37 L1742.70 1392.85 L1743.50 1395.55 L1744.40 1396.80 L1745.10 1396.34 L1745.90 1394.85 L1746.70 1392.56 L1747.40 1390.10 L1748.30 1383.66 L1749.10 1374.71 L1749.70 1367.60 L1750.70 1354.03 L1751.50 1342.50 L1751.90 1337.50 L1752.30 1333.02 L1753.10 1324.68 L1754.20 1315.00 L1754.70 1311.42 L1755.50 1306.53 L1756.30 1302.22 L1757.10 1298.00 L1757.90 1293.33 L1758.70 1287.70 L1759.50 1279.66 L1760.30 1270.54 L1760.90 1265.20 L1761.90 1259.19 L1762.70 1255.29 L1763.50 1251.85 L1763.90 1250.20 L1764.30 1248.54 L1765.10 1245.24 L1765.90 1242.31 L1766.90 1239.70 L1767.50 1238.71 L1768.30 1237.62 L1769.10 1236.73 L1769.90 1235.95 L1770.70 1235.20 L1771.50 1234.58 L1772.30 1234.14 L1773.10 1233.64 L1773.90 1232.89 L1774.40 1232.20 L1774.70 1231.06 L1775.50 1225.14 L1775.90 1223.20 L1776.30 1222.34 L1777.10 1220.89 L1777.90 1219.88 L1778.90 1219.40 L1779.50 1219.68 L1780.30 1220.73 L1781.10 1222.20 L1781.90 1223.73 L1782.70 1224.92 L1783.50 1225.40 L1784.30 1225.23 L1785.10 1224.76 L1785.90 1224.07 L1786.70 1223.23 L1787.50 1222.30 L1788.00 1221.70 L1788.30 1221.27 L1789.10 1219.57 L1789.90 1217.48 L1790.70 1215.56 L1791.70 1214.20 L1792.30 1213.94 L1793.10 1213.66 L1793.90 1213.47 L1794.70 1213.40 L1795.50 1214.09 L1796.30 1215.70 L1797.10 1217.56 L1797.90 1219.00 L1798.50 1219.40 L1799.50 1218.78 L1800.30 1217.52 L1801.10 1215.73 L1802.20 1212.70 L1802.70 1210.43 L1803.50 1204.71 L1804.50 1197.70 L1805.10 1194.27 L1805.90 1189.59 L1806.70 1185.90 L1807.50 1184.40 L1808.30 1185.20 L1809.10 1187.39 L1809.90 1190.70 L1810.70 1194.83 L1811.20 1197.70 L1811.50 1200.05 L1812.30 1210.34 L1813.10 1222.51 L1813.50 1227.70 L1813.90 1232.27 L1814.70 1241.04 L1815.70 1250.20 L1816.30 1254.56 L1817.10 1259.70 L1817.90 1264.20 L1818.70 1268.20 L1819.50 1272.31 L1820.00 1273.50 L1820.30 1273.38 L1821.10 1272.03 L1821.90 1269.57 L1823.00 1265.30 L1823.50 1262.79 L1824.30 1257.12 L1825.10 1250.35 L1826.00 1242.70 L1826.70 1236.70 L1827.50 1229.35 L1828.30 1222.35 L1829.00 1217.20 L1829.90 1211.68 L1830.70 1207.54 L1831.30 1205.20 L1832.30 1202.01 L1833.10 1199.87 L1833.90 1198.58 L1834.30 1198.40 L1834.70 1198.41 L1835.50 1198.48 L1836.30 1198.60 L1837.10 1198.75 L1837.90 1198.91 L1838.70 1199.07 L1839.50 1199.20 L1840.30 1199.30 L1841.10 1199.38 L1841.90 1199.46 L1842.70 1199.54 L1843.50 1199.65 L1844.30 1199.79 L1844.80 1199.90 L1845.10 1200.03 L1845.90 1200.85 L1846.70 1202.09 L1847.50 1203.44 L1848.30 1204.57 L1849.30 1205.20 L1849.90 1204.88 L1850.70 1203.62 L1851.50 1201.74 L1852.30 1199.56 L1853.00 1197.70 L1853.90 1194.77 L1854.70 1191.68 L1855.50 1189.00 L1856.00 1187.90 L1856.30 1187.44 L1857.10 1186.31 L1857.90 1185.34 L1858.70 1184.55 L1859.50 1183.93 L1860.50 1183.40 L1861.10 1183.17 L1861.90 1182.89 L1862.70 1182.66 L1863.50 1182.49 L1864.60 1182.40 L1865.10 1182.64 L1865.90 1183.88 L1866.70 1185.89 L1867.50 1188.31 L1868.10 1190.20 L1869.10 1194.36 L1869.90 1198.66 L1870.70 1203.11 L1871.10 1205.20 L1871.50 1207.17 L1872.30 1211.01 L1873.10 1214.91 L1874.10 1220.20 L1874.70 1223.59 L1875.50 1228.28 L1876.30 1233.52 L1877.10 1239.70 L1877.90 1248.17 L1878.70 1258.26 L1879.30 1265.30 L1880.30 1275.05 L1881.10 1282.61 L1881.60 1287.80 L1881.90 1291.40 L1882.80 1302.50 L1883.50 1309.86 L1884.60 1316.80 L1885.10 1316.22 L1885.90 1313.11 L1886.70 1307.73 L1887.30 1302.50 L1888.30 1280.30 L1889.10 1268.50 L1889.80 1262.30 L1890.70 1258.78 L1891.50 1256.43 L1892.30 1254.93 L1893.10 1254.40 L1893.90 1255.88 L1894.70 1259.45 L1895.80 1265.30 L1896.30 1268.73 L1897.30 1274.30 L1897.90 1272.90 L1898.70 1268.22 L1899.50 1263.17 L1900.30 1260.80 L1901.10 1262.12 L1901.90 1265.40 L1902.70 1269.63 L1903.30 1272.80 L1904.30 1278.35 L1905.10 1283.80 L1905.60 1287.80 L1905.90 1290.93 L1906.70 1302.56 L1907.50 1313.27 L1907.90 1316.00 L1908.30 1317.35 L1909.10 1319.71 L1909.90 1321.56 L1910.70 1322.85 L1911.50 1323.51 L1911.90 1323.60 L1912.30 1323.50 L1913.10 1322.78 L1913.90 1321.46 L1914.70 1319.71 L1915.50 1317.65 L1916.10 1316.00 L1917.10 1312.39 L1917.90 1308.36 L1918.70 1303.36 L1919.50 1297.42 L1920.60 1287.80 L1921.10 1281.20 L1922.10 1265.30 L1922.70 1258.35 L1923.50 1250.12 L1924.40 1242.70 L1925.10 1237.92 L1925.90 1233.30 L1926.60 1230.70 L1927.50 1228.80 L1928.30 1227.54 L1929.10 1226.62 L1929.60 1226.20 L1929.90 1225.98 L1930.70 1225.43 L1931.50 1224.95 L1932.30 1224.60 L1933.40 1224.40 L1933.90 1224.56 L1934.70 1225.34 L1935.50 1226.38 L1936.30 1227.30 L1937.10 1227.70 L1937.90 1226.96 L1938.70 1224.89 L1939.80 1220.20 L1940.30 1213.80 L1940.90 1205.20 L1941.90 1199.92 L1942.70 1197.09 L1943.50 1194.59 L1943.90 1193.20 L1944.30 1191.63 L1945.10 1188.28 L1945.90 1185.20 L1946.90 1182.70 L1947.50 1181.92 L1948.30 1181.05 L1949.10 1180.51 L1949.60 1180.40 L1949.90 1180.51 L1950.70 1181.79 L1951.50 1184.22 L1952.30 1187.46 L1952.90 1190.20 L1953.90 1198.05 L1954.70 1206.99 L1955.20 1212.70 L1955.50 1216.08 L1956.30 1225.82 L1957.00 1235.20 L1957.90 1249.09 L1958.90 1265.30 L1959.50 1273.52 L1960.40 1287.80 L1961.10 1311.54 L1961.90 1340.10 L1962.70 1355.62 L1963.50 1367.64 L1964.20 1377.60 L1965.10 1390.73 L1965.90 1401.54 L1966.40 1407.60 L1966.70 1410.98 L1967.50 1419.46 L1968.30 1426.93 L1968.70 1430.20 L1969.10 1433.54 L1969.90 1439.98 L1970.60 1442.50 L1971.50 1438.43 L1972.30 1430.10 L1972.90 1422.70 L1973.90 1403.57 L1974.40 1392.60 L1974.70 1386.42 L1975.50 1369.64 L1976.20 1355.10 L1977.10 1336.44 L1977.70 1325.10 L1978.70 1307.52 L1979.20 1302.50 L1979.50 1301.17 L1980.30 1298.58 L1981.40 1296.50 L1981.90 1295.89 L1982.70 1295.30 L1983.50 1294.73 L1984.40 1293.50 L1985.10 1289.10 L1985.90 1280.30 L1986.70 1267.86 L1987.40 1257.80 L1988.30 1250.21 L1989.10 1245.19 L1989.70 1242.70 L1990.70 1240.28 L1991.50 1238.94 L1992.30 1237.57 L1992.70 1236.70 L1993.10 1235.71 L1993.90 1233.55 L1994.70 1231.12 L1995.70 1227.70 L1996.30 1225.07 L1997.10 1220.95 L1998.00 1217.20 L1998.70 1215.48 L1999.50 1214.01 L2000.30 1212.72 L2001.10 1211.21 L2001.70 1209.70 L2002.70 1205.11 L2003.50 1200.93 L2004.00 1199.20 L2004.30 1198.57 L2005.10 1197.32 L2005.90 1196.36 L2007.00 1194.70 L2007.50 1193.44 L2008.30 1190.74 L2009.10 1187.93 L2010.00 1185.70 L2010.70 1184.67 L2011.50 1183.64 L2012.30 1182.93 L2013.00 1182.70 L2013.90 1186.43 L2014.70 1193.33 L2015.20 1197.70 L2015.50 1200.34 L2016.30 1208.78 L2017.10 1217.02 L2017.50 1220.20 L2017.90 1222.95 L2018.70 1228.38 L2019.50 1232.80 L2020.50 1235.20 L2021.10 1234.94 L2021.90 1233.86 L2022.70 1232.13 L2023.50 1229.90 L2024.20 1227.70 L2025.10 1222.79 L2025.90 1216.23 L2026.70 1209.18 L2027.20 1205.20 L2027.50 1202.92 L2028.30 1196.48 L2029.10 1190.78 L2029.50 1188.70 L2029.90 1187.05 L2030.70 1184.15 L2031.50 1181.82 L2032.50 1179.70 L2033.10 1178.70 L2033.90 1177.45 L2034.70 1176.41 L2035.50 1175.71 L2036.20 1175.50 L2037.10 1175.97 L2037.90 1177.12 L2038.70 1178.86 L2039.50 1181.09 L2040.00 1182.70 L2040.30 1184.21 L2041.10 1191.78 L2041.90 1201.16 L2042.30 1205.20 L2042.70 1209.10 L2043.50 1217.62 L2044.30 1224.10 L2044.80 1225.50 L2045.10 1225.32 L2045.90 1223.41 L2046.70 1220.33 L2047.50 1217.20 L2048.30 1214.02 L2049.10 1210.46 L2049.90 1207.14 L2050.50 1205.20 L2051.50 1202.85 L2052.30 1201.31 L2053.10 1199.91 L2053.90 1198.48 L2054.30 1197.70 L2054.70 1196.89 L2055.50 1195.26 L2056.50 1193.20"/>
</g>
<g stroke="#000" fill="none">
<line x1="301.5" y1="23.0" x2="301.5" y2="1551.0" stroke-width="3.0" stroke-dasharray="11.7 8.6"/>
<line x1="1026.0" y1="25.3" x2="1026.0" y2="1551.0" stroke-width="2.0" stroke-dasharray="11.7 8.6"/>
<line x1="1506.0" y1="24.2" x2="1506.0" y2="1551.0" stroke-width="2.0" stroke-dasharray="11.7 8.6"/>
<line x1="1552.0" y1="24.2" x2="1552.0" y2="1551.0" stroke-width="2.0" stroke-dasharray="11.7 8.6"/>
<line x1="1837.5" y1="24.1" x2="1837.5" y2="1551.0" stroke-width="3.0" stroke-dasharray="11.7 8.6"/>
</g>
<g class="serif" fill="#000" stroke="#000" stroke-width="0.4">
<text x="193.5" y="143.6" font-size="64.6">WZ<tspan font-weight="bold">-</tspan>cn<tspan font-weight="bold">-</tspan>90</text>
<text x="184.3" y="445.8" font-size="64.6">WZ<tspan font-weight="bold">-</tspan>cn200</text>
<text x="186.3" y="813.3" font-size="64.6">WZ<tspan font-weight="bold">-</tspan>cn220</text>
<text x="191.0" y="1142.8" font-size="64.6">WZ<tspan font-weight="bold">-</tspan>cn240</text>
<text transform="translate(301.5,1496.2) scale(1,1.030)" font-size="65.0">3379</text>
<text transform="translate(844.6,1486.1) scale(1,1.030)" font-size="65.0">2231</text>
<text transform="translate(1325.1,1506.1) scale(1,1.030)" font-size="65.0">1471</text>
<text transform="translate(1548.6,1518.3) scale(1,1.030)" font-size="65.0">1399</text>
<text transform="translate(1841.5,1516.1) scale(1,1.030)" font-size="65.0">946</text>
</g>
<rect x="163.0" y="25.0" width="1893.0" height="1526.0" fill="none" stroke="#000" stroke-width="8" stroke-linejoin="round"/>
<g stroke="#000" stroke-width="8" stroke-linecap="round">
<line x1="226.0" y1="1551.0" x2="226.0" y2="1581"/>
<line x1="541.4" y1="1551.0" x2="541.4" y2="1581"/>
<line x1="856.8" y1="1551.0" x2="856.8" y2="1581"/>
<line x1="1172.2" y1="1551.0" x2="1172.2" y2="1581"/>
<line x1="1487.6" y1="1551.0" x2="1487.6" y2="1581"/>
<line x1="1803.0" y1="1551.0" x2="1803.0" y2="1581"/>
<line x1="383.7" y1="1551.0" x2="383.7" y2="1566"/>
<line x1="699.1" y1="1551.0" x2="699.1" y2="1566"/>
<line x1="1014.5" y1="1551.0" x2="1014.5" y2="1566"/>
<line x1="1329.9" y1="1551.0" x2="1329.9" y2="1566"/>
<line x1="1645.3" y1="1551.0" x2="1645.3" y2="1566"/>
<line x1="1960.7" y1="1551.0" x2="1960.7" y2="1566"/>
</g>
<g class="sans" font-size="64.2" fill="#000" stroke="#000" stroke-width="0.35" text-anchor="middle">
<text x="225.5" y="1650.9">3500</text>
<text x="540.9" y="1650.9">3000</text>
<text x="856.3" y="1650.9">2500</text>
<text x="1171.7" y="1650.9">2000</text>
<text x="1487.1" y="1650.9">1500</text>
<text x="1802.5" y="1650.9">1000</text>
</g>
<g class="sans" font-size="79.5" fill="#000" stroke="#000" stroke-width="0.6" stroke-linejoin="round">
<text transform="translate(722.6,1793) scale(1,1.024)">Wavenumber <tspan dx="-2.5">(cm</tspan><tspan class="serif" font-size="54" stroke-width="0.3" dx="-2.2" dy="-32.2">−</tspan><tspan font-size="46" dx="-0.8" dy="-5.8">1</tspan><tspan dx="3.1" dy="38">)</tspan></text>
<text transform="translate(85.3,1101.5) rotate(-90) scale(1,1.024)">Transmittance (%)</text>
</g>
</svg></body></html>
